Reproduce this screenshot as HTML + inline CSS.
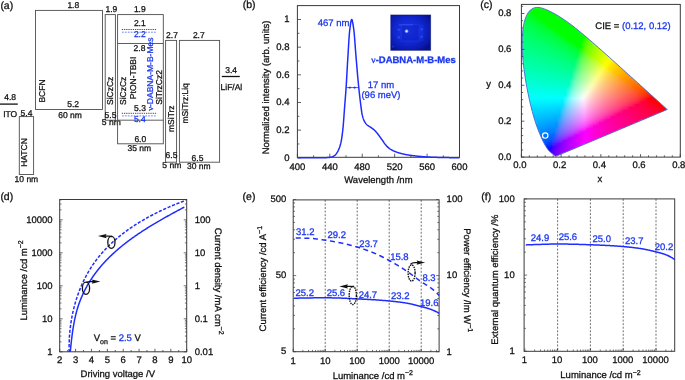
<!DOCTYPE html>
<html><head><meta charset="utf-8"><style>
html,body{margin:0;padding:0;background:#fff;}
#wrap{position:relative;width:685px;height:380px;overflow:hidden;background:#fff;will-change:transform;}
svg{position:absolute;left:0;top:0;}
text{font-family:"Liberation Sans", sans-serif;stroke-width:0.28px;text-rendering:geometricPrecision;}
#cie{position:absolute;left:0;top:0;}
</style></head><body><div id="wrap">
<svg id="ciefb" width="685" height="380" viewBox="0 0 685 380" style="position:absolute;left:0;top:0">
<defs><clipPath id="hs"><path d="M555.98,156.20 L555.97,156.20 L555.96,156.20 L555.95,156.21 L555.93,156.22 L555.92,156.22 L555.90,156.22 L555.89,156.22 L555.87,156.22 L555.84,156.23 L555.82,156.24 L555.79,156.24 L555.77,156.24 L555.74,156.24 L555.71,156.24 L555.68,156.24 L555.64,156.24 L555.60,156.24 L555.56,156.23 L555.50,156.22 L555.44,156.18 L555.36,156.14 L555.27,156.09 L555.17,156.03 L555.07,155.95 L554.94,155.86 L554.80,155.75 L554.63,155.63 L554.45,155.48 L554.26,155.32 L554.05,155.14 L553.81,154.95 L553.54,154.74 L553.24,154.50 L552.88,154.22 L552.50,153.92 L552.09,153.60 L551.63,153.23 L551.13,152.81 L550.59,152.32 L550.00,151.77 L549.37,151.15 L548.69,150.39 L547.91,149.43 L547.03,148.21 L546.05,146.72 L544.97,144.93 L543.79,142.77 L542.51,140.15 L541.10,137.00 L539.53,133.28 L537.80,128.93 L535.98,123.88 L534.11,118.07 L532.26,111.49 L530.42,104.15 L528.60,96.08 L526.87,87.47 L525.32,78.51 L524.03,69.44 L523.03,60.46 L522.38,51.77 L522.13,43.51 L522.33,35.77 L523.00,28.69 L524.16,22.44 L525.82,17.17 L527.93,12.99 L530.41,10.01 L533.18,8.21 L536.16,7.43 L539.27,7.52 L542.46,8.26 L545.70,9.42 L548.94,10.85 L552.12,12.44 L555.22,14.12 L558.23,15.89 L561.18,17.74 L564.10,19.68 L567.00,21.70 L569.88,23.81 L572.76,25.98 L575.62,28.21 L578.46,30.50 L581.30,32.83 L584.13,35.21 L586.97,37.61 L589.81,40.05 L592.66,42.52 L595.50,45.00 L598.33,47.50 L601.16,50.01 L603.98,52.52 L606.80,55.03 L609.60,57.53 L612.38,60.02 L615.13,62.50 L617.85,64.95 L620.53,67.37 L623.18,69.76 L625.79,72.10 L628.34,74.41 L630.84,76.65 L633.27,78.83 L635.63,80.96 L637.91,83.01 L640.09,84.98 L642.15,86.84 L644.08,88.58 L645.92,90.24 L647.68,91.82 L649.34,93.32 L650.89,94.70 L652.32,95.97 L653.63,97.15 L654.84,98.24 L655.95,99.24 L656.96,100.16 L657.89,101.00 L658.73,101.76 L659.50,102.45 L660.21,103.08 L660.85,103.66 L661.44,104.19 L661.99,104.69 L662.50,105.15 L662.98,105.58 L663.42,105.98 L663.82,106.34 L664.19,106.68 L664.53,106.98 L664.84,107.25 L665.12,107.50 L665.37,107.72 L665.58,107.92 L665.78,108.09 L665.96,108.26 L666.12,108.40 L666.26,108.53 L666.38,108.63 L666.48,108.72 L666.56,108.80 L666.63,108.87 L666.71,108.93 L666.78,108.99 L666.83,109.05 L666.89,109.09 L666.94,109.14 L667.00,109.20 L667.05,109.25 L667.10,109.29 L667.15,109.33 L667.19,109.37 L667.22,109.40 L667.25,109.42 L667.28,109.45 L667.29,109.46 L667.31,109.47 L667.31,109.48 L667.31,109.48Z"/></clipPath><filter id="bl" x="-5%" y="-5%" width="110%" height="110%"><feGaussianBlur stdDeviation="1.1"/></filter></defs>
<g clip-path="url(#hs)"><g filter="url(#bl)" shape-rendering="crispEdges"><rect x="529" y="7" width="3" height="3" fill="#00ff00"/><rect x="532" y="7" width="3" height="3" fill="#00ff00"/><rect x="535" y="7" width="3" height="3" fill="#00ff00"/><rect x="538" y="7" width="3" height="3" fill="#00ff00"/><rect x="541" y="7" width="3" height="3" fill="#00ff00"/><rect x="544" y="7" width="3" height="3" fill="#00ff00"/><rect x="547" y="7" width="3" height="3" fill="#00ff00"/><rect x="526" y="10" width="3" height="3" fill="#00ff07"/><rect x="529" y="10" width="3" height="3" fill="#00ff00"/><rect x="532" y="10" width="3" height="3" fill="#00ff00"/><rect x="535" y="10" width="3" height="3" fill="#00ff00"/><rect x="538" y="10" width="3" height="3" fill="#00ff00"/><rect x="541" y="10" width="3" height="3" fill="#00ff00"/><rect x="544" y="10" width="3" height="3" fill="#00ff00"/><rect x="547" y="10" width="3" height="3" fill="#00ff00"/><rect x="550" y="10" width="3" height="3" fill="#00ff00"/><rect x="553" y="10" width="3" height="3" fill="#00ff00"/><rect x="526" y="13" width="3" height="3" fill="#00ff23"/><rect x="529" y="13" width="3" height="3" fill="#00ff13"/><rect x="532" y="13" width="3" height="3" fill="#00ff00"/><rect x="535" y="13" width="3" height="3" fill="#00ff00"/><rect x="538" y="13" width="3" height="3" fill="#00ff00"/><rect x="541" y="13" width="3" height="3" fill="#00ff00"/><rect x="544" y="13" width="3" height="3" fill="#00ff00"/><rect x="547" y="13" width="3" height="3" fill="#00ff00"/><rect x="550" y="13" width="3" height="3" fill="#00ff00"/><rect x="553" y="13" width="3" height="3" fill="#00ff00"/><rect x="556" y="13" width="3" height="3" fill="#00ff00"/><rect x="523" y="16" width="3" height="3" fill="#00ff3a"/><rect x="526" y="16" width="3" height="3" fill="#00ff32"/><rect x="529" y="16" width="3" height="3" fill="#00ff28"/><rect x="532" y="16" width="3" height="3" fill="#00ff1b"/><rect x="535" y="16" width="3" height="3" fill="#00ff00"/><rect x="538" y="16" width="3" height="3" fill="#00ff00"/><rect x="541" y="16" width="3" height="3" fill="#00ff00"/><rect x="544" y="16" width="3" height="3" fill="#00ff00"/><rect x="547" y="16" width="3" height="3" fill="#00ff00"/><rect x="550" y="16" width="3" height="3" fill="#00ff00"/><rect x="553" y="16" width="3" height="3" fill="#00ff00"/><rect x="556" y="16" width="3" height="3" fill="#00ff00"/><rect x="559" y="16" width="3" height="3" fill="#00ff00"/><rect x="562" y="16" width="3" height="3" fill="#00ff00"/><rect x="523" y="19" width="3" height="3" fill="#00ff44"/><rect x="526" y="19" width="3" height="3" fill="#00ff3d"/><rect x="529" y="19" width="3" height="3" fill="#00ff36"/><rect x="532" y="19" width="3" height="3" fill="#00ff2d"/><rect x="535" y="19" width="3" height="3" fill="#00ff22"/><rect x="538" y="19" width="3" height="3" fill="#00ff0e"/><rect x="541" y="19" width="3" height="3" fill="#00ff00"/><rect x="544" y="19" width="3" height="3" fill="#00ff00"/><rect x="547" y="19" width="3" height="3" fill="#00ff00"/><rect x="550" y="19" width="3" height="3" fill="#00ff00"/><rect x="553" y="19" width="3" height="3" fill="#00ff00"/><rect x="556" y="19" width="3" height="3" fill="#00ff00"/><rect x="559" y="19" width="3" height="3" fill="#00ff00"/><rect x="562" y="19" width="3" height="3" fill="#00ff00"/><rect x="565" y="19" width="3" height="3" fill="#00ff00"/><rect x="523" y="22" width="3" height="3" fill="#00ff4d"/><rect x="526" y="22" width="3" height="3" fill="#00ff47"/><rect x="529" y="22" width="3" height="3" fill="#00ff41"/><rect x="532" y="22" width="3" height="3" fill="#00ff3a"/><rect x="535" y="22" width="3" height="3" fill="#00ff32"/><rect x="538" y="22" width="3" height="3" fill="#00ff27"/><rect x="541" y="22" width="3" height="3" fill="#00ff18"/><rect x="544" y="22" width="3" height="3" fill="#00ff00"/><rect x="547" y="22" width="3" height="3" fill="#00ff00"/><rect x="550" y="22" width="3" height="3" fill="#00ff00"/><rect x="553" y="22" width="3" height="3" fill="#00ff00"/><rect x="556" y="22" width="3" height="3" fill="#00ff00"/><rect x="559" y="22" width="3" height="3" fill="#00ff00"/><rect x="562" y="22" width="3" height="3" fill="#00ff00"/><rect x="565" y="22" width="3" height="3" fill="#00ff00"/><rect x="568" y="22" width="3" height="3" fill="#00ff00"/><rect x="571" y="22" width="3" height="3" fill="#00ff00"/><rect x="523" y="25" width="3" height="3" fill="#00ff55"/><rect x="526" y="25" width="3" height="3" fill="#00ff50"/><rect x="529" y="25" width="3" height="3" fill="#00ff4b"/><rect x="532" y="25" width="3" height="3" fill="#00ff45"/><rect x="535" y="25" width="3" height="3" fill="#00ff3e"/><rect x="538" y="25" width="3" height="3" fill="#00ff37"/><rect x="541" y="25" width="3" height="3" fill="#00ff2d"/><rect x="544" y="25" width="3" height="3" fill="#00ff20"/><rect x="547" y="25" width="3" height="3" fill="#00ff08"/><rect x="550" y="25" width="3" height="3" fill="#00ff00"/><rect x="553" y="25" width="3" height="3" fill="#00ff00"/><rect x="556" y="25" width="3" height="3" fill="#00ff00"/><rect x="559" y="25" width="3" height="3" fill="#00ff00"/><rect x="562" y="25" width="3" height="3" fill="#00ff00"/><rect x="565" y="25" width="3" height="3" fill="#00ff00"/><rect x="568" y="25" width="3" height="3" fill="#00ff00"/><rect x="571" y="25" width="3" height="3" fill="#00ff00"/><rect x="574" y="25" width="3" height="3" fill="#00ff00"/><rect x="520" y="28" width="3" height="3" fill="#00ff61"/><rect x="523" y="28" width="3" height="3" fill="#00ff5d"/><rect x="526" y="28" width="3" height="3" fill="#00ff59"/><rect x="529" y="28" width="3" height="3" fill="#00ff54"/><rect x="532" y="28" width="3" height="3" fill="#00ff4f"/><rect x="535" y="28" width="3" height="3" fill="#00ff49"/><rect x="538" y="28" width="3" height="3" fill="#00ff43"/><rect x="541" y="28" width="3" height="3" fill="#00ff3b"/><rect x="544" y="28" width="3" height="3" fill="#00ff32"/><rect x="547" y="28" width="3" height="3" fill="#00ff27"/><rect x="550" y="28" width="3" height="3" fill="#00ff15"/><rect x="553" y="28" width="3" height="3" fill="#00ff00"/><rect x="556" y="28" width="3" height="3" fill="#00ff00"/><rect x="559" y="28" width="3" height="3" fill="#00ff00"/><rect x="562" y="28" width="3" height="3" fill="#00ff00"/><rect x="565" y="28" width="3" height="3" fill="#00ff00"/><rect x="568" y="28" width="3" height="3" fill="#00ff00"/><rect x="571" y="28" width="3" height="3" fill="#00ff00"/><rect x="574" y="28" width="3" height="3" fill="#00ff00"/><rect x="577" y="28" width="3" height="3" fill="#00ff00"/><rect x="520" y="31" width="3" height="3" fill="#00ff68"/><rect x="523" y="31" width="3" height="3" fill="#00ff64"/><rect x="526" y="31" width="3" height="3" fill="#00ff60"/><rect x="529" y="31" width="3" height="3" fill="#00ff5c"/><rect x="532" y="31" width="3" height="3" fill="#00ff57"/><rect x="535" y="31" width="3" height="3" fill="#00ff52"/><rect x="538" y="31" width="3" height="3" fill="#00ff4d"/><rect x="541" y="31" width="3" height="3" fill="#00ff47"/><rect x="544" y="31" width="3" height="3" fill="#00ff3f"/><rect x="547" y="31" width="3" height="3" fill="#00ff37"/><rect x="550" y="31" width="3" height="3" fill="#00ff2d"/><rect x="553" y="31" width="3" height="3" fill="#00ff1e"/><rect x="556" y="31" width="3" height="3" fill="#00ff00"/><rect x="559" y="31" width="3" height="3" fill="#00ff00"/><rect x="562" y="31" width="3" height="3" fill="#00ff00"/><rect x="565" y="31" width="3" height="3" fill="#00ff00"/><rect x="568" y="31" width="3" height="3" fill="#00ff00"/><rect x="571" y="31" width="3" height="3" fill="#00ff00"/><rect x="574" y="31" width="3" height="3" fill="#00ff00"/><rect x="577" y="31" width="3" height="3" fill="#00ff00"/><rect x="580" y="31" width="3" height="3" fill="#00ff00"/><rect x="520" y="34" width="3" height="3" fill="#00ff6f"/><rect x="523" y="34" width="3" height="3" fill="#00ff6b"/><rect x="526" y="34" width="3" height="3" fill="#00ff68"/><rect x="529" y="34" width="3" height="3" fill="#00ff64"/><rect x="532" y="34" width="3" height="3" fill="#00ff60"/><rect x="535" y="34" width="3" height="3" fill="#00ff5b"/><rect x="538" y="34" width="3" height="3" fill="#00ff56"/><rect x="541" y="34" width="3" height="3" fill="#00ff51"/><rect x="544" y="34" width="3" height="3" fill="#00ff4b"/><rect x="547" y="34" width="3" height="3" fill="#00ff44"/><rect x="550" y="34" width="3" height="3" fill="#00ff3c"/><rect x="553" y="34" width="3" height="3" fill="#00ff32"/><rect x="556" y="34" width="3" height="3" fill="#00ff25"/><rect x="559" y="34" width="3" height="3" fill="#00ff10"/><rect x="562" y="34" width="3" height="3" fill="#00ff00"/><rect x="565" y="34" width="3" height="3" fill="#00ff00"/><rect x="568" y="34" width="3" height="3" fill="#00ff00"/><rect x="571" y="34" width="3" height="3" fill="#00ff00"/><rect x="574" y="34" width="3" height="3" fill="#00ff00"/><rect x="577" y="34" width="3" height="3" fill="#00ff00"/><rect x="580" y="34" width="3" height="3" fill="#00ff00"/><rect x="583" y="34" width="3" height="3" fill="#00ff00"/><rect x="586" y="34" width="3" height="3" fill="#3cff00"/><rect x="520" y="37" width="3" height="3" fill="#00ff75"/><rect x="523" y="37" width="3" height="3" fill="#00ff72"/><rect x="526" y="37" width="3" height="3" fill="#00ff6f"/><rect x="529" y="37" width="3" height="3" fill="#00ff6b"/><rect x="532" y="37" width="3" height="3" fill="#00ff67"/><rect x="535" y="37" width="3" height="3" fill="#00ff63"/><rect x="538" y="37" width="3" height="3" fill="#00ff5f"/><rect x="541" y="37" width="3" height="3" fill="#00ff5a"/><rect x="544" y="37" width="3" height="3" fill="#00ff55"/><rect x="547" y="37" width="3" height="3" fill="#00ff4f"/><rect x="550" y="37" width="3" height="3" fill="#00ff48"/><rect x="553" y="37" width="3" height="3" fill="#00ff41"/><rect x="556" y="37" width="3" height="3" fill="#00ff38"/><rect x="559" y="37" width="3" height="3" fill="#00ff2c"/><rect x="562" y="37" width="3" height="3" fill="#00ff1b"/><rect x="565" y="37" width="3" height="3" fill="#00ff00"/><rect x="568" y="37" width="3" height="3" fill="#00ff00"/><rect x="571" y="37" width="3" height="3" fill="#00ff00"/><rect x="574" y="37" width="3" height="3" fill="#00ff00"/><rect x="577" y="37" width="3" height="3" fill="#00ff00"/><rect x="580" y="37" width="3" height="3" fill="#00ff00"/><rect x="583" y="37" width="3" height="3" fill="#0bff00"/><rect x="586" y="37" width="3" height="3" fill="#48ff00"/><rect x="589" y="37" width="3" height="3" fill="#65ff00"/><rect x="520" y="40" width="3" height="3" fill="#00ff7c"/><rect x="523" y="40" width="3" height="3" fill="#00ff79"/><rect x="526" y="40" width="3" height="3" fill="#00ff76"/><rect x="529" y="40" width="3" height="3" fill="#00ff72"/><rect x="532" y="40" width="3" height="3" fill="#00ff6f"/><rect x="535" y="40" width="3" height="3" fill="#00ff6b"/><rect x="538" y="40" width="3" height="3" fill="#00ff67"/><rect x="541" y="40" width="3" height="3" fill="#00ff63"/><rect x="544" y="40" width="3" height="3" fill="#00ff5e"/><rect x="547" y="40" width="3" height="3" fill="#00ff59"/><rect x="550" y="40" width="3" height="3" fill="#00ff53"/><rect x="553" y="40" width="3" height="3" fill="#00ff4d"/><rect x="556" y="40" width="3" height="3" fill="#00ff46"/><rect x="559" y="40" width="3" height="3" fill="#00ff3d"/><rect x="562" y="40" width="3" height="3" fill="#00ff32"/><rect x="565" y="40" width="3" height="3" fill="#00ff24"/><rect x="568" y="40" width="3" height="3" fill="#00ff08"/><rect x="571" y="40" width="3" height="3" fill="#00ff00"/><rect x="574" y="40" width="3" height="3" fill="#00ff00"/><rect x="577" y="40" width="3" height="3" fill="#00ff00"/><rect x="580" y="40" width="3" height="3" fill="#00ff00"/><rect x="583" y="40" width="3" height="3" fill="#2aff00"/><rect x="586" y="40" width="3" height="3" fill="#53ff00"/><rect x="589" y="40" width="3" height="3" fill="#6dff00"/><rect x="592" y="40" width="3" height="3" fill="#82ff00"/><rect x="520" y="43" width="3" height="3" fill="#00ff82"/><rect x="523" y="43" width="3" height="3" fill="#00ff7f"/><rect x="526" y="43" width="3" height="3" fill="#00ff7c"/><rect x="529" y="43" width="3" height="3" fill="#00ff79"/><rect x="532" y="43" width="3" height="3" fill="#00ff76"/><rect x="535" y="43" width="3" height="3" fill="#00ff73"/><rect x="538" y="43" width="3" height="3" fill="#00ff6f"/><rect x="541" y="43" width="3" height="3" fill="#00ff6b"/><rect x="544" y="43" width="3" height="3" fill="#00ff67"/><rect x="547" y="43" width="3" height="3" fill="#00ff62"/><rect x="550" y="43" width="3" height="3" fill="#00ff5d"/><rect x="553" y="43" width="3" height="3" fill="#00ff58"/><rect x="556" y="43" width="3" height="3" fill="#00ff51"/><rect x="559" y="43" width="3" height="3" fill="#00ff4a"/><rect x="562" y="43" width="3" height="3" fill="#00ff42"/><rect x="565" y="43" width="3" height="3" fill="#00ff38"/><rect x="568" y="43" width="3" height="3" fill="#00ff2c"/><rect x="571" y="43" width="3" height="3" fill="#00ff18"/><rect x="574" y="43" width="3" height="3" fill="#00ff00"/><rect x="577" y="43" width="3" height="3" fill="#00ff00"/><rect x="580" y="43" width="3" height="3" fill="#00ff00"/><rect x="583" y="43" width="3" height="3" fill="#3bff00"/><rect x="586" y="43" width="3" height="3" fill="#5dff00"/><rect x="589" y="43" width="3" height="3" fill="#75ff00"/><rect x="592" y="43" width="3" height="3" fill="#89ff00"/><rect x="595" y="43" width="3" height="3" fill="#9bff00"/><rect x="520" y="46" width="3" height="3" fill="#00ff88"/><rect x="523" y="46" width="3" height="3" fill="#00ff86"/><rect x="526" y="46" width="3" height="3" fill="#00ff83"/><rect x="529" y="46" width="3" height="3" fill="#00ff80"/><rect x="532" y="46" width="3" height="3" fill="#00ff7d"/><rect x="535" y="46" width="3" height="3" fill="#00ff7a"/><rect x="538" y="46" width="3" height="3" fill="#00ff77"/><rect x="541" y="46" width="3" height="3" fill="#00ff73"/><rect x="544" y="46" width="3" height="3" fill="#00ff6f"/><rect x="547" y="46" width="3" height="3" fill="#00ff6b"/><rect x="550" y="46" width="3" height="3" fill="#00ff66"/><rect x="553" y="46" width="3" height="3" fill="#00ff62"/><rect x="556" y="46" width="3" height="3" fill="#00ff5c"/><rect x="559" y="46" width="3" height="3" fill="#00ff56"/><rect x="562" y="46" width="3" height="3" fill="#00ff4f"/><rect x="565" y="46" width="3" height="3" fill="#00ff48"/><rect x="568" y="46" width="3" height="3" fill="#00ff3e"/><rect x="571" y="46" width="3" height="3" fill="#00ff33"/><rect x="574" y="46" width="3" height="3" fill="#00ff22"/><rect x="577" y="46" width="3" height="3" fill="#00ff00"/><rect x="580" y="46" width="3" height="3" fill="#00ff00"/><rect x="583" y="46" width="3" height="3" fill="#49ff00"/><rect x="586" y="46" width="3" height="3" fill="#67ff00"/><rect x="589" y="46" width="3" height="3" fill="#7eff00"/><rect x="592" y="46" width="3" height="3" fill="#91ff00"/><rect x="595" y="46" width="3" height="3" fill="#a2ff00"/><rect x="598" y="46" width="3" height="3" fill="#b1ff00"/><rect x="520" y="49" width="3" height="3" fill="#00ff8e"/><rect x="523" y="49" width="3" height="3" fill="#00ff8c"/><rect x="526" y="49" width="3" height="3" fill="#00ff8a"/><rect x="529" y="49" width="3" height="3" fill="#00ff87"/><rect x="532" y="49" width="3" height="3" fill="#00ff84"/><rect x="535" y="49" width="3" height="3" fill="#00ff81"/><rect x="538" y="49" width="3" height="3" fill="#00ff7e"/><rect x="541" y="49" width="3" height="3" fill="#00ff7b"/><rect x="544" y="49" width="3" height="3" fill="#00ff77"/><rect x="547" y="49" width="3" height="3" fill="#00ff73"/><rect x="550" y="49" width="3" height="3" fill="#00ff6f"/><rect x="553" y="49" width="3" height="3" fill="#00ff6b"/><rect x="556" y="49" width="3" height="3" fill="#00ff66"/><rect x="559" y="49" width="3" height="3" fill="#00ff61"/><rect x="562" y="49" width="3" height="3" fill="#00ff5b"/><rect x="565" y="49" width="3" height="3" fill="#00ff54"/><rect x="568" y="49" width="3" height="3" fill="#00ff4d"/><rect x="571" y="49" width="3" height="3" fill="#00ff44"/><rect x="574" y="49" width="3" height="3" fill="#00ff39"/><rect x="577" y="49" width="3" height="3" fill="#00ff2b"/><rect x="580" y="49" width="3" height="3" fill="#26ff12"/><rect x="583" y="49" width="3" height="3" fill="#54ff00"/><rect x="586" y="49" width="3" height="3" fill="#70ff00"/><rect x="589" y="49" width="3" height="3" fill="#86ff00"/><rect x="592" y="49" width="3" height="3" fill="#99ff00"/><rect x="595" y="49" width="3" height="3" fill="#a9ff00"/><rect x="598" y="49" width="3" height="3" fill="#b9ff00"/><rect x="601" y="49" width="3" height="3" fill="#c7ff00"/><rect x="520" y="52" width="3" height="3" fill="#00ff95"/><rect x="523" y="52" width="3" height="3" fill="#00ff92"/><rect x="526" y="52" width="3" height="3" fill="#00ff90"/><rect x="529" y="52" width="3" height="3" fill="#00ff8e"/><rect x="532" y="52" width="3" height="3" fill="#00ff8b"/><rect x="535" y="52" width="3" height="3" fill="#00ff88"/><rect x="538" y="52" width="3" height="3" fill="#00ff85"/><rect x="541" y="52" width="3" height="3" fill="#00ff82"/><rect x="544" y="52" width="3" height="3" fill="#00ff7f"/><rect x="547" y="52" width="3" height="3" fill="#00ff7c"/><rect x="550" y="52" width="3" height="3" fill="#00ff78"/><rect x="553" y="52" width="3" height="3" fill="#00ff74"/><rect x="556" y="52" width="3" height="3" fill="#00ff70"/><rect x="559" y="52" width="3" height="3" fill="#00ff6b"/><rect x="562" y="52" width="3" height="3" fill="#00ff66"/><rect x="565" y="52" width="3" height="3" fill="#00ff60"/><rect x="568" y="52" width="3" height="3" fill="#00ff5a"/><rect x="571" y="52" width="3" height="3" fill="#00ff52"/><rect x="574" y="52" width="3" height="3" fill="#00ff4a"/><rect x="577" y="52" width="3" height="3" fill="#00ff40"/><rect x="580" y="52" width="3" height="3" fill="#3aff33"/><rect x="583" y="52" width="3" height="3" fill="#5fff20"/><rect x="586" y="52" width="3" height="3" fill="#79ff00"/><rect x="589" y="52" width="3" height="3" fill="#8eff00"/><rect x="592" y="52" width="3" height="3" fill="#a0ff00"/><rect x="595" y="52" width="3" height="3" fill="#b1ff00"/><rect x="598" y="52" width="3" height="3" fill="#c0ff00"/><rect x="601" y="52" width="3" height="3" fill="#cfff00"/><rect x="604" y="52" width="3" height="3" fill="#ddff00"/><rect x="520" y="55" width="3" height="3" fill="#00ff9b"/><rect x="523" y="55" width="3" height="3" fill="#00ff99"/><rect x="526" y="55" width="3" height="3" fill="#00ff97"/><rect x="529" y="55" width="3" height="3" fill="#00ff94"/><rect x="532" y="55" width="3" height="3" fill="#00ff92"/><rect x="535" y="55" width="3" height="3" fill="#00ff8f"/><rect x="538" y="55" width="3" height="3" fill="#00ff8d"/><rect x="541" y="55" width="3" height="3" fill="#00ff8a"/><rect x="544" y="55" width="3" height="3" fill="#00ff87"/><rect x="547" y="55" width="3" height="3" fill="#00ff84"/><rect x="550" y="55" width="3" height="3" fill="#00ff80"/><rect x="553" y="55" width="3" height="3" fill="#00ff7d"/><rect x="556" y="55" width="3" height="3" fill="#00ff79"/><rect x="559" y="55" width="3" height="3" fill="#00ff74"/><rect x="562" y="55" width="3" height="3" fill="#00ff70"/><rect x="565" y="55" width="3" height="3" fill="#00ff6b"/><rect x="568" y="55" width="3" height="3" fill="#00ff65"/><rect x="571" y="55" width="3" height="3" fill="#00ff5f"/><rect x="574" y="55" width="3" height="3" fill="#00ff58"/><rect x="577" y="55" width="3" height="3" fill="#00ff50"/><rect x="580" y="55" width="3" height="3" fill="#49ff46"/><rect x="583" y="55" width="3" height="3" fill="#6aff3a"/><rect x="586" y="55" width="3" height="3" fill="#82ff2a"/><rect x="589" y="55" width="3" height="3" fill="#96ff09"/><rect x="592" y="55" width="3" height="3" fill="#a8ff00"/><rect x="595" y="55" width="3" height="3" fill="#b9ff00"/><rect x="598" y="55" width="3" height="3" fill="#c8ff00"/><rect x="601" y="55" width="3" height="3" fill="#d7ff00"/><rect x="604" y="55" width="3" height="3" fill="#e5ff00"/><rect x="607" y="55" width="3" height="3" fill="#f3ff00"/><rect x="610" y="55" width="3" height="3" fill="#fffe00"/><rect x="520" y="58" width="3" height="3" fill="#00ffa1"/><rect x="523" y="58" width="3" height="3" fill="#00ff9f"/><rect x="526" y="58" width="3" height="3" fill="#00ff9d"/><rect x="529" y="58" width="3" height="3" fill="#00ff9b"/><rect x="532" y="58" width="3" height="3" fill="#00ff99"/><rect x="535" y="58" width="3" height="3" fill="#00ff96"/><rect x="538" y="58" width="3" height="3" fill="#00ff94"/><rect x="541" y="58" width="3" height="3" fill="#00ff91"/><rect x="544" y="58" width="3" height="3" fill="#00ff8f"/><rect x="547" y="58" width="3" height="3" fill="#00ff8c"/><rect x="550" y="58" width="3" height="3" fill="#00ff88"/><rect x="553" y="58" width="3" height="3" fill="#00ff85"/><rect x="556" y="58" width="3" height="3" fill="#00ff82"/><rect x="559" y="58" width="3" height="3" fill="#00ff7e"/><rect x="562" y="58" width="3" height="3" fill="#00ff7a"/><rect x="565" y="58" width="3" height="3" fill="#00ff75"/><rect x="568" y="58" width="3" height="3" fill="#00ff70"/><rect x="571" y="58" width="3" height="3" fill="#00ff6b"/><rect x="574" y="58" width="3" height="3" fill="#00ff65"/><rect x="577" y="58" width="3" height="3" fill="#22ff5e"/><rect x="580" y="58" width="3" height="3" fill="#56ff56"/><rect x="583" y="58" width="3" height="3" fill="#74ff4d"/><rect x="586" y="58" width="3" height="3" fill="#8bff42"/><rect x="589" y="58" width="3" height="3" fill="#9fff33"/><rect x="592" y="58" width="3" height="3" fill="#b1ff1c"/><rect x="595" y="58" width="3" height="3" fill="#c1ff00"/><rect x="598" y="58" width="3" height="3" fill="#d1ff00"/><rect x="601" y="58" width="3" height="3" fill="#dfff00"/><rect x="604" y="58" width="3" height="3" fill="#eeff00"/><rect x="607" y="58" width="3" height="3" fill="#fbff00"/><rect x="610" y="58" width="3" height="3" fill="#fff500"/><rect x="613" y="58" width="3" height="3" fill="#ffea00"/><rect x="523" y="61" width="3" height="3" fill="#00ffa6"/><rect x="526" y="61" width="3" height="3" fill="#00ffa4"/><rect x="529" y="61" width="3" height="3" fill="#00ffa2"/><rect x="532" y="61" width="3" height="3" fill="#00ffa0"/><rect x="535" y="61" width="3" height="3" fill="#00ff9e"/><rect x="538" y="61" width="3" height="3" fill="#00ff9b"/><rect x="541" y="61" width="3" height="3" fill="#00ff99"/><rect x="544" y="61" width="3" height="3" fill="#00ff96"/><rect x="547" y="61" width="3" height="3" fill="#00ff93"/><rect x="550" y="61" width="3" height="3" fill="#00ff91"/><rect x="553" y="61" width="3" height="3" fill="#00ff8e"/><rect x="556" y="61" width="3" height="3" fill="#00ff8a"/><rect x="559" y="61" width="3" height="3" fill="#00ff87"/><rect x="562" y="61" width="3" height="3" fill="#00ff83"/><rect x="565" y="61" width="3" height="3" fill="#00ff7f"/><rect x="568" y="61" width="3" height="3" fill="#00ff7b"/><rect x="571" y="61" width="3" height="3" fill="#00ff76"/><rect x="574" y="61" width="3" height="3" fill="#00ff70"/><rect x="577" y="61" width="3" height="3" fill="#39ff6b"/><rect x="580" y="61" width="3" height="3" fill="#62ff64"/><rect x="583" y="61" width="3" height="3" fill="#7dff5c"/><rect x="586" y="61" width="3" height="3" fill="#94ff54"/><rect x="589" y="61" width="3" height="3" fill="#a7ff49"/><rect x="592" y="61" width="3" height="3" fill="#b9ff3c"/><rect x="595" y="61" width="3" height="3" fill="#caff29"/><rect x="598" y="61" width="3" height="3" fill="#d9ff00"/><rect x="601" y="61" width="3" height="3" fill="#e8ff00"/><rect x="604" y="61" width="3" height="3" fill="#f7ff00"/><rect x="607" y="61" width="3" height="3" fill="#fff900"/><rect x="610" y="61" width="3" height="3" fill="#ffed00"/><rect x="613" y="61" width="3" height="3" fill="#ffe100"/><rect x="616" y="61" width="3" height="3" fill="#ffd700"/><rect x="523" y="64" width="3" height="3" fill="#00ffac"/><rect x="526" y="64" width="3" height="3" fill="#00ffaa"/><rect x="529" y="64" width="3" height="3" fill="#00ffa9"/><rect x="532" y="64" width="3" height="3" fill="#00ffa7"/><rect x="535" y="64" width="3" height="3" fill="#00ffa5"/><rect x="538" y="64" width="3" height="3" fill="#00ffa3"/><rect x="541" y="64" width="3" height="3" fill="#00ffa0"/><rect x="544" y="64" width="3" height="3" fill="#00ff9e"/><rect x="547" y="64" width="3" height="3" fill="#00ff9b"/><rect x="550" y="64" width="3" height="3" fill="#00ff99"/><rect x="553" y="64" width="3" height="3" fill="#00ff96"/><rect x="556" y="64" width="3" height="3" fill="#00ff93"/><rect x="559" y="64" width="3" height="3" fill="#00ff90"/><rect x="562" y="64" width="3" height="3" fill="#00ff8c"/><rect x="565" y="64" width="3" height="3" fill="#00ff89"/><rect x="568" y="64" width="3" height="3" fill="#00ff85"/><rect x="571" y="64" width="3" height="3" fill="#00ff80"/><rect x="574" y="64" width="3" height="3" fill="#00ff7c"/><rect x="577" y="64" width="3" height="3" fill="#4aff77"/><rect x="580" y="64" width="3" height="3" fill="#6dff71"/><rect x="583" y="64" width="3" height="3" fill="#87ff6a"/><rect x="586" y="64" width="3" height="3" fill="#9dff63"/><rect x="589" y="64" width="3" height="3" fill="#b0ff5b"/><rect x="592" y="64" width="3" height="3" fill="#c2ff51"/><rect x="595" y="64" width="3" height="3" fill="#d2ff44"/><rect x="598" y="64" width="3" height="3" fill="#e2ff34"/><rect x="601" y="64" width="3" height="3" fill="#f1ff16"/><rect x="604" y="64" width="3" height="3" fill="#fffe00"/><rect x="607" y="64" width="3" height="3" fill="#fff000"/><rect x="610" y="64" width="3" height="3" fill="#ffe400"/><rect x="613" y="64" width="3" height="3" fill="#ffd900"/><rect x="616" y="64" width="3" height="3" fill="#ffcf00"/><rect x="619" y="64" width="3" height="3" fill="#ffc600"/><rect x="523" y="67" width="3" height="3" fill="#00ffb3"/><rect x="526" y="67" width="3" height="3" fill="#00ffb1"/><rect x="529" y="67" width="3" height="3" fill="#00ffb0"/><rect x="532" y="67" width="3" height="3" fill="#00ffae"/><rect x="535" y="67" width="3" height="3" fill="#00ffac"/><rect x="538" y="67" width="3" height="3" fill="#00ffaa"/><rect x="541" y="67" width="3" height="3" fill="#00ffa8"/><rect x="544" y="67" width="3" height="3" fill="#00ffa6"/><rect x="547" y="67" width="3" height="3" fill="#00ffa3"/><rect x="550" y="67" width="3" height="3" fill="#00ffa1"/><rect x="553" y="67" width="3" height="3" fill="#00ff9e"/><rect x="556" y="67" width="3" height="3" fill="#00ff9c"/><rect x="559" y="67" width="3" height="3" fill="#00ff99"/><rect x="562" y="67" width="3" height="3" fill="#00ff96"/><rect x="565" y="67" width="3" height="3" fill="#00ff92"/><rect x="568" y="67" width="3" height="3" fill="#00ff8f"/><rect x="571" y="67" width="3" height="3" fill="#00ff8b"/><rect x="574" y="67" width="3" height="3" fill="#1bff87"/><rect x="577" y="67" width="3" height="3" fill="#58ff82"/><rect x="580" y="67" width="3" height="3" fill="#78ff7d"/><rect x="583" y="67" width="3" height="3" fill="#91ff77"/><rect x="586" y="67" width="3" height="3" fill="#a6ff71"/><rect x="589" y="67" width="3" height="3" fill="#b9ff6a"/><rect x="592" y="67" width="3" height="3" fill="#cbff62"/><rect x="595" y="67" width="3" height="3" fill="#dcff59"/><rect x="598" y="67" width="3" height="3" fill="#ecff4d"/><rect x="601" y="67" width="3" height="3" fill="#fbff3e"/><rect x="604" y="67" width="3" height="3" fill="#fff425"/><rect x="607" y="67" width="3" height="3" fill="#ffe700"/><rect x="610" y="67" width="3" height="3" fill="#ffdc00"/><rect x="613" y="67" width="3" height="3" fill="#ffd100"/><rect x="616" y="67" width="3" height="3" fill="#ffc700"/><rect x="619" y="67" width="3" height="3" fill="#ffbf00"/><rect x="622" y="67" width="3" height="3" fill="#ffb600"/><rect x="523" y="70" width="3" height="3" fill="#00ffba"/><rect x="526" y="70" width="3" height="3" fill="#00ffb8"/><rect x="529" y="70" width="3" height="3" fill="#00ffb7"/><rect x="532" y="70" width="3" height="3" fill="#00ffb5"/><rect x="535" y="70" width="3" height="3" fill="#00ffb3"/><rect x="538" y="70" width="3" height="3" fill="#00ffb1"/><rect x="541" y="70" width="3" height="3" fill="#00ffb0"/><rect x="544" y="70" width="3" height="3" fill="#00ffae"/><rect x="547" y="70" width="3" height="3" fill="#00ffab"/><rect x="550" y="70" width="3" height="3" fill="#00ffa9"/><rect x="553" y="70" width="3" height="3" fill="#00ffa7"/><rect x="556" y="70" width="3" height="3" fill="#00ffa4"/><rect x="559" y="70" width="3" height="3" fill="#00ffa2"/><rect x="562" y="70" width="3" height="3" fill="#00ff9f"/><rect x="565" y="70" width="3" height="3" fill="#00ff9c"/><rect x="568" y="70" width="3" height="3" fill="#00ff99"/><rect x="571" y="70" width="3" height="3" fill="#00ff95"/><rect x="574" y="70" width="3" height="3" fill="#37ff92"/><rect x="577" y="70" width="3" height="3" fill="#65ff8d"/><rect x="580" y="70" width="3" height="3" fill="#83ff89"/><rect x="583" y="70" width="3" height="3" fill="#9bff84"/><rect x="586" y="70" width="3" height="3" fill="#b0ff7f"/><rect x="589" y="70" width="3" height="3" fill="#c3ff79"/><rect x="592" y="70" width="3" height="3" fill="#d4ff72"/><rect x="595" y="70" width="3" height="3" fill="#e5ff6a"/><rect x="598" y="70" width="3" height="3" fill="#f6ff61"/><rect x="601" y="70" width="3" height="3" fill="#fff954"/><rect x="604" y="70" width="3" height="3" fill="#ffeb42"/><rect x="607" y="70" width="3" height="3" fill="#ffde2c"/><rect x="610" y="70" width="3" height="3" fill="#ffd307"/><rect x="613" y="70" width="3" height="3" fill="#ffc900"/><rect x="616" y="70" width="3" height="3" fill="#ffbf00"/><rect x="619" y="70" width="3" height="3" fill="#ffb700"/><rect x="622" y="70" width="3" height="3" fill="#ffaf00"/><rect x="625" y="70" width="3" height="3" fill="#ffa700"/><rect x="523" y="73" width="3" height="3" fill="#00ffc0"/><rect x="526" y="73" width="3" height="3" fill="#00ffbf"/><rect x="529" y="73" width="3" height="3" fill="#00ffbe"/><rect x="532" y="73" width="3" height="3" fill="#00ffbc"/><rect x="535" y="73" width="3" height="3" fill="#00ffbb"/><rect x="538" y="73" width="3" height="3" fill="#00ffb9"/><rect x="541" y="73" width="3" height="3" fill="#00ffb7"/><rect x="544" y="73" width="3" height="3" fill="#00ffb6"/><rect x="547" y="73" width="3" height="3" fill="#00ffb4"/><rect x="550" y="73" width="3" height="3" fill="#00ffb2"/><rect x="553" y="73" width="3" height="3" fill="#00ffb0"/><rect x="556" y="73" width="3" height="3" fill="#00ffad"/><rect x="559" y="73" width="3" height="3" fill="#00ffab"/><rect x="562" y="73" width="3" height="3" fill="#00ffa8"/><rect x="565" y="73" width="3" height="3" fill="#00ffa6"/><rect x="568" y="73" width="3" height="3" fill="#00ffa3"/><rect x="571" y="73" width="3" height="3" fill="#00ffa0"/><rect x="574" y="73" width="3" height="3" fill="#4aff9c"/><rect x="577" y="73" width="3" height="3" fill="#71ff99"/><rect x="580" y="73" width="3" height="3" fill="#8dff95"/><rect x="583" y="73" width="3" height="3" fill="#a5ff90"/><rect x="586" y="73" width="3" height="3" fill="#b9ff8c"/><rect x="589" y="73" width="3" height="3" fill="#cdff86"/><rect x="592" y="73" width="3" height="3" fill="#dfff81"/><rect x="595" y="73" width="3" height="3" fill="#f0ff7a"/><rect x="598" y="73" width="3" height="3" fill="#fffe72"/><rect x="601" y="73" width="3" height="3" fill="#ffef62"/><rect x="604" y="73" width="3" height="3" fill="#ffe153"/><rect x="607" y="73" width="3" height="3" fill="#ffd543"/><rect x="610" y="73" width="3" height="3" fill="#ffca31"/><rect x="613" y="73" width="3" height="3" fill="#ffc119"/><rect x="616" y="73" width="3" height="3" fill="#ffb700"/><rect x="619" y="73" width="3" height="3" fill="#ffaf00"/><rect x="622" y="73" width="3" height="3" fill="#ffa700"/><rect x="625" y="73" width="3" height="3" fill="#ffa000"/><rect x="628" y="73" width="3" height="3" fill="#ff9900"/><rect x="523" y="76" width="3" height="3" fill="#00ffc8"/><rect x="526" y="76" width="3" height="3" fill="#00ffc6"/><rect x="529" y="76" width="3" height="3" fill="#00ffc5"/><rect x="532" y="76" width="3" height="3" fill="#00ffc4"/><rect x="535" y="76" width="3" height="3" fill="#00ffc2"/><rect x="538" y="76" width="3" height="3" fill="#00ffc1"/><rect x="541" y="76" width="3" height="3" fill="#00ffbf"/><rect x="544" y="76" width="3" height="3" fill="#00ffbe"/><rect x="547" y="76" width="3" height="3" fill="#00ffbc"/><rect x="550" y="76" width="3" height="3" fill="#00ffba"/><rect x="553" y="76" width="3" height="3" fill="#00ffb8"/><rect x="556" y="76" width="3" height="3" fill="#00ffb6"/><rect x="559" y="76" width="3" height="3" fill="#00ffb4"/><rect x="562" y="76" width="3" height="3" fill="#00ffb2"/><rect x="565" y="76" width="3" height="3" fill="#00ffb0"/><rect x="568" y="76" width="3" height="3" fill="#00ffad"/><rect x="571" y="76" width="3" height="3" fill="#0fffaa"/><rect x="574" y="76" width="3" height="3" fill="#5affa7"/><rect x="577" y="76" width="3" height="3" fill="#7dffa4"/><rect x="580" y="76" width="3" height="3" fill="#98ffa1"/><rect x="583" y="76" width="3" height="3" fill="#afff9d"/><rect x="586" y="76" width="3" height="3" fill="#c4ff99"/><rect x="589" y="76" width="3" height="3" fill="#d7ff94"/><rect x="592" y="76" width="3" height="3" fill="#e9ff8f"/><rect x="595" y="76" width="3" height="3" fill="#fbff89"/><rect x="598" y="76" width="3" height="3" fill="#fff37d"/><rect x="601" y="76" width="3" height="3" fill="#ffe46e"/><rect x="604" y="76" width="3" height="3" fill="#ffd860"/><rect x="607" y="76" width="3" height="3" fill="#ffcc53"/><rect x="610" y="76" width="3" height="3" fill="#ffc245"/><rect x="613" y="76" width="3" height="3" fill="#ffb835"/><rect x="616" y="76" width="3" height="3" fill="#ffaf22"/><rect x="619" y="76" width="3" height="3" fill="#ffa700"/><rect x="622" y="76" width="3" height="3" fill="#ff9f00"/><rect x="625" y="76" width="3" height="3" fill="#ff9800"/><rect x="628" y="76" width="3" height="3" fill="#ff9100"/><rect x="631" y="76" width="3" height="3" fill="#ff8a00"/><rect x="523" y="79" width="3" height="3" fill="#00ffcf"/><rect x="526" y="79" width="3" height="3" fill="#00ffce"/><rect x="529" y="79" width="3" height="3" fill="#00ffcd"/><rect x="532" y="79" width="3" height="3" fill="#00ffcb"/><rect x="535" y="79" width="3" height="3" fill="#00ffca"/><rect x="538" y="79" width="3" height="3" fill="#00ffc9"/><rect x="541" y="79" width="3" height="3" fill="#00ffc8"/><rect x="544" y="79" width="3" height="3" fill="#00ffc6"/><rect x="547" y="79" width="3" height="3" fill="#00ffc5"/><rect x="550" y="79" width="3" height="3" fill="#00ffc3"/><rect x="553" y="79" width="3" height="3" fill="#00ffc2"/><rect x="556" y="79" width="3" height="3" fill="#00ffc0"/><rect x="559" y="79" width="3" height="3" fill="#00ffbe"/><rect x="562" y="79" width="3" height="3" fill="#00ffbc"/><rect x="565" y="79" width="3" height="3" fill="#00ffba"/><rect x="568" y="79" width="3" height="3" fill="#00ffb8"/><rect x="571" y="79" width="3" height="3" fill="#35ffb5"/><rect x="574" y="79" width="3" height="3" fill="#68ffb3"/><rect x="577" y="79" width="3" height="3" fill="#89ffb0"/><rect x="580" y="79" width="3" height="3" fill="#a3ffad"/><rect x="583" y="79" width="3" height="3" fill="#baffa9"/><rect x="586" y="79" width="3" height="3" fill="#ceffa6"/><rect x="589" y="79" width="3" height="3" fill="#e2ffa2"/><rect x="592" y="79" width="3" height="3" fill="#f4ff9e"/><rect x="595" y="79" width="3" height="3" fill="#fff894"/><rect x="598" y="79" width="3" height="3" fill="#ffe886"/><rect x="601" y="79" width="3" height="3" fill="#ffda78"/><rect x="604" y="79" width="3" height="3" fill="#ffce6b"/><rect x="607" y="79" width="3" height="3" fill="#ffc35f"/><rect x="610" y="79" width="3" height="3" fill="#ffb953"/><rect x="613" y="79" width="3" height="3" fill="#ffb046"/><rect x="616" y="79" width="3" height="3" fill="#ffa738"/><rect x="619" y="79" width="3" height="3" fill="#ff9f28"/><rect x="622" y="79" width="3" height="3" fill="#ff970d"/><rect x="625" y="79" width="3" height="3" fill="#ff9000"/><rect x="628" y="79" width="3" height="3" fill="#ff8900"/><rect x="631" y="79" width="3" height="3" fill="#ff8300"/><rect x="634" y="79" width="3" height="3" fill="#ff7c00"/><rect x="523" y="82" width="3" height="3" fill="#00ffd6"/><rect x="526" y="82" width="3" height="3" fill="#00ffd5"/><rect x="529" y="82" width="3" height="3" fill="#00ffd4"/><rect x="532" y="82" width="3" height="3" fill="#00ffd3"/><rect x="535" y="82" width="3" height="3" fill="#00ffd2"/><rect x="538" y="82" width="3" height="3" fill="#00ffd1"/><rect x="541" y="82" width="3" height="3" fill="#00ffd0"/><rect x="544" y="82" width="3" height="3" fill="#00ffcf"/><rect x="547" y="82" width="3" height="3" fill="#00ffce"/><rect x="550" y="82" width="3" height="3" fill="#00ffcc"/><rect x="553" y="82" width="3" height="3" fill="#00ffcb"/><rect x="556" y="82" width="3" height="3" fill="#00ffc9"/><rect x="559" y="82" width="3" height="3" fill="#00ffc8"/><rect x="562" y="82" width="3" height="3" fill="#00ffc6"/><rect x="565" y="82" width="3" height="3" fill="#00ffc4"/><rect x="568" y="82" width="3" height="3" fill="#00ffc2"/><rect x="571" y="82" width="3" height="3" fill="#4bffc0"/><rect x="574" y="82" width="3" height="3" fill="#76ffbe"/><rect x="577" y="82" width="3" height="3" fill="#95ffbc"/><rect x="580" y="82" width="3" height="3" fill="#aeffb9"/><rect x="583" y="82" width="3" height="3" fill="#c5ffb6"/><rect x="586" y="82" width="3" height="3" fill="#daffb3"/><rect x="589" y="82" width="3" height="3" fill="#eeffb0"/><rect x="592" y="82" width="3" height="3" fill="#fffdab"/><rect x="595" y="82" width="3" height="3" fill="#ffec9b"/><rect x="598" y="82" width="3" height="3" fill="#ffdd8d"/><rect x="601" y="82" width="3" height="3" fill="#ffd080"/><rect x="604" y="82" width="3" height="3" fill="#ffc474"/><rect x="607" y="82" width="3" height="3" fill="#ffba69"/><rect x="610" y="82" width="3" height="3" fill="#ffb05e"/><rect x="613" y="82" width="3" height="3" fill="#ffa752"/><rect x="616" y="82" width="3" height="3" fill="#ff9f47"/><rect x="619" y="82" width="3" height="3" fill="#ff973a"/><rect x="622" y="82" width="3" height="3" fill="#ff8f2c"/><rect x="625" y="82" width="3" height="3" fill="#ff8819"/><rect x="628" y="82" width="3" height="3" fill="#ff8100"/><rect x="631" y="82" width="3" height="3" fill="#ff7a00"/><rect x="634" y="82" width="3" height="3" fill="#ff7400"/><rect x="637" y="82" width="3" height="3" fill="#ff6e00"/><rect x="640" y="82" width="3" height="3" fill="#ff6700"/><rect x="526" y="85" width="3" height="3" fill="#00ffdd"/><rect x="529" y="85" width="3" height="3" fill="#00ffdc"/><rect x="532" y="85" width="3" height="3" fill="#00ffdc"/><rect x="535" y="85" width="3" height="3" fill="#00ffdb"/><rect x="538" y="85" width="3" height="3" fill="#00ffda"/><rect x="541" y="85" width="3" height="3" fill="#00ffd9"/><rect x="544" y="85" width="3" height="3" fill="#00ffd8"/><rect x="547" y="85" width="3" height="3" fill="#00ffd7"/><rect x="550" y="85" width="3" height="3" fill="#00ffd6"/><rect x="553" y="85" width="3" height="3" fill="#00ffd5"/><rect x="556" y="85" width="3" height="3" fill="#00ffd3"/><rect x="559" y="85" width="3" height="3" fill="#00ffd2"/><rect x="562" y="85" width="3" height="3" fill="#00ffd1"/><rect x="565" y="85" width="3" height="3" fill="#00ffcf"/><rect x="568" y="85" width="3" height="3" fill="#00ffce"/><rect x="571" y="85" width="3" height="3" fill="#5dffcc"/><rect x="574" y="85" width="3" height="3" fill="#83ffca"/><rect x="577" y="85" width="3" height="3" fill="#a1ffc8"/><rect x="580" y="85" width="3" height="3" fill="#baffc6"/><rect x="583" y="85" width="3" height="3" fill="#d1ffc4"/><rect x="586" y="85" width="3" height="3" fill="#e6ffc1"/><rect x="589" y="85" width="3" height="3" fill="#faffbe"/><rect x="592" y="85" width="3" height="3" fill="#fff1b1"/><rect x="595" y="85" width="3" height="3" fill="#ffe1a2"/><rect x="598" y="85" width="3" height="3" fill="#ffd394"/><rect x="601" y="85" width="3" height="3" fill="#ffc688"/><rect x="604" y="85" width="3" height="3" fill="#ffbb7c"/><rect x="607" y="85" width="3" height="3" fill="#ffb071"/><rect x="610" y="85" width="3" height="3" fill="#ffa767"/><rect x="613" y="85" width="3" height="3" fill="#ff9e5d"/><rect x="616" y="85" width="3" height="3" fill="#ff9652"/><rect x="619" y="85" width="3" height="3" fill="#ff8e48"/><rect x="622" y="85" width="3" height="3" fill="#ff863c"/><rect x="625" y="85" width="3" height="3" fill="#ff7f30"/><rect x="628" y="85" width="3" height="3" fill="#ff7820"/><rect x="631" y="85" width="3" height="3" fill="#ff7202"/><rect x="634" y="85" width="3" height="3" fill="#ff6b00"/><rect x="637" y="85" width="3" height="3" fill="#ff6500"/><rect x="640" y="85" width="3" height="3" fill="#ff5e00"/><rect x="643" y="85" width="3" height="3" fill="#ff5800"/><rect x="526" y="88" width="3" height="3" fill="#00ffe5"/><rect x="529" y="88" width="3" height="3" fill="#00ffe5"/><rect x="532" y="88" width="3" height="3" fill="#00ffe4"/><rect x="535" y="88" width="3" height="3" fill="#00ffe3"/><rect x="538" y="88" width="3" height="3" fill="#00ffe3"/><rect x="541" y="88" width="3" height="3" fill="#00ffe2"/><rect x="544" y="88" width="3" height="3" fill="#00ffe1"/><rect x="547" y="88" width="3" height="3" fill="#00ffe1"/><rect x="550" y="88" width="3" height="3" fill="#00ffe0"/><rect x="553" y="88" width="3" height="3" fill="#00ffdf"/><rect x="556" y="88" width="3" height="3" fill="#00ffde"/><rect x="559" y="88" width="3" height="3" fill="#00ffdd"/><rect x="562" y="88" width="3" height="3" fill="#00ffdc"/><rect x="565" y="88" width="3" height="3" fill="#00ffdb"/><rect x="568" y="88" width="3" height="3" fill="#33ffd9"/><rect x="571" y="88" width="3" height="3" fill="#6dffd8"/><rect x="574" y="88" width="3" height="3" fill="#91ffd7"/><rect x="577" y="88" width="3" height="3" fill="#adffd5"/><rect x="580" y="88" width="3" height="3" fill="#c6ffd3"/><rect x="583" y="88" width="3" height="3" fill="#ddffd2"/><rect x="586" y="88" width="3" height="3" fill="#f3ffd0"/><rect x="589" y="88" width="3" height="3" fill="#fff6c7"/><rect x="592" y="88" width="3" height="3" fill="#ffe5b6"/><rect x="595" y="88" width="3" height="3" fill="#ffd5a7"/><rect x="598" y="88" width="3" height="3" fill="#ffc89a"/><rect x="601" y="88" width="3" height="3" fill="#ffbc8e"/><rect x="604" y="88" width="3" height="3" fill="#ffb183"/><rect x="607" y="88" width="3" height="3" fill="#ffa779"/><rect x="610" y="88" width="3" height="3" fill="#ff9e6f"/><rect x="613" y="88" width="3" height="3" fill="#ff9565"/><rect x="616" y="88" width="3" height="3" fill="#ff8d5c"/><rect x="619" y="88" width="3" height="3" fill="#ff8552"/><rect x="622" y="88" width="3" height="3" fill="#ff7d48"/><rect x="625" y="88" width="3" height="3" fill="#ff763e"/><rect x="628" y="88" width="3" height="3" fill="#ff6f32"/><rect x="631" y="88" width="3" height="3" fill="#ff6825"/><rect x="634" y="88" width="3" height="3" fill="#ff6111"/><rect x="637" y="88" width="3" height="3" fill="#ff5b00"/><rect x="640" y="88" width="3" height="3" fill="#ff5400"/><rect x="643" y="88" width="3" height="3" fill="#ff4d00"/><rect x="646" y="88" width="3" height="3" fill="#ff4600"/><rect x="526" y="91" width="3" height="3" fill="#00ffee"/><rect x="529" y="91" width="3" height="3" fill="#00ffed"/><rect x="532" y="91" width="3" height="3" fill="#00ffed"/><rect x="535" y="91" width="3" height="3" fill="#00ffed"/><rect x="538" y="91" width="3" height="3" fill="#00ffec"/><rect x="541" y="91" width="3" height="3" fill="#00ffec"/><rect x="544" y="91" width="3" height="3" fill="#00ffeb"/><rect x="547" y="91" width="3" height="3" fill="#00ffeb"/><rect x="550" y="91" width="3" height="3" fill="#00ffea"/><rect x="553" y="91" width="3" height="3" fill="#00ffe9"/><rect x="556" y="91" width="3" height="3" fill="#00ffe9"/><rect x="559" y="91" width="3" height="3" fill="#00ffe8"/><rect x="562" y="91" width="3" height="3" fill="#00ffe7"/><rect x="565" y="91" width="3" height="3" fill="#00ffe7"/><rect x="568" y="91" width="3" height="3" fill="#4cffe6"/><rect x="571" y="91" width="3" height="3" fill="#7cffe5"/><rect x="574" y="91" width="3" height="3" fill="#9effe4"/><rect x="577" y="91" width="3" height="3" fill="#baffe3"/><rect x="580" y="91" width="3" height="3" fill="#d3ffe2"/><rect x="583" y="91" width="3" height="3" fill="#ebffe0"/><rect x="586" y="91" width="3" height="3" fill="#fffddd"/><rect x="589" y="91" width="3" height="3" fill="#ffe9cb"/><rect x="592" y="91" width="3" height="3" fill="#ffd8bb"/><rect x="595" y="91" width="3" height="3" fill="#ffcaac"/><rect x="598" y="91" width="3" height="3" fill="#ffbda0"/><rect x="601" y="91" width="3" height="3" fill="#ffb194"/><rect x="604" y="91" width="3" height="3" fill="#ffa789"/><rect x="607" y="91" width="3" height="3" fill="#ff9d7f"/><rect x="610" y="91" width="3" height="3" fill="#ff9476"/><rect x="613" y="91" width="3" height="3" fill="#ff8b6d"/><rect x="616" y="91" width="3" height="3" fill="#ff8364"/><rect x="619" y="91" width="3" height="3" fill="#ff7b5b"/><rect x="622" y="91" width="3" height="3" fill="#ff7452"/><rect x="625" y="91" width="3" height="3" fill="#ff6c49"/><rect x="628" y="91" width="3" height="3" fill="#ff653f"/><rect x="631" y="91" width="3" height="3" fill="#ff5e35"/><rect x="634" y="91" width="3" height="3" fill="#ff5729"/><rect x="637" y="91" width="3" height="3" fill="#ff5019"/><rect x="640" y="91" width="3" height="3" fill="#ff4800"/><rect x="643" y="91" width="3" height="3" fill="#ff4100"/><rect x="646" y="91" width="3" height="3" fill="#ff3800"/><rect x="649" y="91" width="3" height="3" fill="#ff2f00"/><rect x="526" y="94" width="3" height="3" fill="#00fff7"/><rect x="529" y="94" width="3" height="3" fill="#00fff7"/><rect x="532" y="94" width="3" height="3" fill="#00fff6"/><rect x="535" y="94" width="3" height="3" fill="#00fff6"/><rect x="538" y="94" width="3" height="3" fill="#00fff6"/><rect x="541" y="94" width="3" height="3" fill="#00fff6"/><rect x="544" y="94" width="3" height="3" fill="#00fff5"/><rect x="547" y="94" width="3" height="3" fill="#00fff5"/><rect x="550" y="94" width="3" height="3" fill="#00fff5"/><rect x="553" y="94" width="3" height="3" fill="#00fff5"/><rect x="556" y="94" width="3" height="3" fill="#00fff4"/><rect x="559" y="94" width="3" height="3" fill="#00fff4"/><rect x="562" y="94" width="3" height="3" fill="#00fff4"/><rect x="565" y="94" width="3" height="3" fill="#00fff3"/><rect x="568" y="94" width="3" height="3" fill="#61fff3"/><rect x="571" y="94" width="3" height="3" fill="#8cfff2"/><rect x="574" y="94" width="3" height="3" fill="#acfff2"/><rect x="577" y="94" width="3" height="3" fill="#c8fff2"/><rect x="580" y="94" width="3" height="3" fill="#e2fff1"/><rect x="583" y="94" width="3" height="3" fill="#f9fff0"/><rect x="586" y="94" width="3" height="3" fill="#ffefe0"/><rect x="589" y="94" width="3" height="3" fill="#ffdcce"/><rect x="592" y="94" width="3" height="3" fill="#ffccbf"/><rect x="595" y="94" width="3" height="3" fill="#ffbeb1"/><rect x="598" y="94" width="3" height="3" fill="#ffb2a5"/><rect x="601" y="94" width="3" height="3" fill="#ffa799"/><rect x="604" y="94" width="3" height="3" fill="#ff9c8f"/><rect x="607" y="94" width="3" height="3" fill="#ff9385"/><rect x="610" y="94" width="3" height="3" fill="#ff8a7c"/><rect x="613" y="94" width="3" height="3" fill="#ff8173"/><rect x="616" y="94" width="3" height="3" fill="#ff796b"/><rect x="619" y="94" width="3" height="3" fill="#ff7162"/><rect x="622" y="94" width="3" height="3" fill="#ff695a"/><rect x="625" y="94" width="3" height="3" fill="#ff6252"/><rect x="628" y="94" width="3" height="3" fill="#ff5a49"/><rect x="631" y="94" width="3" height="3" fill="#ff5340"/><rect x="634" y="94" width="3" height="3" fill="#ff4b37"/><rect x="637" y="94" width="3" height="3" fill="#ff432c"/><rect x="640" y="94" width="3" height="3" fill="#ff3a1e"/><rect x="643" y="94" width="3" height="3" fill="#ff3108"/><rect x="646" y="94" width="3" height="3" fill="#ff2600"/><rect x="649" y="94" width="3" height="3" fill="#ff1800"/><rect x="652" y="94" width="3" height="3" fill="#ff0000"/><rect x="526" y="97" width="3" height="3" fill="#00feff"/><rect x="529" y="97" width="3" height="3" fill="#00feff"/><rect x="532" y="97" width="3" height="3" fill="#00feff"/><rect x="535" y="97" width="3" height="3" fill="#00feff"/><rect x="538" y="97" width="3" height="3" fill="#00feff"/><rect x="541" y="97" width="3" height="3" fill="#00feff"/><rect x="544" y="97" width="3" height="3" fill="#00feff"/><rect x="547" y="97" width="3" height="3" fill="#00feff"/><rect x="550" y="97" width="3" height="3" fill="#00feff"/><rect x="553" y="97" width="3" height="3" fill="#00fdff"/><rect x="556" y="97" width="3" height="3" fill="#00fdff"/><rect x="559" y="97" width="3" height="3" fill="#00fdff"/><rect x="562" y="97" width="3" height="3" fill="#00fdff"/><rect x="565" y="97" width="3" height="3" fill="#2efdff"/><rect x="568" y="97" width="3" height="3" fill="#72fdff"/><rect x="571" y="97" width="3" height="3" fill="#9afdff"/><rect x="574" y="97" width="3" height="3" fill="#b9fdff"/><rect x="577" y="97" width="3" height="3" fill="#d5fdff"/><rect x="580" y="97" width="3" height="3" fill="#eefcff"/><rect x="583" y="97" width="3" height="3" fill="#fff5f7"/><rect x="586" y="97" width="3" height="3" fill="#ffe0e3"/><rect x="589" y="97" width="3" height="3" fill="#ffcfd1"/><rect x="592" y="97" width="3" height="3" fill="#ffc0c2"/><rect x="595" y="97" width="3" height="3" fill="#ffb3b5"/><rect x="598" y="97" width="3" height="3" fill="#ffa7a9"/><rect x="601" y="97" width="3" height="3" fill="#ff9c9e"/><rect x="604" y="97" width="3" height="3" fill="#ff9194"/><rect x="607" y="97" width="3" height="3" fill="#ff888b"/><rect x="610" y="97" width="3" height="3" fill="#ff7f82"/><rect x="613" y="97" width="3" height="3" fill="#ff7679"/><rect x="616" y="97" width="3" height="3" fill="#ff6e71"/><rect x="619" y="97" width="3" height="3" fill="#ff6669"/><rect x="622" y="97" width="3" height="3" fill="#ff5e61"/><rect x="625" y="97" width="3" height="3" fill="#ff565a"/><rect x="628" y="97" width="3" height="3" fill="#ff4e52"/><rect x="631" y="97" width="3" height="3" fill="#ff454a"/><rect x="634" y="97" width="3" height="3" fill="#ff3c41"/><rect x="637" y="97" width="3" height="3" fill="#ff3338"/><rect x="640" y="97" width="3" height="3" fill="#ff272f"/><rect x="643" y="97" width="3" height="3" fill="#ff1923"/><rect x="646" y="97" width="3" height="3" fill="#ff0012"/><rect x="649" y="97" width="3" height="3" fill="#ff0000"/><rect x="652" y="97" width="3" height="3" fill="#ff0000"/><rect x="655" y="97" width="3" height="3" fill="#ff0000"/><rect x="529" y="100" width="3" height="3" fill="#00f4ff"/><rect x="532" y="100" width="3" height="3" fill="#00f4ff"/><rect x="535" y="100" width="3" height="3" fill="#00f4ff"/><rect x="538" y="100" width="3" height="3" fill="#00f3ff"/><rect x="541" y="100" width="3" height="3" fill="#00f3ff"/><rect x="544" y="100" width="3" height="3" fill="#00f3ff"/><rect x="547" y="100" width="3" height="3" fill="#00f2ff"/><rect x="550" y="100" width="3" height="3" fill="#00f2ff"/><rect x="553" y="100" width="3" height="3" fill="#00f1ff"/><rect x="556" y="100" width="3" height="3" fill="#00f1ff"/><rect x="559" y="100" width="3" height="3" fill="#00f0ff"/><rect x="562" y="100" width="3" height="3" fill="#00f0ff"/><rect x="565" y="100" width="3" height="3" fill="#48efff"/><rect x="568" y="100" width="3" height="3" fill="#7cefff"/><rect x="571" y="100" width="3" height="3" fill="#9feeff"/><rect x="574" y="100" width="3" height="3" fill="#bcedff"/><rect x="577" y="100" width="3" height="3" fill="#d6edff"/><rect x="580" y="100" width="3" height="3" fill="#eeecff"/><rect x="583" y="100" width="3" height="3" fill="#ffe5f9"/><rect x="586" y="100" width="3" height="3" fill="#ffd2e5"/><rect x="589" y="100" width="3" height="3" fill="#ffc2d4"/><rect x="592" y="100" width="3" height="3" fill="#ffb3c6"/><rect x="595" y="100" width="3" height="3" fill="#ffa6b9"/><rect x="598" y="100" width="3" height="3" fill="#ff9bad"/><rect x="601" y="100" width="3" height="3" fill="#ff90a3"/><rect x="604" y="100" width="3" height="3" fill="#ff8699"/><rect x="607" y="100" width="3" height="3" fill="#ff7c90"/><rect x="610" y="100" width="3" height="3" fill="#ff7387"/><rect x="613" y="100" width="3" height="3" fill="#ff6b7f"/><rect x="616" y="100" width="3" height="3" fill="#ff6277"/><rect x="619" y="100" width="3" height="3" fill="#ff596f"/><rect x="622" y="100" width="3" height="3" fill="#ff5168"/><rect x="625" y="100" width="3" height="3" fill="#ff4860"/><rect x="628" y="100" width="3" height="3" fill="#ff3f59"/><rect x="631" y="100" width="3" height="3" fill="#ff3452"/><rect x="634" y="100" width="3" height="3" fill="#ff294a"/><rect x="637" y="100" width="3" height="3" fill="#ff1a42"/><rect x="640" y="100" width="3" height="3" fill="#ff003a"/><rect x="643" y="100" width="3" height="3" fill="#ff0031"/><rect x="646" y="100" width="3" height="3" fill="#ff0026"/><rect x="649" y="100" width="3" height="3" fill="#ff0019"/><rect x="652" y="100" width="3" height="3" fill="#ff0001"/><rect x="655" y="100" width="3" height="3" fill="#ff0000"/><rect x="658" y="100" width="3" height="3" fill="#ff0000"/><rect x="529" y="103" width="3" height="3" fill="#00ebff"/><rect x="532" y="103" width="3" height="3" fill="#00eaff"/><rect x="535" y="103" width="3" height="3" fill="#00eaff"/><rect x="538" y="103" width="3" height="3" fill="#00e9ff"/><rect x="541" y="103" width="3" height="3" fill="#00e9ff"/><rect x="544" y="103" width="3" height="3" fill="#00e8ff"/><rect x="547" y="103" width="3" height="3" fill="#00e7ff"/><rect x="550" y="103" width="3" height="3" fill="#00e6ff"/><rect x="553" y="103" width="3" height="3" fill="#00e6ff"/><rect x="556" y="103" width="3" height="3" fill="#00e5ff"/><rect x="559" y="103" width="3" height="3" fill="#00e4ff"/><rect x="562" y="103" width="3" height="3" fill="#00e3ff"/><rect x="565" y="103" width="3" height="3" fill="#59e2ff"/><rect x="568" y="103" width="3" height="3" fill="#84e1ff"/><rect x="571" y="103" width="3" height="3" fill="#a4e0ff"/><rect x="574" y="103" width="3" height="3" fill="#bfdeff"/><rect x="577" y="103" width="3" height="3" fill="#d7ddff"/><rect x="580" y="103" width="3" height="3" fill="#eedbff"/><rect x="583" y="103" width="3" height="3" fill="#ffd6fa"/><rect x="586" y="103" width="3" height="3" fill="#ffc4e7"/><rect x="589" y="103" width="3" height="3" fill="#ffb4d7"/><rect x="592" y="103" width="3" height="3" fill="#ffa6c9"/><rect x="595" y="103" width="3" height="3" fill="#ff9abc"/><rect x="598" y="103" width="3" height="3" fill="#ff8eb1"/><rect x="601" y="103" width="3" height="3" fill="#ff84a7"/><rect x="604" y="103" width="3" height="3" fill="#ff7a9d"/><rect x="607" y="103" width="3" height="3" fill="#ff7094"/><rect x="610" y="103" width="3" height="3" fill="#ff678c"/><rect x="613" y="103" width="3" height="3" fill="#ff5e84"/><rect x="616" y="103" width="3" height="3" fill="#ff547c"/><rect x="619" y="103" width="3" height="3" fill="#ff4b75"/><rect x="622" y="103" width="3" height="3" fill="#ff416d"/><rect x="625" y="103" width="3" height="3" fill="#ff3766"/><rect x="628" y="103" width="3" height="3" fill="#ff2a5f"/><rect x="631" y="103" width="3" height="3" fill="#ff1b59"/><rect x="634" y="103" width="3" height="3" fill="#ff0052"/><rect x="637" y="103" width="3" height="3" fill="#ff004a"/><rect x="640" y="103" width="3" height="3" fill="#ff0043"/><rect x="643" y="103" width="3" height="3" fill="#ff003b"/><rect x="646" y="103" width="3" height="3" fill="#ff0033"/><rect x="649" y="103" width="3" height="3" fill="#ff0029"/><rect x="652" y="103" width="3" height="3" fill="#ff001e"/><rect x="655" y="103" width="3" height="3" fill="#ff000c"/><rect x="658" y="103" width="3" height="3" fill="#ff0000"/><rect x="661" y="103" width="3" height="3" fill="#ff0000"/><rect x="529" y="106" width="3" height="3" fill="#00e2ff"/><rect x="532" y="106" width="3" height="3" fill="#00e1ff"/><rect x="535" y="106" width="3" height="3" fill="#00e0ff"/><rect x="538" y="106" width="3" height="3" fill="#00dfff"/><rect x="541" y="106" width="3" height="3" fill="#00deff"/><rect x="544" y="106" width="3" height="3" fill="#00ddff"/><rect x="547" y="106" width="3" height="3" fill="#00dcff"/><rect x="550" y="106" width="3" height="3" fill="#00dbff"/><rect x="553" y="106" width="3" height="3" fill="#00daff"/><rect x="556" y="106" width="3" height="3" fill="#00d9ff"/><rect x="559" y="106" width="3" height="3" fill="#00d8ff"/><rect x="562" y="106" width="3" height="3" fill="#20d6ff"/><rect x="565" y="106" width="3" height="3" fill="#66d5ff"/><rect x="568" y="106" width="3" height="3" fill="#8bd3ff"/><rect x="571" y="106" width="3" height="3" fill="#a8d1ff"/><rect x="574" y="106" width="3" height="3" fill="#c1cfff"/><rect x="577" y="106" width="3" height="3" fill="#d8cdff"/><rect x="580" y="106" width="3" height="3" fill="#eecbff"/><rect x="583" y="106" width="3" height="3" fill="#ffc6fc"/><rect x="586" y="106" width="3" height="3" fill="#ffb5e9"/><rect x="589" y="106" width="3" height="3" fill="#ffa6da"/><rect x="592" y="106" width="3" height="3" fill="#ff99cc"/><rect x="595" y="106" width="3" height="3" fill="#ff8dc0"/><rect x="598" y="106" width="3" height="3" fill="#ff81b5"/><rect x="601" y="106" width="3" height="3" fill="#ff77aa"/><rect x="604" y="106" width="3" height="3" fill="#ff6ca1"/><rect x="607" y="106" width="3" height="3" fill="#ff6298"/><rect x="610" y="106" width="3" height="3" fill="#ff5990"/><rect x="613" y="106" width="3" height="3" fill="#ff4f88"/><rect x="616" y="106" width="3" height="3" fill="#ff4481"/><rect x="619" y="106" width="3" height="3" fill="#ff397a"/><rect x="622" y="106" width="3" height="3" fill="#ff2c73"/><rect x="625" y="106" width="3" height="3" fill="#ff1c6c"/><rect x="628" y="106" width="3" height="3" fill="#ff0065"/><rect x="631" y="106" width="3" height="3" fill="#ff005f"/><rect x="634" y="106" width="3" height="3" fill="#ff0058"/><rect x="637" y="106" width="3" height="3" fill="#ff0051"/><rect x="640" y="106" width="3" height="3" fill="#ff004b"/><rect x="643" y="106" width="3" height="3" fill="#ff0044"/><rect x="646" y="106" width="3" height="3" fill="#ff003c"/><rect x="649" y="106" width="3" height="3" fill="#ff0035"/><rect x="652" y="106" width="3" height="3" fill="#ff002c"/><rect x="655" y="106" width="3" height="3" fill="#ff0021"/><rect x="658" y="106" width="3" height="3" fill="#ff0014"/><rect x="661" y="106" width="3" height="3" fill="#ff0000"/><rect x="664" y="106" width="3" height="3" fill="#ff0000"/><rect x="529" y="109" width="3" height="3" fill="#00d8ff"/><rect x="532" y="109" width="3" height="3" fill="#00d7ff"/><rect x="535" y="109" width="3" height="3" fill="#00d6ff"/><rect x="538" y="109" width="3" height="3" fill="#00d5ff"/><rect x="541" y="109" width="3" height="3" fill="#00d4ff"/><rect x="544" y="109" width="3" height="3" fill="#00d3ff"/><rect x="547" y="109" width="3" height="3" fill="#00d1ff"/><rect x="550" y="109" width="3" height="3" fill="#00d0ff"/><rect x="553" y="109" width="3" height="3" fill="#00cfff"/><rect x="556" y="109" width="3" height="3" fill="#00cdff"/><rect x="559" y="109" width="3" height="3" fill="#00cbff"/><rect x="562" y="109" width="3" height="3" fill="#3dc9ff"/><rect x="565" y="109" width="3" height="3" fill="#70c7ff"/><rect x="568" y="109" width="3" height="3" fill="#91c5ff"/><rect x="571" y="109" width="3" height="3" fill="#acc3ff"/><rect x="574" y="109" width="3" height="3" fill="#c3c1ff"/><rect x="577" y="109" width="3" height="3" fill="#d9beff"/><rect x="580" y="109" width="3" height="3" fill="#eebbff"/><rect x="583" y="109" width="3" height="3" fill="#ffb6fd"/><rect x="586" y="109" width="3" height="3" fill="#ffa6eb"/><rect x="589" y="109" width="3" height="3" fill="#ff98dc"/><rect x="592" y="109" width="3" height="3" fill="#ff8acf"/><rect x="595" y="109" width="3" height="3" fill="#ff7ec3"/><rect x="598" y="109" width="3" height="3" fill="#ff73b8"/><rect x="601" y="109" width="3" height="3" fill="#ff68ae"/><rect x="604" y="109" width="3" height="3" fill="#ff5da5"/><rect x="607" y="109" width="3" height="3" fill="#ff539c"/><rect x="610" y="109" width="3" height="3" fill="#ff4794"/><rect x="613" y="109" width="3" height="3" fill="#ff3c8d"/><rect x="616" y="109" width="3" height="3" fill="#ff2e85"/><rect x="619" y="109" width="3" height="3" fill="#ff1d7e"/><rect x="622" y="109" width="3" height="3" fill="#ff0078"/><rect x="625" y="109" width="3" height="3" fill="#ff0071"/><rect x="628" y="109" width="3" height="3" fill="#ff006b"/><rect x="631" y="109" width="3" height="3" fill="#ff0064"/><rect x="634" y="109" width="3" height="3" fill="#ff005e"/><rect x="637" y="109" width="3" height="3" fill="#ff0058"/><rect x="640" y="109" width="3" height="3" fill="#ff0051"/><rect x="643" y="109" width="3" height="3" fill="#ff004b"/><rect x="646" y="109" width="3" height="3" fill="#ff0044"/><rect x="649" y="109" width="3" height="3" fill="#ff003d"/><rect x="652" y="109" width="3" height="3" fill="#ff0036"/><rect x="655" y="109" width="3" height="3" fill="#ff002e"/><rect x="658" y="109" width="3" height="3" fill="#ff0025"/><rect x="661" y="109" width="3" height="3" fill="#ff0019"/><rect x="664" y="109" width="3" height="3" fill="#ff0005"/><rect x="532" y="112" width="3" height="3" fill="#00ceff"/><rect x="535" y="112" width="3" height="3" fill="#00cdff"/><rect x="538" y="112" width="3" height="3" fill="#00cbff"/><rect x="541" y="112" width="3" height="3" fill="#00caff"/><rect x="544" y="112" width="3" height="3" fill="#00c8ff"/><rect x="547" y="112" width="3" height="3" fill="#00c7ff"/><rect x="550" y="112" width="3" height="3" fill="#00c5ff"/><rect x="553" y="112" width="3" height="3" fill="#00c3ff"/><rect x="556" y="112" width="3" height="3" fill="#00c1ff"/><rect x="559" y="112" width="3" height="3" fill="#00bfff"/><rect x="562" y="112" width="3" height="3" fill="#4fbdff"/><rect x="565" y="112" width="3" height="3" fill="#78baff"/><rect x="568" y="112" width="3" height="3" fill="#96b8ff"/><rect x="571" y="112" width="3" height="3" fill="#afb5ff"/><rect x="574" y="112" width="3" height="3" fill="#c5b2ff"/><rect x="577" y="112" width="3" height="3" fill="#daaeff"/><rect x="580" y="112" width="3" height="3" fill="#edabff"/><rect x="583" y="112" width="3" height="3" fill="#ffa6fe"/><rect x="586" y="112" width="3" height="3" fill="#ff96ed"/><rect x="589" y="112" width="3" height="3" fill="#ff88de"/><rect x="592" y="112" width="3" height="3" fill="#ff7bd1"/><rect x="595" y="112" width="3" height="3" fill="#ff6fc5"/><rect x="598" y="112" width="3" height="3" fill="#ff63bb"/><rect x="601" y="112" width="3" height="3" fill="#ff57b1"/><rect x="604" y="112" width="3" height="3" fill="#ff4ba8"/><rect x="607" y="112" width="3" height="3" fill="#ff3fa0"/><rect x="610" y="112" width="3" height="3" fill="#ff3198"/><rect x="613" y="112" width="3" height="3" fill="#ff1f90"/><rect x="616" y="112" width="3" height="3" fill="#ff0089"/><rect x="619" y="112" width="3" height="3" fill="#ff0083"/><rect x="622" y="112" width="3" height="3" fill="#ff007c"/><rect x="625" y="112" width="3" height="3" fill="#ff0076"/><rect x="628" y="112" width="3" height="3" fill="#ff006f"/><rect x="631" y="112" width="3" height="3" fill="#ff0069"/><rect x="634" y="112" width="3" height="3" fill="#ff0063"/><rect x="637" y="112" width="3" height="3" fill="#ff005d"/><rect x="640" y="112" width="3" height="3" fill="#ff0057"/><rect x="643" y="112" width="3" height="3" fill="#ff0051"/><rect x="646" y="112" width="3" height="3" fill="#ff004b"/><rect x="649" y="112" width="3" height="3" fill="#ff0045"/><rect x="652" y="112" width="3" height="3" fill="#ff003e"/><rect x="655" y="112" width="3" height="3" fill="#ff0037"/><rect x="658" y="112" width="3" height="3" fill="#ff0030"/><rect x="661" y="112" width="3" height="3" fill="#ff0027"/><rect x="532" y="115" width="3" height="3" fill="#00c5ff"/><rect x="535" y="115" width="3" height="3" fill="#00c3ff"/><rect x="538" y="115" width="3" height="3" fill="#00c1ff"/><rect x="541" y="115" width="3" height="3" fill="#00c0ff"/><rect x="544" y="115" width="3" height="3" fill="#00beff"/><rect x="547" y="115" width="3" height="3" fill="#00bcff"/><rect x="550" y="115" width="3" height="3" fill="#00baff"/><rect x="553" y="115" width="3" height="3" fill="#00b7ff"/><rect x="556" y="115" width="3" height="3" fill="#00b5ff"/><rect x="559" y="115" width="3" height="3" fill="#0fb3ff"/><rect x="562" y="115" width="3" height="3" fill="#5bb0ff"/><rect x="565" y="115" width="3" height="3" fill="#7fadff"/><rect x="568" y="115" width="3" height="3" fill="#9aaaff"/><rect x="571" y="115" width="3" height="3" fill="#b2a6ff"/><rect x="574" y="115" width="3" height="3" fill="#c7a2ff"/><rect x="577" y="115" width="3" height="3" fill="#db9eff"/><rect x="580" y="115" width="3" height="3" fill="#ed9aff"/><rect x="583" y="115" width="3" height="3" fill="#ff94ff"/><rect x="586" y="115" width="3" height="3" fill="#ff85ee"/><rect x="589" y="115" width="3" height="3" fill="#ff77e0"/><rect x="592" y="115" width="3" height="3" fill="#ff6ad3"/><rect x="595" y="115" width="3" height="3" fill="#ff5dc8"/><rect x="598" y="115" width="3" height="3" fill="#ff50be"/><rect x="601" y="115" width="3" height="3" fill="#ff42b4"/><rect x="604" y="115" width="3" height="3" fill="#ff33ab"/><rect x="607" y="115" width="3" height="3" fill="#ff20a3"/><rect x="610" y="115" width="3" height="3" fill="#ff009b"/><rect x="613" y="115" width="3" height="3" fill="#ff0094"/><rect x="616" y="115" width="3" height="3" fill="#ff008d"/><rect x="619" y="115" width="3" height="3" fill="#ff0087"/><rect x="622" y="115" width="3" height="3" fill="#ff0080"/><rect x="625" y="115" width="3" height="3" fill="#ff007a"/><rect x="628" y="115" width="3" height="3" fill="#ff0074"/><rect x="631" y="115" width="3" height="3" fill="#ff006e"/><rect x="634" y="115" width="3" height="3" fill="#ff0068"/><rect x="637" y="115" width="3" height="3" fill="#ff0062"/><rect x="640" y="115" width="3" height="3" fill="#ff005d"/><rect x="643" y="115" width="3" height="3" fill="#ff0057"/><rect x="646" y="115" width="3" height="3" fill="#ff0051"/><rect x="649" y="115" width="3" height="3" fill="#ff004b"/><rect x="652" y="115" width="3" height="3" fill="#ff0045"/><rect x="532" y="118" width="3" height="3" fill="#00bbff"/><rect x="535" y="118" width="3" height="3" fill="#00b9ff"/><rect x="538" y="118" width="3" height="3" fill="#00b7ff"/><rect x="541" y="118" width="3" height="3" fill="#00b5ff"/><rect x="544" y="118" width="3" height="3" fill="#00b3ff"/><rect x="547" y="118" width="3" height="3" fill="#00b1ff"/><rect x="550" y="118" width="3" height="3" fill="#00aeff"/><rect x="553" y="118" width="3" height="3" fill="#00acff"/><rect x="556" y="118" width="3" height="3" fill="#00a9ff"/><rect x="559" y="118" width="3" height="3" fill="#33a6ff"/><rect x="562" y="118" width="3" height="3" fill="#66a3ff"/><rect x="565" y="118" width="3" height="3" fill="#859fff"/><rect x="568" y="118" width="3" height="3" fill="#9e9bff"/><rect x="571" y="118" width="3" height="3" fill="#b597ff"/><rect x="574" y="118" width="3" height="3" fill="#c992ff"/><rect x="577" y="118" width="3" height="3" fill="#db8dff"/><rect x="580" y="118" width="3" height="3" fill="#ed88ff"/><rect x="583" y="118" width="3" height="3" fill="#fe81ff"/><rect x="586" y="118" width="3" height="3" fill="#ff72f0"/><rect x="589" y="118" width="3" height="3" fill="#ff64e2"/><rect x="592" y="118" width="3" height="3" fill="#ff55d6"/><rect x="595" y="118" width="3" height="3" fill="#ff47ca"/><rect x="598" y="118" width="3" height="3" fill="#ff37c0"/><rect x="601" y="118" width="3" height="3" fill="#ff22b7"/><rect x="604" y="118" width="3" height="3" fill="#ff00ae"/><rect x="607" y="118" width="3" height="3" fill="#ff00a6"/><rect x="610" y="118" width="3" height="3" fill="#ff009f"/><rect x="613" y="118" width="3" height="3" fill="#ff0098"/><rect x="616" y="118" width="3" height="3" fill="#ff0091"/><rect x="619" y="118" width="3" height="3" fill="#ff008a"/><rect x="622" y="118" width="3" height="3" fill="#ff0084"/><rect x="625" y="118" width="3" height="3" fill="#ff007e"/><rect x="628" y="118" width="3" height="3" fill="#ff0078"/><rect x="631" y="118" width="3" height="3" fill="#ff0072"/><rect x="634" y="118" width="3" height="3" fill="#ff006d"/><rect x="637" y="118" width="3" height="3" fill="#ff0067"/><rect x="640" y="118" width="3" height="3" fill="#ff0062"/><rect x="643" y="118" width="3" height="3" fill="#ff005c"/><rect x="646" y="118" width="3" height="3" fill="#ff0057"/><rect x="535" y="121" width="3" height="3" fill="#00afff"/><rect x="538" y="121" width="3" height="3" fill="#00adff"/><rect x="541" y="121" width="3" height="3" fill="#00abff"/><rect x="544" y="121" width="3" height="3" fill="#00a8ff"/><rect x="547" y="121" width="3" height="3" fill="#00a6ff"/><rect x="550" y="121" width="3" height="3" fill="#00a3ff"/><rect x="553" y="121" width="3" height="3" fill="#00a0ff"/><rect x="556" y="121" width="3" height="3" fill="#009cff"/><rect x="559" y="121" width="3" height="3" fill="#4699ff"/><rect x="562" y="121" width="3" height="3" fill="#6e95ff"/><rect x="565" y="121" width="3" height="3" fill="#8b91ff"/><rect x="568" y="121" width="3" height="3" fill="#a28cff"/><rect x="571" y="121" width="3" height="3" fill="#b787ff"/><rect x="574" y="121" width="3" height="3" fill="#ca82ff"/><rect x="577" y="121" width="3" height="3" fill="#dc7bff"/><rect x="580" y="121" width="3" height="3" fill="#ed74ff"/><rect x="583" y="121" width="3" height="3" fill="#fe6cff"/><rect x="586" y="121" width="3" height="3" fill="#ff5cf1"/><rect x="589" y="121" width="3" height="3" fill="#ff4ce4"/><rect x="592" y="121" width="3" height="3" fill="#ff3ad8"/><rect x="595" y="121" width="3" height="3" fill="#ff25cd"/><rect x="598" y="121" width="3" height="3" fill="#ff00c3"/><rect x="601" y="121" width="3" height="3" fill="#ff00ba"/><rect x="604" y="121" width="3" height="3" fill="#ff00b1"/><rect x="607" y="121" width="3" height="3" fill="#ff00a9"/><rect x="610" y="121" width="3" height="3" fill="#ff00a2"/><rect x="613" y="121" width="3" height="3" fill="#ff009b"/><rect x="616" y="121" width="3" height="3" fill="#ff0094"/><rect x="619" y="121" width="3" height="3" fill="#ff008e"/><rect x="622" y="121" width="3" height="3" fill="#ff0088"/><rect x="625" y="121" width="3" height="3" fill="#ff0082"/><rect x="628" y="121" width="3" height="3" fill="#ff007c"/><rect x="631" y="121" width="3" height="3" fill="#ff0076"/><rect x="634" y="121" width="3" height="3" fill="#ff0071"/><rect x="637" y="121" width="3" height="3" fill="#ff006b"/><rect x="535" y="124" width="3" height="3" fill="#00a6ff"/><rect x="538" y="124" width="3" height="3" fill="#00a3ff"/><rect x="541" y="124" width="3" height="3" fill="#00a0ff"/><rect x="544" y="124" width="3" height="3" fill="#009dff"/><rect x="547" y="124" width="3" height="3" fill="#009aff"/><rect x="550" y="124" width="3" height="3" fill="#0097ff"/><rect x="553" y="124" width="3" height="3" fill="#0093ff"/><rect x="556" y="124" width="3" height="3" fill="#0090ff"/><rect x="559" y="124" width="3" height="3" fill="#538bff"/><rect x="562" y="124" width="3" height="3" fill="#7587ff"/><rect x="565" y="124" width="3" height="3" fill="#8f82ff"/><rect x="568" y="124" width="3" height="3" fill="#a57cff"/><rect x="571" y="124" width="3" height="3" fill="#b976ff"/><rect x="574" y="124" width="3" height="3" fill="#cb6fff"/><rect x="577" y="124" width="3" height="3" fill="#dd67ff"/><rect x="580" y="124" width="3" height="3" fill="#ed5dff"/><rect x="583" y="124" width="3" height="3" fill="#fd52ff"/><rect x="586" y="124" width="3" height="3" fill="#ff3ff2"/><rect x="589" y="124" width="3" height="3" fill="#ff28e5"/><rect x="592" y="124" width="3" height="3" fill="#ff00d9"/><rect x="595" y="124" width="3" height="3" fill="#ff00cf"/><rect x="598" y="124" width="3" height="3" fill="#ff00c5"/><rect x="601" y="124" width="3" height="3" fill="#ff00bc"/><rect x="604" y="124" width="3" height="3" fill="#ff00b4"/><rect x="607" y="124" width="3" height="3" fill="#ff00ac"/><rect x="610" y="124" width="3" height="3" fill="#ff00a5"/><rect x="613" y="124" width="3" height="3" fill="#ff009e"/><rect x="616" y="124" width="3" height="3" fill="#ff0097"/><rect x="619" y="124" width="3" height="3" fill="#ff0091"/><rect x="622" y="124" width="3" height="3" fill="#ff008b"/><rect x="625" y="124" width="3" height="3" fill="#ff0085"/><rect x="628" y="124" width="3" height="3" fill="#ff0080"/><rect x="631" y="124" width="3" height="3" fill="#ff007a"/><rect x="535" y="127" width="3" height="3" fill="#009bff"/><rect x="538" y="127" width="3" height="3" fill="#0098ff"/><rect x="541" y="127" width="3" height="3" fill="#0095ff"/><rect x="544" y="127" width="3" height="3" fill="#0092ff"/><rect x="547" y="127" width="3" height="3" fill="#008eff"/><rect x="550" y="127" width="3" height="3" fill="#008bff"/><rect x="553" y="127" width="3" height="3" fill="#0086ff"/><rect x="556" y="127" width="3" height="3" fill="#2a82ff"/><rect x="559" y="127" width="3" height="3" fill="#5d7dff"/><rect x="562" y="127" width="3" height="3" fill="#7b77ff"/><rect x="565" y="127" width="3" height="3" fill="#9471ff"/><rect x="568" y="127" width="3" height="3" fill="#a86aff"/><rect x="571" y="127" width="3" height="3" fill="#bb62ff"/><rect x="574" y="127" width="3" height="3" fill="#cd59ff"/><rect x="577" y="127" width="3" height="3" fill="#dd4eff"/><rect x="580" y="127" width="3" height="3" fill="#ed40ff"/><rect x="583" y="127" width="3" height="3" fill="#fc2bff"/><rect x="586" y="127" width="3" height="3" fill="#ff00f4"/><rect x="589" y="127" width="3" height="3" fill="#ff00e7"/><rect x="592" y="127" width="3" height="3" fill="#ff00db"/><rect x="595" y="127" width="3" height="3" fill="#ff00d1"/><rect x="598" y="127" width="3" height="3" fill="#ff00c7"/><rect x="601" y="127" width="3" height="3" fill="#ff00bf"/><rect x="604" y="127" width="3" height="3" fill="#ff00b6"/><rect x="607" y="127" width="3" height="3" fill="#ff00af"/><rect x="610" y="127" width="3" height="3" fill="#ff00a8"/><rect x="613" y="127" width="3" height="3" fill="#ff00a1"/><rect x="616" y="127" width="3" height="3" fill="#ff009a"/><rect x="619" y="127" width="3" height="3" fill="#ff0094"/><rect x="622" y="127" width="3" height="3" fill="#ff008e"/><rect x="625" y="127" width="3" height="3" fill="#ff0088"/><rect x="538" y="130" width="3" height="3" fill="#008eff"/><rect x="541" y="130" width="3" height="3" fill="#008aff"/><rect x="544" y="130" width="3" height="3" fill="#0086ff"/><rect x="547" y="130" width="3" height="3" fill="#0082ff"/><rect x="550" y="130" width="3" height="3" fill="#007dff"/><rect x="553" y="130" width="3" height="3" fill="#0079ff"/><rect x="556" y="130" width="3" height="3" fill="#3d73ff"/><rect x="559" y="130" width="3" height="3" fill="#666dff"/><rect x="562" y="130" width="3" height="3" fill="#8166ff"/><rect x="565" y="130" width="3" height="3" fill="#975fff"/><rect x="568" y="130" width="3" height="3" fill="#ab56ff"/><rect x="571" y="130" width="3" height="3" fill="#bd4bff"/><rect x="574" y="130" width="3" height="3" fill="#ce3dff"/><rect x="577" y="130" width="3" height="3" fill="#de28ff"/><rect x="580" y="130" width="3" height="3" fill="#ed00ff"/><rect x="583" y="130" width="3" height="3" fill="#fb00ff"/><rect x="586" y="130" width="3" height="3" fill="#ff00f5"/><rect x="589" y="130" width="3" height="3" fill="#ff00e8"/><rect x="592" y="130" width="3" height="3" fill="#ff00dd"/><rect x="595" y="130" width="3" height="3" fill="#ff00d3"/><rect x="598" y="130" width="3" height="3" fill="#ff00c9"/><rect x="601" y="130" width="3" height="3" fill="#ff00c1"/><rect x="604" y="130" width="3" height="3" fill="#ff00b9"/><rect x="607" y="130" width="3" height="3" fill="#ff00b1"/><rect x="610" y="130" width="3" height="3" fill="#ff00aa"/><rect x="613" y="130" width="3" height="3" fill="#ff00a3"/><rect x="616" y="130" width="3" height="3" fill="#ff009d"/><rect x="538" y="133" width="3" height="3" fill="#0082ff"/><rect x="541" y="133" width="3" height="3" fill="#007eff"/><rect x="544" y="133" width="3" height="3" fill="#007aff"/><rect x="547" y="133" width="3" height="3" fill="#0075ff"/><rect x="550" y="133" width="3" height="3" fill="#006fff"/><rect x="553" y="133" width="3" height="3" fill="#0069ff"/><rect x="556" y="133" width="3" height="3" fill="#4b63ff"/><rect x="559" y="133" width="3" height="3" fill="#6d5bff"/><rect x="562" y="133" width="3" height="3" fill="#8652ff"/><rect x="565" y="133" width="3" height="3" fill="#9b48ff"/><rect x="568" y="133" width="3" height="3" fill="#ae3aff"/><rect x="571" y="133" width="3" height="3" fill="#bf26ff"/><rect x="574" y="133" width="3" height="3" fill="#cf00ff"/><rect x="577" y="133" width="3" height="3" fill="#de00ff"/><rect x="580" y="133" width="3" height="3" fill="#ed00ff"/><rect x="583" y="133" width="3" height="3" fill="#fb00ff"/><rect x="586" y="133" width="3" height="3" fill="#ff00f6"/><rect x="589" y="133" width="3" height="3" fill="#ff00e9"/><rect x="592" y="133" width="3" height="3" fill="#ff00df"/><rect x="595" y="133" width="3" height="3" fill="#ff00d5"/><rect x="598" y="133" width="3" height="3" fill="#ff00cb"/><rect x="601" y="133" width="3" height="3" fill="#ff00c3"/><rect x="604" y="133" width="3" height="3" fill="#ff00bb"/><rect x="607" y="133" width="3" height="3" fill="#ff00b4"/><rect x="610" y="133" width="3" height="3" fill="#ff00ad"/><rect x="538" y="136" width="3" height="3" fill="#0076ff"/><rect x="541" y="136" width="3" height="3" fill="#0071ff"/><rect x="544" y="136" width="3" height="3" fill="#006cff"/><rect x="547" y="136" width="3" height="3" fill="#0066ff"/><rect x="550" y="136" width="3" height="3" fill="#005fff"/><rect x="553" y="136" width="3" height="3" fill="#2158ff"/><rect x="556" y="136" width="3" height="3" fill="#554fff"/><rect x="559" y="136" width="3" height="3" fill="#7345ff"/><rect x="562" y="136" width="3" height="3" fill="#8a38ff"/><rect x="565" y="136" width="3" height="3" fill="#9e24ff"/><rect x="568" y="136" width="3" height="3" fill="#b000ff"/><rect x="571" y="136" width="3" height="3" fill="#c000ff"/><rect x="574" y="136" width="3" height="3" fill="#d000ff"/><rect x="577" y="136" width="3" height="3" fill="#de00ff"/><rect x="580" y="136" width="3" height="3" fill="#ed00ff"/><rect x="583" y="136" width="3" height="3" fill="#fa00ff"/><rect x="586" y="136" width="3" height="3" fill="#ff00f7"/><rect x="589" y="136" width="3" height="3" fill="#ff00eb"/><rect x="592" y="136" width="3" height="3" fill="#ff00e0"/><rect x="595" y="136" width="3" height="3" fill="#ff00d6"/><rect x="598" y="136" width="3" height="3" fill="#ff00cd"/><rect x="601" y="136" width="3" height="3" fill="#ff00c5"/><rect x="604" y="136" width="3" height="3" fill="#ff00bd"/><rect x="541" y="139" width="3" height="3" fill="#0063ff"/><rect x="544" y="139" width="3" height="3" fill="#005cff"/><rect x="547" y="139" width="3" height="3" fill="#0055ff"/><rect x="550" y="139" width="3" height="3" fill="#004dff"/><rect x="553" y="139" width="3" height="3" fill="#3642ff"/><rect x="556" y="139" width="3" height="3" fill="#5e35ff"/><rect x="559" y="139" width="3" height="3" fill="#7923ff"/><rect x="562" y="139" width="3" height="3" fill="#8e00ff"/><rect x="565" y="139" width="3" height="3" fill="#a100ff"/><rect x="568" y="139" width="3" height="3" fill="#b200ff"/><rect x="571" y="139" width="3" height="3" fill="#c200ff"/><rect x="574" y="139" width="3" height="3" fill="#d100ff"/><rect x="577" y="139" width="3" height="3" fill="#df00ff"/><rect x="580" y="139" width="3" height="3" fill="#ec00ff"/><rect x="583" y="139" width="3" height="3" fill="#fa00ff"/><rect x="586" y="139" width="3" height="3" fill="#ff00f7"/><rect x="589" y="139" width="3" height="3" fill="#ff00ec"/><rect x="592" y="139" width="3" height="3" fill="#ff00e1"/><rect x="595" y="139" width="3" height="3" fill="#ff00d8"/><rect x="541" y="142" width="3" height="3" fill="#0053ff"/><rect x="544" y="142" width="3" height="3" fill="#004aff"/><rect x="547" y="142" width="3" height="3" fill="#0040ff"/><rect x="550" y="142" width="3" height="3" fill="#0034ff"/><rect x="553" y="142" width="3" height="3" fill="#4421ff"/><rect x="556" y="142" width="3" height="3" fill="#6500ff"/><rect x="559" y="142" width="3" height="3" fill="#7e00ff"/><rect x="562" y="142" width="3" height="3" fill="#9200ff"/><rect x="565" y="142" width="3" height="3" fill="#a400ff"/><rect x="568" y="142" width="3" height="3" fill="#b400ff"/><rect x="571" y="142" width="3" height="3" fill="#c300ff"/><rect x="574" y="142" width="3" height="3" fill="#d100ff"/><rect x="577" y="142" width="3" height="3" fill="#df00ff"/><rect x="580" y="142" width="3" height="3" fill="#ec00ff"/><rect x="583" y="142" width="3" height="3" fill="#f900ff"/><rect x="586" y="142" width="3" height="3" fill="#ff00f8"/><rect x="589" y="142" width="3" height="3" fill="#ff00ed"/><rect x="544" y="145" width="3" height="3" fill="#0032ff"/><rect x="547" y="145" width="3" height="3" fill="#0020ff"/><rect x="550" y="145" width="3" height="3" fill="#1600ff"/><rect x="553" y="145" width="3" height="3" fill="#4f00ff"/><rect x="556" y="145" width="3" height="3" fill="#6c00ff"/><rect x="559" y="145" width="3" height="3" fill="#8200ff"/><rect x="562" y="145" width="3" height="3" fill="#9500ff"/><rect x="565" y="145" width="3" height="3" fill="#a600ff"/><rect x="568" y="145" width="3" height="3" fill="#b600ff"/><rect x="571" y="145" width="3" height="3" fill="#c400ff"/><rect x="574" y="145" width="3" height="3" fill="#d200ff"/><rect x="577" y="145" width="3" height="3" fill="#df00ff"/><rect x="580" y="145" width="3" height="3" fill="#ec00ff"/><rect x="544" y="148" width="3" height="3" fill="#0000ff"/><rect x="547" y="148" width="3" height="3" fill="#0000ff"/><rect x="550" y="148" width="3" height="3" fill="#2f00ff"/><rect x="553" y="148" width="3" height="3" fill="#5700ff"/><rect x="556" y="148" width="3" height="3" fill="#7200ff"/><rect x="559" y="148" width="3" height="3" fill="#8600ff"/><rect x="562" y="148" width="3" height="3" fill="#9800ff"/><rect x="565" y="148" width="3" height="3" fill="#a900ff"/><rect x="568" y="148" width="3" height="3" fill="#b800ff"/><rect x="571" y="148" width="3" height="3" fill="#c600ff"/><rect x="574" y="148" width="3" height="3" fill="#d300ff"/><rect x="547" y="151" width="3" height="3" fill="#0000ff"/><rect x="550" y="151" width="3" height="3" fill="#3e00ff"/><rect x="553" y="151" width="3" height="3" fill="#5f00ff"/><rect x="556" y="151" width="3" height="3" fill="#7700ff"/><rect x="559" y="151" width="3" height="3" fill="#8a00ff"/><rect x="562" y="151" width="3" height="3" fill="#9b00ff"/><rect x="565" y="151" width="3" height="3" fill="#ab00ff"/><rect x="568" y="151" width="3" height="3" fill="#b900ff"/><rect x="550" y="154" width="3" height="3" fill="#4900ff"/><rect x="553" y="154" width="3" height="3" fill="#6500ff"/><rect x="556" y="154" width="3" height="3" fill="#7b00ff"/><rect x="559" y="154" width="3" height="3" fill="#8e00ff"/></g></g>
<path d="M555.98,156.20 L555.97,156.20 L555.96,156.20 L555.95,156.21 L555.93,156.22 L555.92,156.22 L555.90,156.22 L555.89,156.22 L555.87,156.22 L555.84,156.23 L555.82,156.24 L555.79,156.24 L555.77,156.24 L555.74,156.24 L555.71,156.24 L555.68,156.24 L555.64,156.24 L555.60,156.24 L555.56,156.23 L555.50,156.22 L555.44,156.18 L555.36,156.14 L555.27,156.09 L555.17,156.03 L555.07,155.95 L554.94,155.86 L554.80,155.75 L554.63,155.63 L554.45,155.48 L554.26,155.32 L554.05,155.14 L553.81,154.95 L553.54,154.74 L553.24,154.50 L552.88,154.22 L552.50,153.92 L552.09,153.60 L551.63,153.23 L551.13,152.81 L550.59,152.32 L550.00,151.77 L549.37,151.15 L548.69,150.39 L547.91,149.43 L547.03,148.21 L546.05,146.72 L544.97,144.93 L543.79,142.77 L542.51,140.15 L541.10,137.00 L539.53,133.28 L537.80,128.93 L535.98,123.88 L534.11,118.07 L532.26,111.49 L530.42,104.15 L528.60,96.08 L526.87,87.47 L525.32,78.51 L524.03,69.44 L523.03,60.46 L522.38,51.77 L522.13,43.51 L522.33,35.77 L523.00,28.69 L524.16,22.44 L525.82,17.17 L527.93,12.99 L530.41,10.01 L533.18,8.21 L536.16,7.43 L539.27,7.52 L542.46,8.26 L545.70,9.42 L548.94,10.85 L552.12,12.44 L555.22,14.12 L558.23,15.89 L561.18,17.74 L564.10,19.68 L567.00,21.70 L569.88,23.81 L572.76,25.98 L575.62,28.21 L578.46,30.50 L581.30,32.83 L584.13,35.21 L586.97,37.61 L589.81,40.05 L592.66,42.52 L595.50,45.00 L598.33,47.50 L601.16,50.01 L603.98,52.52 L606.80,55.03 L609.60,57.53 L612.38,60.02 L615.13,62.50 L617.85,64.95 L620.53,67.37 L623.18,69.76 L625.79,72.10 L628.34,74.41 L630.84,76.65 L633.27,78.83 L635.63,80.96 L637.91,83.01 L640.09,84.98 L642.15,86.84 L644.08,88.58 L645.92,90.24 L647.68,91.82 L649.34,93.32 L650.89,94.70 L652.32,95.97 L653.63,97.15 L654.84,98.24 L655.95,99.24 L656.96,100.16 L657.89,101.00 L658.73,101.76 L659.50,102.45 L660.21,103.08 L660.85,103.66 L661.44,104.19 L661.99,104.69 L662.50,105.15 L662.98,105.58 L663.42,105.98 L663.82,106.34 L664.19,106.68 L664.53,106.98 L664.84,107.25 L665.12,107.50 L665.37,107.72 L665.58,107.92 L665.78,108.09 L665.96,108.26 L666.12,108.40 L666.26,108.53 L666.38,108.63 L666.48,108.72 L666.56,108.80 L666.63,108.87 L666.71,108.93 L666.78,108.99 L666.83,109.05 L666.89,109.09 L666.94,109.14 L667.00,109.20 L667.05,109.25 L667.10,109.29 L667.15,109.33 L667.19,109.37 L667.22,109.40 L667.25,109.42 L667.28,109.45 L667.29,109.46 L667.31,109.47 L667.31,109.48 L667.31,109.48Z" fill="none" stroke="#4a66cc" stroke-width="0.9"/>
<circle cx="545.23" cy="135.56" r="2.7" fill="none" stroke="#fff" stroke-width="1.2"/>
</svg>
<svg width="685" height="380" viewBox="0 0 685 380">
<defs>
<radialGradient id="insetg" cx="0.45" cy="0.45" r="0.65">
<stop offset="0" stop-color="#1a38ea"/><stop offset="0.55" stop-color="#1026d0"/><stop offset="0.85" stop-color="#0a1aac"/><stop offset="1" stop-color="#06108c"/>
</radialGradient>
<radialGradient id="spotg"><stop offset="0" stop-color="#ffffff"/><stop offset="0.4" stop-color="#a0c0ff"/><stop offset="1" stop-color="#2040ff" stop-opacity="0"/></radialGradient>
</defs>
<text x="6.80" y="9.36" font-size="10.5" text-anchor="middle" fill="#111" stroke="#111" font-weight="normal" >(a)</text>
<line x1="0.00" y1="104.10" x2="17.80" y2="104.10" stroke="#111" stroke-width="1.3" />
<text x="10.20" y="99.64" font-size="8.5" text-anchor="middle" fill="#111" stroke="#111" font-weight="normal" >4.8</text>
<text x="10.20" y="116.74" font-size="8.5" text-anchor="middle" fill="#111" stroke="#111" font-weight="normal" >ITO</text>
<rect x="19.30" y="116.60" width="14.30" height="57.90" stroke="#4e4e4e" stroke-width="0.9" fill="none"/>
<text x="26.50" y="115.74" font-size="8.5" text-anchor="middle" fill="#111" stroke="#111" font-weight="normal" >5.4</text>
<text transform="translate(24.00,152.50) rotate(-90)" x="0" y="3.04" font-size="8.5" text-anchor="middle" fill="#111" stroke="#111" font-weight="normal" >HATCN</text>
<text x="26.40" y="181.84" font-size="8.5" text-anchor="middle" fill="#111" stroke="#111" font-weight="normal" >10 nm</text>
<rect x="35.50" y="10.40" width="67.00" height="99.10" stroke="#4e4e4e" stroke-width="0.9" fill="none"/>
<text x="73.30" y="8.24" font-size="8.5" text-anchor="middle" fill="#111" stroke="#111" font-weight="normal" >1.8</text>
<text transform="translate(42.00,91.00) rotate(-90)" x="0" y="3.04" font-size="8.5" text-anchor="middle" fill="#111" stroke="#111" font-weight="normal" >BCFN</text>
<text x="73.10" y="107.34" font-size="8.5" text-anchor="middle" fill="#111" stroke="#111" font-weight="normal" >5.2</text>
<text x="70.10" y="118.44" font-size="8.5" text-anchor="middle" fill="#111" stroke="#111" font-weight="normal" >60 nm</text>
<rect x="105.20" y="14.60" width="10.20" height="105.60" stroke="#4e4e4e" stroke-width="0.9" fill="none"/>
<text x="111.40" y="12.14" font-size="8.5" text-anchor="middle" fill="#111" stroke="#111" font-weight="normal" >1.9</text>
<text transform="translate(109.60,90.80) rotate(-90)" x="0" y="3.04" font-size="8.5" text-anchor="middle" fill="#111" stroke="#111" font-weight="normal" >SiCzCz</text>
<text x="110.50" y="118.44" font-size="8.5" text-anchor="middle" fill="#111" stroke="#111" font-weight="normal" >5.5</text>
<text x="111.30" y="125.44" font-size="8.5" text-anchor="middle" fill="#111" stroke="#111" font-weight="normal" >5 nm</text>
<rect x="117.60" y="14.60" width="45.70" height="129.20" stroke="#4e4e4e" stroke-width="0.9" fill="none"/>
<line x1="117.60" y1="43.50" x2="163.30" y2="43.50" stroke="#4e4e4e" stroke-width="0.9" />
<line x1="117.60" y1="120.20" x2="163.30" y2="120.20" stroke="#4e4e4e" stroke-width="0.9" />
<text x="139.80" y="11.94" font-size="8.5" text-anchor="middle" fill="#111" stroke="#111" font-weight="normal" >1.9</text>
<text x="139.80" y="26.34" font-size="8.5" text-anchor="middle" fill="#111" stroke="#111" font-weight="normal" >2.1</text>
<line x1="121.80" y1="29.50" x2="156.50" y2="29.50" stroke="#222" stroke-width="0.8" stroke-dasharray="1.3,0.9"/>
<line x1="122.00" y1="32.20" x2="156.50" y2="32.20" stroke="#4a6af0" stroke-width="0.8" stroke-dasharray="1.8,1.1"/>
<text x="139.80" y="37.24" font-size="8.5" text-anchor="middle" fill="#1a36f0" stroke="#1a36f0" font-weight="normal" >2.2</text>
<text x="139.50" y="50.54" font-size="8.5" text-anchor="middle" fill="#111" stroke="#111" font-weight="normal" >2.8</text>
<text transform="translate(122.70,90.80) rotate(-90)" x="0" y="3.04" font-size="8.5" text-anchor="middle" fill="#111" stroke="#111" font-weight="normal" >SiCzCz</text>
<text transform="translate(133.10,77.90) rotate(-90)" x="0" y="3.04" font-size="8.5" text-anchor="middle" fill="#111" stroke="#111" font-weight="normal" >PtON-TBBI</text>
<text transform="translate(149.60,74.20) rotate(-90)" x="0" y="3.04" font-size="8.5" text-anchor="middle" fill="#1a36f0" stroke="#1a36f0" font-weight="normal" ><tspan font-family="Liberation Serif">&#957;</tspan>-DABNA-M-B-Mes</text>
<text transform="translate(158.50,87.40) rotate(-90)" x="0" y="3.04" font-size="8.5" text-anchor="middle" fill="#111" stroke="#111" font-weight="normal" >SiTrzCz2</text>
<text x="140.00" y="111.24" font-size="8.5" text-anchor="middle" fill="#111" stroke="#111" font-weight="normal" >5.3</text>
<line x1="121.80" y1="113.30" x2="156.50" y2="113.30" stroke="#222" stroke-width="0.8" stroke-dasharray="1.3,0.9"/>
<line x1="122.00" y1="115.90" x2="156.50" y2="115.90" stroke="#4a6af0" stroke-width="0.8" stroke-dasharray="1.8,1.1"/>
<text x="139.80" y="121.84" font-size="8.5" text-anchor="middle" fill="#1a36f0" stroke="#1a36f0" font-weight="normal" >5.4</text>
<text x="140.30" y="142.24" font-size="8.5" text-anchor="middle" fill="#111" stroke="#111" font-weight="normal" >6.0</text>
<text x="139.30" y="150.64" font-size="8.5" text-anchor="middle" fill="#111" stroke="#111" font-weight="normal" >35 nm</text>
<rect x="165.60" y="40.40" width="11.00" height="121.80" stroke="#4e4e4e" stroke-width="0.9" fill="none"/>
<text x="172.00" y="38.14" font-size="8.5" text-anchor="middle" fill="#111" stroke="#111" font-weight="normal" >2.7</text>
<text transform="translate(170.50,118.70) rotate(-90)" x="0" y="3.04" font-size="8.5" text-anchor="middle" fill="#111" stroke="#111" font-weight="normal" >mSiTrz</text>
<text x="171.50" y="158.44" font-size="8.5" text-anchor="middle" fill="#111" stroke="#111" font-weight="normal" >6.5</text>
<text x="171.80" y="168.44" font-size="8.5" text-anchor="middle" fill="#111" stroke="#111" font-weight="normal" >5 nm</text>
<rect x="179.40" y="40.40" width="40.20" height="121.80" stroke="#4e4e4e" stroke-width="0.9" fill="none"/>
<text x="198.80" y="38.14" font-size="8.5" text-anchor="middle" fill="#111" stroke="#111" font-weight="normal" >2.7</text>
<text transform="translate(185.00,103.30) rotate(-90)" x="0" y="3.04" font-size="8.5" text-anchor="middle" fill="#111" stroke="#111" font-weight="normal" >mSiTrz:Liq</text>
<text x="197.50" y="161.24" font-size="8.5" text-anchor="middle" fill="#111" stroke="#111" font-weight="normal" >6.5</text>
<text x="198.80" y="169.04" font-size="8.5" text-anchor="middle" fill="#111" stroke="#111" font-weight="normal" >30 nm</text>
<line x1="221.80" y1="76.50" x2="239.80" y2="76.50" stroke="#111" stroke-width="1.3" />
<text x="231.10" y="73.24" font-size="8.5" text-anchor="middle" fill="#111" stroke="#111" font-weight="normal" >3.4</text>
<text x="231.40" y="90.34" font-size="8.5" text-anchor="middle" fill="#111" stroke="#111" font-weight="normal" >LiF/Al</text>
<text x="249.10" y="8.06" font-size="10.5" text-anchor="middle" fill="#111" stroke="#111" font-weight="normal" >(b)</text>
<line x1="297.40" y1="157.30" x2="297.40" y2="153.70" stroke="#3a3a3a" stroke-width="0.8" />
<text x="297.40" y="169.70" font-size="9.5" text-anchor="middle" fill="#111" stroke="#111" font-weight="normal" >400</text>
<line x1="313.61" y1="157.30" x2="313.61" y2="155.30" stroke="#3a3a3a" stroke-width="0.8" />
<line x1="329.82" y1="157.30" x2="329.82" y2="153.70" stroke="#3a3a3a" stroke-width="0.8" />
<text x="329.82" y="169.70" font-size="9.5" text-anchor="middle" fill="#111" stroke="#111" font-weight="normal" >440</text>
<line x1="346.03" y1="157.30" x2="346.03" y2="155.30" stroke="#3a3a3a" stroke-width="0.8" />
<line x1="362.24" y1="157.30" x2="362.24" y2="153.70" stroke="#3a3a3a" stroke-width="0.8" />
<text x="362.24" y="169.70" font-size="9.5" text-anchor="middle" fill="#111" stroke="#111" font-weight="normal" >480</text>
<line x1="378.45" y1="157.30" x2="378.45" y2="155.30" stroke="#3a3a3a" stroke-width="0.8" />
<line x1="394.66" y1="157.30" x2="394.66" y2="153.70" stroke="#3a3a3a" stroke-width="0.8" />
<text x="394.66" y="169.70" font-size="9.5" text-anchor="middle" fill="#111" stroke="#111" font-weight="normal" >520</text>
<line x1="410.87" y1="157.30" x2="410.87" y2="155.30" stroke="#3a3a3a" stroke-width="0.8" />
<line x1="427.08" y1="157.30" x2="427.08" y2="153.70" stroke="#3a3a3a" stroke-width="0.8" />
<text x="427.08" y="169.70" font-size="9.5" text-anchor="middle" fill="#111" stroke="#111" font-weight="normal" >560</text>
<line x1="443.29" y1="157.30" x2="443.29" y2="155.30" stroke="#3a3a3a" stroke-width="0.8" />
<line x1="459.50" y1="157.30" x2="459.50" y2="153.70" stroke="#3a3a3a" stroke-width="0.8" />
<text x="459.50" y="169.70" font-size="9.5" text-anchor="middle" fill="#111" stroke="#111" font-weight="normal" >600</text>
<line x1="297.40" y1="157.80" x2="301.00" y2="157.80" stroke="#3a3a3a" stroke-width="0.8" />
<text x="289.50" y="160.60" font-size="9.5" text-anchor="end" fill="#111" stroke="#111" font-weight="normal" >0</text>
<line x1="297.40" y1="143.97" x2="299.40" y2="143.97" stroke="#3a3a3a" stroke-width="0.8" />
<line x1="297.40" y1="130.14" x2="301.00" y2="130.14" stroke="#3a3a3a" stroke-width="0.8" />
<text x="289.50" y="132.94" font-size="9.5" text-anchor="end" fill="#111" stroke="#111" font-weight="normal" >0.2</text>
<line x1="297.40" y1="116.31" x2="299.40" y2="116.31" stroke="#3a3a3a" stroke-width="0.8" />
<line x1="297.40" y1="102.48" x2="301.00" y2="102.48" stroke="#3a3a3a" stroke-width="0.8" />
<text x="289.50" y="105.28" font-size="9.5" text-anchor="end" fill="#111" stroke="#111" font-weight="normal" >0.4</text>
<line x1="297.40" y1="88.65" x2="299.40" y2="88.65" stroke="#3a3a3a" stroke-width="0.8" />
<line x1="297.40" y1="74.82" x2="301.00" y2="74.82" stroke="#3a3a3a" stroke-width="0.8" />
<text x="289.50" y="77.62" font-size="9.5" text-anchor="end" fill="#111" stroke="#111" font-weight="normal" >0.6</text>
<line x1="297.40" y1="60.99" x2="299.40" y2="60.99" stroke="#3a3a3a" stroke-width="0.8" />
<line x1="297.40" y1="47.16" x2="301.00" y2="47.16" stroke="#3a3a3a" stroke-width="0.8" />
<text x="289.50" y="49.96" font-size="9.5" text-anchor="end" fill="#111" stroke="#111" font-weight="normal" >0.8</text>
<line x1="297.40" y1="33.33" x2="299.40" y2="33.33" stroke="#3a3a3a" stroke-width="0.8" />
<line x1="297.40" y1="19.50" x2="301.00" y2="19.50" stroke="#3a3a3a" stroke-width="0.8" />
<text x="289.50" y="22.30" font-size="9.5" text-anchor="end" fill="#111" stroke="#111" font-weight="normal" >1</text>
<rect x="297.40" y="5.60" width="162.10" height="151.70" stroke="#3a3a3a" stroke-width="1.0" fill="none"/>
<text x="378.40" y="183.00" font-size="9.5" text-anchor="middle" fill="#111" stroke="#111" font-weight="normal" >Wavelength /nm</text>
<text transform="translate(265.20,87.50) rotate(-90)" x="0" y="3.40" font-size="9.5" text-anchor="middle" fill="#111" stroke="#111" font-weight="normal" >Normalized intensity (arb. units)</text>
<path d="M297.40,157.80 L297.67,157.80 L297.94,157.80 L298.21,157.80 L298.48,157.80 L298.75,157.80 L299.02,157.80 L299.29,157.80 L299.56,157.80 L299.84,157.80 L300.11,157.80 L300.38,157.80 L300.65,157.80 L300.92,157.80 L301.19,157.80 L301.46,157.80 L301.73,157.80 L302.00,157.80 L302.27,157.80 L302.54,157.80 L302.81,157.80 L303.08,157.80 L303.35,157.80 L303.62,157.80 L303.89,157.80 L304.17,157.80 L304.44,157.80 L304.71,157.80 L304.98,157.80 L305.25,157.80 L305.52,157.80 L305.79,157.80 L306.06,157.80 L306.33,157.80 L306.60,157.80 L306.87,157.80 L307.14,157.80 L307.41,157.80 L307.68,157.80 L307.95,157.80 L308.22,157.80 L308.50,157.80 L308.77,157.80 L309.04,157.80 L309.31,157.80 L309.58,157.80 L309.85,157.80 L310.12,157.80 L310.39,157.80 L310.66,157.80 L310.93,157.80 L311.20,157.80 L311.47,157.80 L311.74,157.80 L312.01,157.80 L312.28,157.80 L312.55,157.80 L312.83,157.80 L313.10,157.80 L313.37,157.80 L313.64,157.80 L313.91,157.80 L314.18,157.80 L314.45,157.80 L314.72,157.80 L314.99,157.80 L315.26,157.80 L315.53,157.80 L315.80,157.80 L316.07,157.79 L316.34,157.79 L316.61,157.79 L316.88,157.79 L317.16,157.79 L317.43,157.79 L317.70,157.78 L317.97,157.78 L318.24,157.78 L318.51,157.78 L318.78,157.77 L319.05,157.77 L319.32,157.77 L319.59,157.77 L319.86,157.76 L320.13,157.76 L320.40,157.76 L320.67,157.75 L320.94,157.75 L321.21,157.75 L321.48,157.74 L321.76,157.74 L322.03,157.73 L322.30,157.73 L322.57,157.72 L322.84,157.72 L323.11,157.72 L323.38,157.71 L323.65,157.71 L323.92,157.70 L324.19,157.69 L324.46,157.69 L324.73,157.68 L325.00,157.68 L325.27,157.67 L325.54,157.67 L325.81,157.66 L326.09,157.65 L326.36,157.64 L326.63,157.63 L326.90,157.62 L327.17,157.60 L327.44,157.59 L327.71,157.57 L327.98,157.55 L328.25,157.53 L328.52,157.50 L328.79,157.47 L329.06,157.45 L329.33,157.42 L329.60,157.38 L329.87,157.35 L330.14,157.31 L330.42,157.27 L330.69,157.23 L330.96,157.19 L331.23,157.15 L331.50,157.10 L331.77,157.04 L332.04,156.96 L332.31,156.86 L332.58,156.75 L332.85,156.62 L333.12,156.47 L333.39,156.32 L333.66,156.15 L333.93,155.98 L334.20,155.79 L334.47,155.60 L334.75,155.40 L335.02,155.18 L335.29,154.93 L335.56,154.65 L335.83,154.34 L336.10,154.00 L336.37,153.64 L336.64,153.26 L336.91,152.85 L337.18,152.42 L337.45,151.98 L337.72,151.51 L337.99,151.02 L338.26,150.49 L338.53,149.93 L338.80,149.32 L339.08,148.66 L339.35,147.95 L339.62,147.19 L339.89,146.37 L340.16,145.48 L340.43,144.54 L340.70,143.52 L340.97,142.40 L341.24,141.07 L341.51,139.55 L341.78,137.85 L342.05,135.98 L342.32,133.95 L342.59,131.78 L342.86,129.46 L343.13,126.70 L343.41,123.50 L343.68,119.97 L343.95,116.26 L344.22,112.49 L344.49,108.79 L344.76,105.28 L345.03,101.88 L345.30,98.49 L345.57,95.01 L345.84,91.36 L346.11,87.44 L346.38,83.14 L346.65,78.53 L346.92,73.74 L347.19,68.87 L347.46,64.04 L347.73,59.37 L348.01,54.98 L348.28,50.55 L348.55,45.98 L348.82,41.52 L349.09,37.38 L349.36,33.79 L349.63,30.97 L349.90,28.77 L350.17,26.64 L350.44,24.64 L350.71,22.86 L350.98,21.37 L351.25,20.27 L351.52,19.63 L351.79,19.53 L352.06,19.95 L352.34,20.82 L352.61,22.04 L352.88,23.53 L353.15,25.23 L353.42,27.05 L353.69,28.90 L353.96,30.98 L354.23,33.65 L354.50,36.79 L354.77,40.25 L355.04,43.90 L355.31,47.62 L355.58,51.26 L355.85,54.68 L356.12,57.90 L356.39,61.15 L356.67,64.41 L356.94,67.65 L357.21,70.86 L357.48,74.00 L357.75,77.05 L358.02,79.98 L358.29,82.77 L358.56,85.48 L358.83,88.13 L359.10,90.71 L359.37,93.22 L359.64,95.66 L359.91,98.01 L360.18,100.28 L360.45,102.46 L360.72,104.62 L361.00,106.79 L361.27,108.90 L361.54,110.88 L361.81,112.67 L362.08,114.18 L362.35,115.37 L362.62,116.42 L362.89,117.38 L363.16,118.25 L363.43,119.04 L363.70,119.74 L363.97,120.38 L364.24,120.95 L364.51,121.46 L364.78,121.93 L365.05,122.38 L365.33,122.79 L365.60,123.18 L365.87,123.54 L366.14,123.87 L366.41,124.18 L366.68,124.47 L366.95,124.74 L367.22,124.99 L367.49,125.22 L367.76,125.43 L368.03,125.62 L368.30,125.81 L368.57,125.98 L368.84,126.15 L369.11,126.31 L369.38,126.48 L369.65,126.64 L369.93,126.82 L370.20,126.99 L370.47,127.18 L370.74,127.37 L371.01,127.56 L371.28,127.74 L371.55,127.93 L371.82,128.12 L372.09,128.31 L372.36,128.50 L372.63,128.70 L372.90,128.90 L373.17,129.11 L373.44,129.33 L373.71,129.56 L373.98,129.79 L374.26,130.03 L374.53,130.28 L374.80,130.54 L375.07,130.81 L375.34,131.08 L375.61,131.36 L375.88,131.65 L376.15,131.94 L376.42,132.26 L376.69,132.58 L376.96,132.91 L377.23,133.26 L377.50,133.61 L377.77,133.96 L378.04,134.32 L378.31,134.68 L378.59,135.04 L378.86,135.40 L379.13,135.75 L379.40,136.11 L379.67,136.47 L379.94,136.84 L380.21,137.20 L380.48,137.57 L380.75,137.94 L381.02,138.32 L381.29,138.69 L381.56,139.07 L381.83,139.45 L382.10,139.83 L382.37,140.22 L382.64,140.62 L382.92,141.03 L383.19,141.44 L383.46,141.86 L383.73,142.27 L384.00,142.67 L384.27,143.07 L384.54,143.45 L384.81,143.81 L385.08,144.15 L385.35,144.49 L385.62,144.82 L385.89,145.15 L386.16,145.47 L386.43,145.78 L386.70,146.08 L386.97,146.36 L387.25,146.64 L387.52,146.91 L387.79,147.16 L388.06,147.40 L388.33,147.63 L388.60,147.85 L388.87,148.06 L389.14,148.27 L389.41,148.47 L389.68,148.67 L389.95,148.86 L390.22,149.04 L390.49,149.22 L390.76,149.39 L391.03,149.55 L391.30,149.71 L391.57,149.87 L391.85,150.02 L392.12,150.16 L392.39,150.31 L392.66,150.44 L392.93,150.58 L393.20,150.71 L393.47,150.84 L393.74,150.96 L394.01,151.09 L394.28,151.21 L394.55,151.32 L394.82,151.44 L395.09,151.55 L395.36,151.66 L395.63,151.76 L395.90,151.86 L396.18,151.97 L396.45,152.06 L396.72,152.16 L396.99,152.26 L397.26,152.35 L397.53,152.44 L397.80,152.53 L398.07,152.62 L398.34,152.71 L398.61,152.79 L398.88,152.88 L399.15,152.96 L399.42,153.04 L399.69,153.12 L399.96,153.20 L400.23,153.27 L400.51,153.34 L400.78,153.42 L401.05,153.49 L401.32,153.56 L401.59,153.63 L401.86,153.69 L402.13,153.76 L402.40,153.83 L402.67,153.89 L402.94,153.95 L403.21,154.02 L403.48,154.08 L403.75,154.14 L404.02,154.20 L404.29,154.26 L404.56,154.32 L404.84,154.38 L405.11,154.43 L405.38,154.49 L405.65,154.54 L405.92,154.59 L406.19,154.64 L406.46,154.69 L406.73,154.74 L407.00,154.79 L407.27,154.84 L407.54,154.88 L407.81,154.93 L408.08,154.97 L408.35,155.01 L408.62,155.05 L408.89,155.09 L409.17,155.14 L409.44,155.18 L409.71,155.22 L409.98,155.25 L410.25,155.29 L410.52,155.33 L410.79,155.37 L411.06,155.40 L411.33,155.44 L411.60,155.48 L411.87,155.51 L412.14,155.55 L412.41,155.58 L412.68,155.62 L412.95,155.65 L413.22,155.68 L413.49,155.71 L413.77,155.75 L414.04,155.78 L414.31,155.81 L414.58,155.84 L414.85,155.87 L415.12,155.90 L415.39,155.93 L415.66,155.96 L415.93,155.99 L416.20,156.02 L416.47,156.05 L416.74,156.08 L417.01,156.11 L417.28,156.13 L417.55,156.16 L417.82,156.19 L418.10,156.22 L418.37,156.24 L418.64,156.27 L418.91,156.30 L419.18,156.33 L419.45,156.35 L419.72,156.38 L419.99,156.41 L420.26,156.43 L420.53,156.46 L420.80,156.49 L421.07,156.51 L421.34,156.54 L421.61,156.56 L421.88,156.59 L422.15,156.61 L422.43,156.64 L422.70,156.66 L422.97,156.68 L423.24,156.71 L423.51,156.73 L423.78,156.75 L424.05,156.77 L424.32,156.79 L424.59,156.81 L424.86,156.83 L425.13,156.85 L425.40,156.87 L425.67,156.89 L425.94,156.91 L426.21,156.92 L426.48,156.94 L426.76,156.95 L427.03,156.97 L427.30,156.98 L427.57,156.99 L427.84,157.01 L428.11,157.02 L428.38,157.03 L428.65,157.05 L428.92,157.06 L429.19,157.07 L429.46,157.08 L429.73,157.10 L430.00,157.11 L430.27,157.12 L430.54,157.13 L430.81,157.14 L431.09,157.16 L431.36,157.17 L431.63,157.18 L431.90,157.19 L432.17,157.20 L432.44,157.21 L432.71,157.22 L432.98,157.23 L433.25,157.24 L433.52,157.25 L433.79,157.26 L434.06,157.27 L434.33,157.28 L434.60,157.29 L434.87,157.30 L435.14,157.31 L435.42,157.32 L435.69,157.33 L435.96,157.34 L436.23,157.35 L436.50,157.35 L436.77,157.36 L437.04,157.37 L437.31,157.38 L437.58,157.39 L437.85,157.39 L438.12,157.40 L438.39,157.41 L438.66,157.42 L438.93,157.42 L439.20,157.43 L439.47,157.44 L439.74,157.45 L440.02,157.45 L440.29,157.46 L440.56,157.47 L440.83,157.47 L441.10,157.48 L441.37,157.48 L441.64,157.49 L441.91,157.50 L442.18,157.50 L442.45,157.51 L442.72,157.51 L442.99,157.52 L443.26,157.52 L443.53,157.53 L443.80,157.53 L444.07,157.54 L444.35,157.54 L444.62,157.55 L444.89,157.55 L445.16,157.56 L445.43,157.56 L445.70,157.57 L445.97,157.57 L446.24,157.58 L446.51,157.58 L446.78,157.59 L447.05,157.59 L447.32,157.60 L447.59,157.60 L447.86,157.61 L448.13,157.61 L448.40,157.61 L448.68,157.62 L448.95,157.62 L449.22,157.63 L449.49,157.63 L449.76,157.64 L450.03,157.64 L450.30,157.64 L450.57,157.65 L450.84,157.65 L451.11,157.66 L451.38,157.66 L451.65,157.66 L451.92,157.67 L452.19,157.67 L452.46,157.67 L452.73,157.68 L453.01,157.68 L453.28,157.68 L453.55,157.69 L453.82,157.69 L454.09,157.69 L454.36,157.70 L454.63,157.70 L454.90,157.70 L455.17,157.71 L455.44,157.71 L455.71,157.71 L455.98,157.71 L456.25,157.71 L456.52,157.72 L456.79,157.72 L457.06,157.72 L457.34,157.72 L457.61,157.72 L457.88,157.72 L458.15,157.73 L458.42,157.73 L458.69,157.73 L458.96,157.73 L459.23,157.73 L459.50,157.73" fill="none" stroke="#1f2cff" stroke-width="1.5" stroke-linejoin="round" />
<text x="333.50" y="25.60" font-size="9.5" text-anchor="middle" fill="#1a36f0" stroke="#1a36f0" font-weight="normal" >467 nm</text>
<line x1="346.20" y1="87.60" x2="358.30" y2="87.60" stroke="#1f2cff" stroke-width="0.8" />
<path d="M348.3,87.6 l1.6,-1.2 l1.6,1.2 l-1.6,1.2 z M353.0,87.6 l1.6,-1.2 l1.6,1.2 l-1.6,1.2 z" fill="#1f2cff"/>
<text x="381.00" y="88.00" font-size="9.5" text-anchor="middle" fill="#1a36f0" stroke="#1a36f0" font-weight="normal" >17 nm</text>
<text x="381.00" y="97.90" font-size="9.5" text-anchor="middle" fill="#1a36f0" stroke="#1a36f0" font-weight="normal" >(96 meV)</text>
<g>
<rect x="390.8" y="15" width="39.8" height="35.3" fill="url(#insetg)"/>
<rect x="390.8" y="15" width="39.8" height="35.3" fill="none" stroke="#06107a" stroke-width="1" opacity="0.6"/>
<rect x="401.2" y="24.6" width="17.9" height="16.4" fill="#0a1ab8" opacity="0.35" stroke="#3a5cff" stroke-width="1.1" stroke-opacity="0.55"/>
<rect x="419.3" y="24.6" width="4.3" height="16.4" fill="#1a36e8" opacity="0.35"/>
<line x1="399" y1="24.9" x2="413" y2="24.9" stroke="#4a6cff" stroke-width="0.9" opacity="0.6"/>
<circle cx="406.6" cy="31.2" r="2.6" fill="url(#spotg)"/>
<circle cx="398.8" cy="29.8" r="1.3" fill="#2c4cf4" opacity="0.8"/>
<circle cx="398.8" cy="37.4" r="1.3" fill="#2c4cf4" opacity="0.8"/>
<circle cx="421.6" cy="29.3" r="1.3" fill="#2c4cf4" opacity="0.8"/>
<circle cx="421.6" cy="36.8" r="1.3" fill="#2c4cf4" opacity="0.8"/>
<circle cx="392.9" cy="46.6" r="1.2" fill="#2440e8" opacity="0.6"/>
</g>
<text x="413.60" y="62.50" font-size="9.5" text-anchor="middle" fill="#1a36f0" stroke="#1a36f0" font-weight="bold" ><tspan font-family="Liberation Serif" font-weight="normal" stroke-width="0.35">&#957;</tspan>-DABNA-M-B-Mes</text>
<text x="486.30" y="8.06" font-size="10.5" text-anchor="middle" fill="#111" stroke="#111" font-weight="normal" >(c)</text>
<rect x="521.40" y="4.40" width="158.90" height="152.70" stroke="#3a3a3a" stroke-width="1.0" fill="none"/>
<line x1="521.40" y1="157.10" x2="521.40" y2="154.10" stroke="#3a3a3a" stroke-width="0.8" />
<line x1="529.34" y1="157.10" x2="529.34" y2="155.30" stroke="#3a3a3a" stroke-width="0.8" />
<line x1="537.29" y1="157.10" x2="537.29" y2="155.30" stroke="#3a3a3a" stroke-width="0.8" />
<line x1="545.23" y1="157.10" x2="545.23" y2="155.30" stroke="#3a3a3a" stroke-width="0.8" />
<line x1="553.18" y1="157.10" x2="553.18" y2="155.30" stroke="#3a3a3a" stroke-width="0.8" />
<line x1="561.12" y1="157.10" x2="561.12" y2="154.10" stroke="#3a3a3a" stroke-width="0.8" />
<line x1="569.06" y1="157.10" x2="569.06" y2="155.30" stroke="#3a3a3a" stroke-width="0.8" />
<line x1="577.01" y1="157.10" x2="577.01" y2="155.30" stroke="#3a3a3a" stroke-width="0.8" />
<line x1="584.95" y1="157.10" x2="584.95" y2="155.30" stroke="#3a3a3a" stroke-width="0.8" />
<line x1="592.90" y1="157.10" x2="592.90" y2="155.30" stroke="#3a3a3a" stroke-width="0.8" />
<line x1="600.84" y1="157.10" x2="600.84" y2="154.10" stroke="#3a3a3a" stroke-width="0.8" />
<line x1="608.78" y1="157.10" x2="608.78" y2="155.30" stroke="#3a3a3a" stroke-width="0.8" />
<line x1="616.73" y1="157.10" x2="616.73" y2="155.30" stroke="#3a3a3a" stroke-width="0.8" />
<line x1="624.67" y1="157.10" x2="624.67" y2="155.30" stroke="#3a3a3a" stroke-width="0.8" />
<line x1="632.62" y1="157.10" x2="632.62" y2="155.30" stroke="#3a3a3a" stroke-width="0.8" />
<line x1="640.56" y1="157.10" x2="640.56" y2="154.10" stroke="#3a3a3a" stroke-width="0.8" />
<line x1="648.50" y1="157.10" x2="648.50" y2="155.30" stroke="#3a3a3a" stroke-width="0.8" />
<line x1="656.45" y1="157.10" x2="656.45" y2="155.30" stroke="#3a3a3a" stroke-width="0.8" />
<line x1="664.39" y1="157.10" x2="664.39" y2="155.30" stroke="#3a3a3a" stroke-width="0.8" />
<line x1="672.34" y1="157.10" x2="672.34" y2="155.30" stroke="#3a3a3a" stroke-width="0.8" />
<line x1="680.28" y1="157.10" x2="680.28" y2="154.10" stroke="#3a3a3a" stroke-width="0.8" />
<text x="519.90" y="168.10" font-size="9.5" text-anchor="middle" fill="#111" stroke="#111" font-weight="normal" >0.0</text>
<text x="559.62" y="168.10" font-size="9.5" text-anchor="middle" fill="#111" stroke="#111" font-weight="normal" >0.2</text>
<text x="599.34" y="168.10" font-size="9.5" text-anchor="middle" fill="#111" stroke="#111" font-weight="normal" >0.4</text>
<text x="639.06" y="168.10" font-size="9.5" text-anchor="middle" fill="#111" stroke="#111" font-weight="normal" >0.6</text>
<text x="678.78" y="168.10" font-size="9.5" text-anchor="middle" fill="#111" stroke="#111" font-weight="normal" >0.8</text>
<line x1="521.40" y1="157.10" x2="524.40" y2="157.10" stroke="#3a3a3a" stroke-width="0.8" />
<line x1="521.40" y1="149.92" x2="523.20" y2="149.92" stroke="#3a3a3a" stroke-width="0.8" />
<line x1="521.40" y1="142.74" x2="523.20" y2="142.74" stroke="#3a3a3a" stroke-width="0.8" />
<line x1="521.40" y1="135.56" x2="523.20" y2="135.56" stroke="#3a3a3a" stroke-width="0.8" />
<line x1="521.40" y1="128.38" x2="523.20" y2="128.38" stroke="#3a3a3a" stroke-width="0.8" />
<line x1="521.40" y1="121.20" x2="524.40" y2="121.20" stroke="#3a3a3a" stroke-width="0.8" />
<line x1="521.40" y1="114.02" x2="523.20" y2="114.02" stroke="#3a3a3a" stroke-width="0.8" />
<line x1="521.40" y1="106.84" x2="523.20" y2="106.84" stroke="#3a3a3a" stroke-width="0.8" />
<line x1="521.40" y1="99.66" x2="523.20" y2="99.66" stroke="#3a3a3a" stroke-width="0.8" />
<line x1="521.40" y1="92.48" x2="523.20" y2="92.48" stroke="#3a3a3a" stroke-width="0.8" />
<line x1="521.40" y1="85.30" x2="524.40" y2="85.30" stroke="#3a3a3a" stroke-width="0.8" />
<line x1="521.40" y1="78.12" x2="523.20" y2="78.12" stroke="#3a3a3a" stroke-width="0.8" />
<line x1="521.40" y1="70.94" x2="523.20" y2="70.94" stroke="#3a3a3a" stroke-width="0.8" />
<line x1="521.40" y1="63.76" x2="523.20" y2="63.76" stroke="#3a3a3a" stroke-width="0.8" />
<line x1="521.40" y1="56.58" x2="523.20" y2="56.58" stroke="#3a3a3a" stroke-width="0.8" />
<line x1="521.40" y1="49.40" x2="524.40" y2="49.40" stroke="#3a3a3a" stroke-width="0.8" />
<line x1="521.40" y1="42.22" x2="523.20" y2="42.22" stroke="#3a3a3a" stroke-width="0.8" />
<line x1="521.40" y1="35.04" x2="523.20" y2="35.04" stroke="#3a3a3a" stroke-width="0.8" />
<line x1="521.40" y1="27.86" x2="523.20" y2="27.86" stroke="#3a3a3a" stroke-width="0.8" />
<line x1="521.40" y1="20.68" x2="523.20" y2="20.68" stroke="#3a3a3a" stroke-width="0.8" />
<line x1="521.40" y1="13.50" x2="524.40" y2="13.50" stroke="#3a3a3a" stroke-width="0.8" />
<line x1="521.40" y1="6.32" x2="523.20" y2="6.32" stroke="#3a3a3a" stroke-width="0.8" />
<text x="511.40" y="159.50" font-size="9.5" text-anchor="end" fill="#111" stroke="#111" font-weight="normal" >0.0</text>
<text x="511.40" y="123.60" font-size="9.5" text-anchor="end" fill="#111" stroke="#111" font-weight="normal" >0.2</text>
<text x="511.40" y="87.70" font-size="9.5" text-anchor="end" fill="#111" stroke="#111" font-weight="normal" >0.4</text>
<text x="511.40" y="51.80" font-size="9.5" text-anchor="end" fill="#111" stroke="#111" font-weight="normal" >0.6</text>
<text x="511.40" y="15.90" font-size="9.5" text-anchor="end" fill="#111" stroke="#111" font-weight="normal" >0.8</text>
<text x="599.80" y="182.40" font-size="9.5" text-anchor="middle" fill="#111" stroke="#111" font-weight="normal" >x</text>
<text x="488.70" y="86.80" font-size="9.5" text-anchor="middle" fill="#111" stroke="#111" font-weight="normal" >y</text>
<text x="595.3" y="28.70" font-size="9.5" fill="#111" stroke="#111">CIE = <tspan fill="#1a36f0" stroke="#1a36f0">(0.12, 0.12)</tspan></text>
<text x="6.80" y="199.76" font-size="10.5" text-anchor="middle" fill="#111" stroke="#111" font-weight="normal" >(d)</text>
<line x1="59.70" y1="351.80" x2="59.70" y2="348.80" stroke="#3a3a3a" stroke-width="0.8" />
<text x="59.70" y="363.40" font-size="9.5" text-anchor="middle" fill="#111" stroke="#111" font-weight="normal" >2</text>
<line x1="67.64" y1="351.80" x2="67.64" y2="350.00" stroke="#3a3a3a" stroke-width="0.8" />
<line x1="75.58" y1="351.80" x2="75.58" y2="348.80" stroke="#3a3a3a" stroke-width="0.8" />
<text x="75.58" y="363.40" font-size="9.5" text-anchor="middle" fill="#111" stroke="#111" font-weight="normal" >3</text>
<line x1="83.51" y1="351.80" x2="83.51" y2="350.00" stroke="#3a3a3a" stroke-width="0.8" />
<line x1="91.45" y1="351.80" x2="91.45" y2="348.80" stroke="#3a3a3a" stroke-width="0.8" />
<text x="91.45" y="363.40" font-size="9.5" text-anchor="middle" fill="#111" stroke="#111" font-weight="normal" >4</text>
<line x1="99.39" y1="351.80" x2="99.39" y2="350.00" stroke="#3a3a3a" stroke-width="0.8" />
<line x1="107.32" y1="351.80" x2="107.32" y2="348.80" stroke="#3a3a3a" stroke-width="0.8" />
<text x="107.32" y="363.40" font-size="9.5" text-anchor="middle" fill="#111" stroke="#111" font-weight="normal" >5</text>
<line x1="115.26" y1="351.80" x2="115.26" y2="350.00" stroke="#3a3a3a" stroke-width="0.8" />
<line x1="123.20" y1="351.80" x2="123.20" y2="348.80" stroke="#3a3a3a" stroke-width="0.8" />
<text x="123.20" y="363.40" font-size="9.5" text-anchor="middle" fill="#111" stroke="#111" font-weight="normal" >6</text>
<line x1="131.14" y1="351.80" x2="131.14" y2="350.00" stroke="#3a3a3a" stroke-width="0.8" />
<line x1="139.07" y1="351.80" x2="139.07" y2="348.80" stroke="#3a3a3a" stroke-width="0.8" />
<text x="139.07" y="363.40" font-size="9.5" text-anchor="middle" fill="#111" stroke="#111" font-weight="normal" >7</text>
<line x1="147.01" y1="351.80" x2="147.01" y2="350.00" stroke="#3a3a3a" stroke-width="0.8" />
<line x1="154.95" y1="351.80" x2="154.95" y2="348.80" stroke="#3a3a3a" stroke-width="0.8" />
<text x="154.95" y="363.40" font-size="9.5" text-anchor="middle" fill="#111" stroke="#111" font-weight="normal" >8</text>
<line x1="162.89" y1="351.80" x2="162.89" y2="350.00" stroke="#3a3a3a" stroke-width="0.8" />
<line x1="170.82" y1="351.80" x2="170.82" y2="348.80" stroke="#3a3a3a" stroke-width="0.8" />
<text x="170.82" y="363.40" font-size="9.5" text-anchor="middle" fill="#111" stroke="#111" font-weight="normal" >9</text>
<line x1="178.76" y1="351.80" x2="178.76" y2="350.00" stroke="#3a3a3a" stroke-width="0.8" />
<line x1="186.70" y1="351.80" x2="186.70" y2="348.80" stroke="#3a3a3a" stroke-width="0.8" />
<text x="186.70" y="363.40" font-size="9.5" text-anchor="middle" fill="#111" stroke="#111" font-weight="normal" >10</text>
<line x1="59.70" y1="351.80" x2="62.70" y2="351.80" stroke="#3a3a3a" stroke-width="0.7" />
<line x1="186.70" y1="351.80" x2="183.70" y2="351.80" stroke="#3a3a3a" stroke-width="0.7" />
<line x1="59.70" y1="341.87" x2="61.50" y2="341.87" stroke="#3a3a3a" stroke-width="0.7" />
<line x1="186.70" y1="341.87" x2="184.90" y2="341.87" stroke="#3a3a3a" stroke-width="0.7" />
<line x1="59.70" y1="336.05" x2="61.50" y2="336.05" stroke="#3a3a3a" stroke-width="0.7" />
<line x1="186.70" y1="336.05" x2="184.90" y2="336.05" stroke="#3a3a3a" stroke-width="0.7" />
<line x1="59.70" y1="331.93" x2="61.50" y2="331.93" stroke="#3a3a3a" stroke-width="0.7" />
<line x1="186.70" y1="331.93" x2="184.90" y2="331.93" stroke="#3a3a3a" stroke-width="0.7" />
<line x1="59.70" y1="328.73" x2="61.50" y2="328.73" stroke="#3a3a3a" stroke-width="0.7" />
<line x1="186.70" y1="328.73" x2="184.90" y2="328.73" stroke="#3a3a3a" stroke-width="0.7" />
<line x1="59.70" y1="326.12" x2="61.50" y2="326.12" stroke="#3a3a3a" stroke-width="0.7" />
<line x1="186.70" y1="326.12" x2="184.90" y2="326.12" stroke="#3a3a3a" stroke-width="0.7" />
<line x1="59.70" y1="323.91" x2="61.50" y2="323.91" stroke="#3a3a3a" stroke-width="0.7" />
<line x1="186.70" y1="323.91" x2="184.90" y2="323.91" stroke="#3a3a3a" stroke-width="0.7" />
<line x1="59.70" y1="322.00" x2="61.50" y2="322.00" stroke="#3a3a3a" stroke-width="0.7" />
<line x1="186.70" y1="322.00" x2="184.90" y2="322.00" stroke="#3a3a3a" stroke-width="0.7" />
<line x1="59.70" y1="320.31" x2="61.50" y2="320.31" stroke="#3a3a3a" stroke-width="0.7" />
<line x1="186.70" y1="320.31" x2="184.90" y2="320.31" stroke="#3a3a3a" stroke-width="0.7" />
<line x1="59.70" y1="318.80" x2="62.70" y2="318.80" stroke="#3a3a3a" stroke-width="0.7" />
<line x1="186.70" y1="318.80" x2="183.70" y2="318.80" stroke="#3a3a3a" stroke-width="0.7" />
<line x1="59.70" y1="308.87" x2="61.50" y2="308.87" stroke="#3a3a3a" stroke-width="0.7" />
<line x1="186.70" y1="308.87" x2="184.90" y2="308.87" stroke="#3a3a3a" stroke-width="0.7" />
<line x1="59.70" y1="303.05" x2="61.50" y2="303.05" stroke="#3a3a3a" stroke-width="0.7" />
<line x1="186.70" y1="303.05" x2="184.90" y2="303.05" stroke="#3a3a3a" stroke-width="0.7" />
<line x1="59.70" y1="298.93" x2="61.50" y2="298.93" stroke="#3a3a3a" stroke-width="0.7" />
<line x1="186.70" y1="298.93" x2="184.90" y2="298.93" stroke="#3a3a3a" stroke-width="0.7" />
<line x1="59.70" y1="295.73" x2="61.50" y2="295.73" stroke="#3a3a3a" stroke-width="0.7" />
<line x1="186.70" y1="295.73" x2="184.90" y2="295.73" stroke="#3a3a3a" stroke-width="0.7" />
<line x1="59.70" y1="293.12" x2="61.50" y2="293.12" stroke="#3a3a3a" stroke-width="0.7" />
<line x1="186.70" y1="293.12" x2="184.90" y2="293.12" stroke="#3a3a3a" stroke-width="0.7" />
<line x1="59.70" y1="290.91" x2="61.50" y2="290.91" stroke="#3a3a3a" stroke-width="0.7" />
<line x1="186.70" y1="290.91" x2="184.90" y2="290.91" stroke="#3a3a3a" stroke-width="0.7" />
<line x1="59.70" y1="289.00" x2="61.50" y2="289.00" stroke="#3a3a3a" stroke-width="0.7" />
<line x1="186.70" y1="289.00" x2="184.90" y2="289.00" stroke="#3a3a3a" stroke-width="0.7" />
<line x1="59.70" y1="287.31" x2="61.50" y2="287.31" stroke="#3a3a3a" stroke-width="0.7" />
<line x1="186.70" y1="287.31" x2="184.90" y2="287.31" stroke="#3a3a3a" stroke-width="0.7" />
<line x1="59.70" y1="285.80" x2="62.70" y2="285.80" stroke="#3a3a3a" stroke-width="0.7" />
<line x1="186.70" y1="285.80" x2="183.70" y2="285.80" stroke="#3a3a3a" stroke-width="0.7" />
<line x1="59.70" y1="275.87" x2="61.50" y2="275.87" stroke="#3a3a3a" stroke-width="0.7" />
<line x1="186.70" y1="275.87" x2="184.90" y2="275.87" stroke="#3a3a3a" stroke-width="0.7" />
<line x1="59.70" y1="270.05" x2="61.50" y2="270.05" stroke="#3a3a3a" stroke-width="0.7" />
<line x1="186.70" y1="270.05" x2="184.90" y2="270.05" stroke="#3a3a3a" stroke-width="0.7" />
<line x1="59.70" y1="265.93" x2="61.50" y2="265.93" stroke="#3a3a3a" stroke-width="0.7" />
<line x1="186.70" y1="265.93" x2="184.90" y2="265.93" stroke="#3a3a3a" stroke-width="0.7" />
<line x1="59.70" y1="262.73" x2="61.50" y2="262.73" stroke="#3a3a3a" stroke-width="0.7" />
<line x1="186.70" y1="262.73" x2="184.90" y2="262.73" stroke="#3a3a3a" stroke-width="0.7" />
<line x1="59.70" y1="260.12" x2="61.50" y2="260.12" stroke="#3a3a3a" stroke-width="0.7" />
<line x1="186.70" y1="260.12" x2="184.90" y2="260.12" stroke="#3a3a3a" stroke-width="0.7" />
<line x1="59.70" y1="257.91" x2="61.50" y2="257.91" stroke="#3a3a3a" stroke-width="0.7" />
<line x1="186.70" y1="257.91" x2="184.90" y2="257.91" stroke="#3a3a3a" stroke-width="0.7" />
<line x1="59.70" y1="256.00" x2="61.50" y2="256.00" stroke="#3a3a3a" stroke-width="0.7" />
<line x1="186.70" y1="256.00" x2="184.90" y2="256.00" stroke="#3a3a3a" stroke-width="0.7" />
<line x1="59.70" y1="254.31" x2="61.50" y2="254.31" stroke="#3a3a3a" stroke-width="0.7" />
<line x1="186.70" y1="254.31" x2="184.90" y2="254.31" stroke="#3a3a3a" stroke-width="0.7" />
<line x1="59.70" y1="252.80" x2="62.70" y2="252.80" stroke="#3a3a3a" stroke-width="0.7" />
<line x1="186.70" y1="252.80" x2="183.70" y2="252.80" stroke="#3a3a3a" stroke-width="0.7" />
<line x1="59.70" y1="242.87" x2="61.50" y2="242.87" stroke="#3a3a3a" stroke-width="0.7" />
<line x1="186.70" y1="242.87" x2="184.90" y2="242.87" stroke="#3a3a3a" stroke-width="0.7" />
<line x1="59.70" y1="237.05" x2="61.50" y2="237.05" stroke="#3a3a3a" stroke-width="0.7" />
<line x1="186.70" y1="237.05" x2="184.90" y2="237.05" stroke="#3a3a3a" stroke-width="0.7" />
<line x1="59.70" y1="232.93" x2="61.50" y2="232.93" stroke="#3a3a3a" stroke-width="0.7" />
<line x1="186.70" y1="232.93" x2="184.90" y2="232.93" stroke="#3a3a3a" stroke-width="0.7" />
<line x1="59.70" y1="229.73" x2="61.50" y2="229.73" stroke="#3a3a3a" stroke-width="0.7" />
<line x1="186.70" y1="229.73" x2="184.90" y2="229.73" stroke="#3a3a3a" stroke-width="0.7" />
<line x1="59.70" y1="227.12" x2="61.50" y2="227.12" stroke="#3a3a3a" stroke-width="0.7" />
<line x1="186.70" y1="227.12" x2="184.90" y2="227.12" stroke="#3a3a3a" stroke-width="0.7" />
<line x1="59.70" y1="224.91" x2="61.50" y2="224.91" stroke="#3a3a3a" stroke-width="0.7" />
<line x1="186.70" y1="224.91" x2="184.90" y2="224.91" stroke="#3a3a3a" stroke-width="0.7" />
<line x1="59.70" y1="223.00" x2="61.50" y2="223.00" stroke="#3a3a3a" stroke-width="0.7" />
<line x1="186.70" y1="223.00" x2="184.90" y2="223.00" stroke="#3a3a3a" stroke-width="0.7" />
<line x1="59.70" y1="221.31" x2="61.50" y2="221.31" stroke="#3a3a3a" stroke-width="0.7" />
<line x1="186.70" y1="221.31" x2="184.90" y2="221.31" stroke="#3a3a3a" stroke-width="0.7" />
<line x1="59.70" y1="219.80" x2="62.70" y2="219.80" stroke="#3a3a3a" stroke-width="0.7" />
<line x1="186.70" y1="219.80" x2="183.70" y2="219.80" stroke="#3a3a3a" stroke-width="0.7" />
<line x1="59.70" y1="209.87" x2="61.50" y2="209.87" stroke="#3a3a3a" stroke-width="0.7" />
<line x1="186.70" y1="209.87" x2="184.90" y2="209.87" stroke="#3a3a3a" stroke-width="0.7" />
<line x1="59.70" y1="204.05" x2="61.50" y2="204.05" stroke="#3a3a3a" stroke-width="0.7" />
<line x1="186.70" y1="204.05" x2="184.90" y2="204.05" stroke="#3a3a3a" stroke-width="0.7" />
<line x1="59.70" y1="199.93" x2="61.50" y2="199.93" stroke="#3a3a3a" stroke-width="0.7" />
<line x1="186.70" y1="199.93" x2="184.90" y2="199.93" stroke="#3a3a3a" stroke-width="0.7" />
<text x="52.60" y="354.60" font-size="9.5" text-anchor="end" fill="#111" stroke="#111" font-weight="normal" >1</text>
<text x="52.60" y="321.60" font-size="9.5" text-anchor="end" fill="#111" stroke="#111" font-weight="normal" >10</text>
<text x="52.60" y="288.60" font-size="9.5" text-anchor="end" fill="#111" stroke="#111" font-weight="normal" >100</text>
<text x="52.60" y="255.60" font-size="9.5" text-anchor="end" fill="#111" stroke="#111" font-weight="normal" >1000</text>
<text x="52.60" y="222.60" font-size="9.5" text-anchor="end" fill="#111" stroke="#111" font-weight="normal" >10000</text>
<text x="194.70" y="354.60" font-size="9.5" text-anchor="start" fill="#111" stroke="#111" font-weight="normal" >0.01</text>
<text x="194.70" y="321.60" font-size="9.5" text-anchor="start" fill="#111" stroke="#111" font-weight="normal" >0.1</text>
<text x="194.70" y="288.60" font-size="9.5" text-anchor="start" fill="#111" stroke="#111" font-weight="normal" >1</text>
<text x="194.70" y="255.60" font-size="9.5" text-anchor="start" fill="#111" stroke="#111" font-weight="normal" >10</text>
<text x="194.70" y="222.60" font-size="9.5" text-anchor="start" fill="#111" stroke="#111" font-weight="normal" >100</text>
<rect x="59.70" y="199.50" width="127.00" height="152.30" stroke="#3a3a3a" stroke-width="1.0" fill="none"/>
<text x="117.80" y="376.50" font-size="9.5" text-anchor="middle" fill="#111" stroke="#111" font-weight="normal" >Driving voltage /V</text>
<text transform="translate(23.2,280.4) rotate(-90)" x="0" y="3.40" font-size="9.5" text-anchor="middle" fill="#111" stroke="#111">Luminance /cd m<tspan dy="-3.8" font-size="7">&#8722;2</tspan></text>
<text transform="translate(218.4,281.2) rotate(90)" x="0" y="3.40" font-size="9.5" text-anchor="middle" fill="#111" stroke="#111">Current density /mA cm<tspan dy="-3.8" font-size="7">&#8722;2</tspan></text>
<path d="M70.24,351.97 L70.29,351.49 L70.34,351.00 L70.39,350.52 L70.44,350.03 L70.49,349.55 L70.54,349.06 L70.59,348.58 L70.64,348.09 L70.69,347.60 L70.74,347.11 L70.79,346.63 L70.85,346.14 L70.90,345.65 L70.95,345.16 L71.00,344.67 L71.06,344.18 L71.11,343.69 L71.16,343.20 L71.22,342.71 L71.27,342.22 L71.33,341.73 L71.38,341.24 L71.44,340.75 L71.49,340.26 L71.55,339.77 L71.61,339.28 L71.67,338.79 L71.73,338.30 L71.79,337.80 L71.85,337.31 L71.91,336.82 L71.97,336.33 L72.03,335.84 L72.09,335.35 L72.16,334.86 L72.22,334.36 L72.29,333.87 L72.35,333.38 L72.42,332.89 L72.49,332.40 L72.56,331.91 L72.63,331.42 L72.70,330.93 L72.77,330.44 L72.84,329.95 L72.92,329.46 L72.99,328.97 L73.07,328.48 L73.14,327.99 L73.22,327.50 L73.30,327.01 L73.38,326.52 L73.46,326.03 L73.55,325.54 L73.63,325.05 L73.72,324.56 L73.80,324.08 L73.89,323.59 L73.98,323.10 L74.07,322.62 L74.16,322.13 L74.25,321.64 L74.35,321.16 L74.44,320.67 L74.54,320.19 L74.64,319.70 L74.74,319.22 L74.84,318.74 L74.95,318.26 L75.05,317.77 L75.16,317.29 L75.27,316.81 L75.38,316.33 L75.49,315.85 L75.60,315.37 L75.72,314.89 L75.83,314.41 L75.95,313.94 L76.07,313.46 L76.20,312.98 L76.32,312.51 L76.45,312.03 L76.57,311.56 L76.70,311.08 L76.83,310.61 L76.97,310.14 L77.10,309.67 L77.24,309.20 L77.38,308.73 L77.52,308.26 L77.66,307.79 L77.81,307.32 L77.96,306.85 L78.11,306.39 L78.26,305.92 L78.41,305.46 L78.57,304.99 L78.73,304.53 L78.89,304.07 L79.05,303.61 L79.21,303.15 L79.38,302.69 L79.55,302.23 L79.72,301.77 L79.89,301.32 L80.06,300.86 L80.24,300.41 L80.42,299.95 L80.60,299.50 L80.78,299.05 L80.96,298.60 L81.15,298.15 L81.34,297.70 L81.53,297.25 L81.72,296.80 L81.91,296.35 L82.11,295.91 L82.31,295.46 L82.51,295.02 L82.71,294.57 L82.91,294.13 L83.12,293.69 L83.32,293.25 L83.53,292.81 L83.74,292.37 L83.95,291.93 L84.17,291.50 L84.39,291.06 L84.60,290.63 L84.82,290.19 L85.05,289.76 L85.27,289.33 L85.49,288.90 L85.72,288.47 L85.95,288.04 L86.18,287.61 L86.41,287.18 L86.65,286.76 L86.88,286.33 L87.12,285.91 L87.36,285.48 L87.60,285.06 L87.85,284.64 L88.09,284.22 L88.34,283.80 L88.59,283.38 L88.84,282.97 L89.09,282.55 L89.34,282.13 L89.60,281.72 L89.85,281.31 L90.11,280.90 L90.37,280.48 L90.63,280.07 L90.90,279.67 L91.16,279.26 L91.43,278.85 L91.70,278.45 L91.97,278.04 L92.24,277.64 L92.51,277.24 L92.78,276.83 L93.06,276.43 L93.34,276.03 L93.62,275.64 L93.90,275.24 L94.18,274.84 L94.47,274.45 L94.75,274.06 L95.04,273.66 L95.33,273.27 L95.62,272.88 L95.91,272.49 L96.20,272.10 L96.50,271.72 L96.79,271.33 L97.09,270.95 L97.39,270.56 L97.69,270.18 L97.99,269.80 L98.30,269.42 L98.60,269.04 L98.91,268.66 L99.22,268.28 L99.53,267.91 L99.84,267.53 L100.15,267.16 L100.46,266.79 L100.78,266.42 L101.09,266.05 L101.41,265.68 L101.73,265.31 L102.05,264.94 L102.37,264.58 L102.70,264.21 L103.02,263.85 L103.35,263.49 L103.67,263.12 L104.00,262.76 L104.33,262.40 L104.66,262.05 L105.00,261.69 L105.33,261.33 L105.66,260.98 L106.00,260.62 L106.34,260.27 L106.68,259.92 L107.02,259.57 L107.36,259.22 L107.70,258.87 L108.04,258.52 L108.39,258.17 L108.73,257.83 L109.08,257.48 L109.43,257.14 L109.78,256.80 L110.13,256.45 L110.48,256.11 L110.83,255.77 L111.19,255.43 L111.54,255.10 L111.90,254.76 L112.26,254.42 L112.61,254.09 L112.97,253.75 L113.33,253.42 L113.70,253.09 L114.06,252.76 L114.42,252.43 L114.79,252.10 L115.15,251.77 L115.52,251.44 L115.89,251.12 L116.25,250.79 L116.62,250.47 L117.00,250.14 L117.37,249.82 L117.74,249.50 L118.11,249.18 L118.49,248.86 L118.86,248.54 L119.24,248.22 L119.62,247.90 L120.00,247.59 L120.38,247.27 L120.76,246.96 L121.14,246.64 L121.52,246.33 L121.90,246.02 L122.28,245.71 L122.67,245.40 L123.05,245.09 L123.44,244.78 L123.83,244.47 L124.22,244.17 L124.60,243.86 L124.99,243.56 L125.38,243.25 L125.78,242.95 L126.17,242.65 L126.56,242.34 L126.95,242.04 L127.35,241.74 L127.74,241.45 L128.14,241.15 L128.53,240.85 L128.93,240.55 L129.33,240.26 L129.73,239.96 L130.13,239.67 L130.53,239.37 L130.93,239.08 L131.33,238.79 L131.73,238.50 L132.13,238.21 L132.54,237.92 L132.94,237.63 L133.34,237.34 L133.75,237.06 L134.15,236.77 L134.56,236.48 L134.97,236.20 L135.38,235.92 L135.78,235.63 L136.19,235.35 L136.60,235.07 L137.01,234.79 L137.42,234.51 L137.83,234.23 L138.24,233.95 L138.66,233.67 L139.07,233.39 L139.48,233.12 L139.89,232.84 L140.31,232.56 L140.72,232.29 L141.14,232.02 L141.55,231.74 L141.97,231.47 L142.38,231.20 L142.80,230.93 L143.22,230.66 L143.63,230.39 L144.05,230.12 L144.47,229.85 L144.89,229.58 L145.31,229.31 L145.73,229.05 L146.15,228.78 L146.57,228.52 L146.99,228.25 L147.41,227.99 L147.83,227.73 L148.25,227.46 L148.67,227.20 L149.09,226.94 L149.51,226.68 L149.94,226.42 L150.36,226.16 L150.78,225.90 L151.21,225.64 L151.63,225.39 L152.05,225.13 L152.48,224.87 L152.90,224.62 L153.33,224.36 L153.75,224.11 L154.18,223.85 L154.60,223.60 L155.03,223.35 L155.45,223.09 L155.88,222.84 L156.30,222.59 L156.73,222.34 L157.15,222.09 L157.58,221.84 L158.01,221.59 L158.43,221.34 L158.86,221.10 L159.28,220.85 L159.71,220.60 L160.14,220.36 L160.56,220.11 L160.99,219.87 L161.42,219.62 L161.85,219.38 L162.27,219.13 L162.70,218.89 L163.13,218.65 L163.55,218.41 L163.98,218.16 L164.41,217.92 L164.83,217.68 L165.26,217.44 L165.69,217.20 L166.11,216.96 L166.54,216.73 L166.97,216.49 L167.39,216.25 L167.82,216.01 L168.25,215.78 L168.67,215.54 L169.10,215.30 L169.53,215.07 L169.95,214.83 L170.38,214.60 L170.80,214.37 L171.23,214.13 L171.65,213.90 L172.08,213.67 L172.50,213.43 L172.93,213.20 L173.35,212.97 L173.78,212.74 L174.20,212.51 L174.63,212.28 L175.05,212.05 L175.47,211.82 L175.90,211.59 L176.32,211.36 L176.74,211.13 L177.17,210.91 L177.59,210.68 L178.01,210.45 L178.43,210.23 L178.85,210.00 L179.28,209.77 L179.70,209.55 L180.12,209.32 L180.54,209.10 L180.96,208.87 L181.38,208.65 L181.80,208.42 L182.21,208.20 L182.63,207.98 L183.05,207.76 L183.47,207.53 L183.89,207.31 L184.30,207.09" fill="none" stroke="#1f2cff" stroke-width="1.5" stroke-linejoin="round" />
<path d="M69.20,352.08 L69.18,351.56 L69.17,351.04 L69.16,350.52 L69.15,350.00 L69.14,349.48 L69.13,348.96 L69.13,348.44 L69.13,347.92 L69.13,347.40 L69.13,346.88 L69.13,346.36 L69.13,345.84 L69.14,345.32 L69.14,344.80 L69.15,344.28 L69.16,343.75 L69.17,343.23 L69.19,342.71 L69.20,342.19 L69.22,341.67 L69.24,341.15 L69.26,340.63 L69.28,340.11 L69.30,339.58 L69.33,339.06 L69.35,338.54 L69.38,338.02 L69.41,337.50 L69.44,336.98 L69.48,336.46 L69.51,335.94 L69.55,335.41 L69.58,334.89 L69.62,334.37 L69.67,333.85 L69.71,333.33 L69.75,332.81 L69.80,332.29 L69.85,331.77 L69.90,331.25 L69.95,330.73 L70.00,330.21 L70.06,329.69 L70.11,329.17 L70.17,328.65 L70.23,328.13 L70.29,327.61 L70.35,327.09 L70.42,326.57 L70.49,326.06 L70.55,325.54 L70.62,325.02 L70.69,324.50 L70.77,323.99 L70.84,323.47 L70.92,322.95 L71.00,322.43 L71.08,321.92 L71.16,321.40 L71.24,320.89 L71.33,320.37 L71.41,319.86 L71.50,319.34 L71.59,318.83 L71.68,318.31 L71.77,317.80 L71.87,317.29 L71.97,316.77 L72.06,316.26 L72.16,315.75 L72.26,315.24 L72.37,314.72 L72.47,314.21 L72.58,313.70 L72.69,313.19 L72.80,312.68 L72.91,312.17 L73.02,311.67 L73.14,311.16 L73.25,310.65 L73.37,310.14 L73.49,309.63 L73.62,309.13 L73.74,308.62 L73.86,308.12 L73.99,307.61 L74.12,307.11 L74.25,306.60 L74.38,306.10 L74.52,305.60 L74.65,305.10 L74.79,304.59 L74.93,304.09 L75.07,303.59 L75.21,303.09 L75.35,302.59 L75.50,302.09 L75.65,301.60 L75.80,301.10 L75.95,300.60 L76.10,300.11 L76.25,299.61 L76.41,299.12 L76.57,298.62 L76.73,298.13 L76.89,297.64 L77.05,297.14 L77.22,296.65 L77.38,296.16 L77.55,295.67 L77.72,295.18 L77.89,294.69 L78.06,294.21 L78.24,293.72 L78.42,293.23 L78.59,292.75 L78.77,292.26 L78.96,291.78 L79.14,291.29 L79.33,290.81 L79.51,290.33 L79.70,289.85 L79.89,289.37 L80.08,288.89 L80.28,288.41 L80.47,287.94 L80.67,287.46 L80.87,286.98 L81.07,286.51 L81.27,286.03 L81.48,285.56 L81.68,285.09 L81.89,284.62 L82.10,284.15 L82.31,283.68 L82.53,283.21 L82.74,282.74 L82.96,282.28 L83.18,281.81 L83.40,281.35 L83.62,280.88 L83.84,280.42 L84.07,279.96 L84.29,279.50 L84.52,279.04 L84.75,278.58 L84.99,278.12 L85.22,277.66 L85.46,277.21 L85.69,276.75 L85.93,276.30 L86.17,275.85 L86.42,275.40 L86.66,274.95 L86.91,274.50 L87.16,274.05 L87.41,273.60 L87.66,273.16 L87.91,272.71 L88.17,272.27 L88.43,271.83 L88.68,271.39 L88.94,270.95 L89.21,270.51 L89.47,270.07 L89.74,269.63 L90.00,269.20 L90.27,268.76 L90.55,268.33 L90.82,267.90 L91.09,267.47 L91.37,267.04 L91.65,266.61 L91.93,266.18 L92.21,265.76 L92.49,265.33 L92.78,264.91 L93.07,264.49 L93.36,264.07 L93.65,263.65 L93.94,263.23 L94.23,262.81 L94.53,262.40 L94.83,261.99 L95.13,261.57 L95.43,261.16 L95.73,260.75 L96.04,260.34 L96.34,259.94 L96.65,259.53 L96.96,259.12 L97.28,258.72 L97.59,258.32 L97.90,257.92 L98.22,257.52 L98.54,257.12 L98.86,256.72 L99.18,256.33 L99.51,255.93 L99.83,255.54 L100.16,255.15 L100.49,254.76 L100.82,254.37 L101.15,253.98 L101.48,253.60 L101.82,253.21 L102.16,252.83 L102.49,252.45 L102.83,252.06 L103.18,251.68 L103.52,251.31 L103.86,250.93 L104.21,250.55 L104.56,250.18 L104.91,249.80 L105.26,249.43 L105.61,249.06 L105.96,248.69 L106.32,248.32 L106.67,247.95 L107.03,247.59 L107.39,247.22 L107.75,246.86 L108.11,246.50 L108.48,246.13 L108.84,245.78 L109.21,245.42 L109.58,245.06 L109.95,244.70 L110.32,244.35 L110.69,243.99 L111.06,243.64 L111.44,243.29 L111.81,242.94 L112.19,242.59 L112.57,242.24 L112.95,241.90 L113.33,241.55 L113.71,241.21 L114.10,240.87 L114.48,240.52 L114.87,240.18 L115.26,239.85 L115.65,239.51 L116.04,239.17 L116.43,238.84 L116.82,238.50 L117.21,238.17 L117.61,237.84 L118.01,237.51 L118.40,237.18 L118.80,236.85 L119.20,236.52 L119.60,236.19 L120.00,235.87 L120.41,235.55 L120.81,235.22 L121.22,234.90 L121.63,234.58 L122.03,234.26 L122.44,233.95 L122.85,233.63 L123.26,233.32 L123.68,233.00 L124.09,232.69 L124.50,232.38 L124.92,232.07 L125.33,231.76 L125.75,231.45 L126.17,231.14 L126.59,230.83 L127.01,230.53 L127.43,230.23 L127.86,229.92 L128.28,229.62 L128.70,229.32 L129.13,229.02 L129.55,228.72 L129.98,228.43 L130.41,228.13 L130.84,227.84 L131.27,227.54 L131.70,227.25 L132.13,226.96 L132.57,226.67 L133.00,226.38 L133.43,226.09 L133.87,225.81 L134.31,225.52 L134.74,225.24 L135.18,224.95 L135.62,224.67 L136.06,224.39 L136.50,224.11 L136.94,223.83 L137.38,223.55 L137.82,223.28 L138.27,223.00 L138.71,222.73 L139.16,222.45 L139.60,222.18 L140.05,221.91 L140.50,221.64 L140.95,221.37 L141.39,221.10 L141.84,220.84 L142.29,220.57 L142.74,220.31 L143.20,220.04 L143.65,219.78 L144.10,219.52 L144.55,219.26 L145.01,219.00 L145.46,218.74 L145.92,218.48 L146.37,218.23 L146.83,217.97 L147.29,217.72 L147.75,217.46 L148.20,217.21 L148.66,216.96 L149.12,216.71 L149.58,216.46 L150.04,216.21 L150.50,215.97 L150.97,215.72 L151.43,215.48 L151.89,215.23 L152.35,214.99 L152.82,214.75 L153.28,214.51 L153.75,214.27 L154.21,214.03 L154.68,213.79 L155.14,213.56 L155.61,213.32 L156.07,213.09 L156.54,212.85 L157.01,212.62 L157.48,212.39 L157.95,212.16 L158.41,211.93 L158.88,211.70 L159.35,211.47 L159.82,211.25 L160.29,211.02 L160.76,210.80 L161.23,210.58 L161.71,210.35 L162.18,210.13 L162.65,209.91 L163.12,209.69 L163.59,209.47 L164.07,209.26 L164.54,209.04 L165.01,208.82 L165.49,208.61 L165.96,208.40 L166.43,208.18 L166.91,207.97 L167.38,207.76 L167.86,207.55 L168.33,207.34 L168.81,207.14 L169.28,206.93 L169.76,206.72 L170.23,206.52 L170.71,206.32 L171.18,206.11 L171.66,205.91 L172.13,205.71 L172.61,205.51 L173.09,205.31 L173.56,205.11 L174.04,204.92 L174.52,204.72 L174.99,204.52 L175.47,204.33 L175.95,204.14 L176.42,203.94 L176.90,203.75 L177.38,203.56 L177.85,203.37 L178.33,203.18 L178.81,203.00 L179.28,202.81 L179.76,202.62 L180.24,202.44 L180.71,202.25 L181.19,202.07 L181.67,201.89 L182.14,201.71 L182.62,201.53 L183.09,201.35 L183.57,201.17 L184.05,200.99 L184.52,200.81 L185.00,200.64 L185.47,200.46" fill="none" stroke="#1f2cff" stroke-width="1.5" stroke-linejoin="round" stroke-dasharray="3.2,1.6"/>
<ellipse cx="86.0" cy="288.3" rx="3.6" ry="6.1" fill="none" stroke="#111" stroke-width="1.3"/>
<path d="M86.3,282.2 Q88,281.6 90,281.6 L93,281.6" fill="none" stroke="#111" stroke-width="1.1"/>
<path d="M100.4,281.6 L91.8,279.5 L92.8,281.6 L91.8,283.7 z" fill="#111"/>
<ellipse cx="111.4" cy="242.3" rx="3.6" ry="6.0" fill="none" stroke="#111" stroke-width="1.3"/>
<path d="M112.2,236.5 Q110.5,236.1 108.5,236.1 L105.5,236.1" fill="none" stroke="#111" stroke-width="1.3"/>
<path d="M97.9,236.1 L106.6,234.0 L105.6,236.1 L106.6,238.2 z" fill="#111"/>
<text x="93.7" y="341.30" font-size="9.5" fill="#111" stroke="#111">V<tspan dy="2.6" font-size="7">on</tspan><tspan dy="-2.6"> = </tspan><tspan fill="#1a36f0" stroke="#1a36f0">2.5</tspan> V</text>
<text x="249.00" y="199.76" font-size="10.5" text-anchor="middle" fill="#111" stroke="#111" font-weight="normal" >(e)</text>
<line x1="325.20" y1="199.90" x2="325.20" y2="351.70" stroke="#333" stroke-width="0.7" stroke-dasharray="2,1.55"/>
<line x1="357.20" y1="199.90" x2="357.20" y2="351.70" stroke="#333" stroke-width="0.7" stroke-dasharray="2,1.55"/>
<line x1="389.20" y1="199.90" x2="389.20" y2="351.70" stroke="#333" stroke-width="0.7" stroke-dasharray="2,1.55"/>
<line x1="421.20" y1="199.90" x2="421.20" y2="351.70" stroke="#333" stroke-width="0.7" stroke-dasharray="2,1.55"/>
<line x1="293.20" y1="351.70" x2="293.20" y2="348.70" stroke="#3a3a3a" stroke-width="0.7" />
<line x1="302.83" y1="351.70" x2="302.83" y2="349.90" stroke="#3a3a3a" stroke-width="0.7" />
<line x1="308.47" y1="351.70" x2="308.47" y2="349.90" stroke="#3a3a3a" stroke-width="0.7" />
<line x1="312.47" y1="351.70" x2="312.47" y2="349.90" stroke="#3a3a3a" stroke-width="0.7" />
<line x1="315.57" y1="351.70" x2="315.57" y2="349.90" stroke="#3a3a3a" stroke-width="0.7" />
<line x1="318.10" y1="351.70" x2="318.10" y2="349.90" stroke="#3a3a3a" stroke-width="0.7" />
<line x1="320.24" y1="351.70" x2="320.24" y2="349.90" stroke="#3a3a3a" stroke-width="0.7" />
<line x1="322.10" y1="351.70" x2="322.10" y2="349.90" stroke="#3a3a3a" stroke-width="0.7" />
<line x1="323.74" y1="351.70" x2="323.74" y2="349.90" stroke="#3a3a3a" stroke-width="0.7" />
<line x1="325.20" y1="351.70" x2="325.20" y2="348.70" stroke="#3a3a3a" stroke-width="0.7" />
<line x1="334.83" y1="351.70" x2="334.83" y2="349.90" stroke="#3a3a3a" stroke-width="0.7" />
<line x1="340.47" y1="351.70" x2="340.47" y2="349.90" stroke="#3a3a3a" stroke-width="0.7" />
<line x1="344.47" y1="351.70" x2="344.47" y2="349.90" stroke="#3a3a3a" stroke-width="0.7" />
<line x1="347.57" y1="351.70" x2="347.57" y2="349.90" stroke="#3a3a3a" stroke-width="0.7" />
<line x1="350.10" y1="351.70" x2="350.10" y2="349.90" stroke="#3a3a3a" stroke-width="0.7" />
<line x1="352.24" y1="351.70" x2="352.24" y2="349.90" stroke="#3a3a3a" stroke-width="0.7" />
<line x1="354.10" y1="351.70" x2="354.10" y2="349.90" stroke="#3a3a3a" stroke-width="0.7" />
<line x1="355.74" y1="351.70" x2="355.74" y2="349.90" stroke="#3a3a3a" stroke-width="0.7" />
<line x1="357.20" y1="351.70" x2="357.20" y2="348.70" stroke="#3a3a3a" stroke-width="0.7" />
<line x1="366.83" y1="351.70" x2="366.83" y2="349.90" stroke="#3a3a3a" stroke-width="0.7" />
<line x1="372.47" y1="351.70" x2="372.47" y2="349.90" stroke="#3a3a3a" stroke-width="0.7" />
<line x1="376.47" y1="351.70" x2="376.47" y2="349.90" stroke="#3a3a3a" stroke-width="0.7" />
<line x1="379.57" y1="351.70" x2="379.57" y2="349.90" stroke="#3a3a3a" stroke-width="0.7" />
<line x1="382.10" y1="351.70" x2="382.10" y2="349.90" stroke="#3a3a3a" stroke-width="0.7" />
<line x1="384.24" y1="351.70" x2="384.24" y2="349.90" stroke="#3a3a3a" stroke-width="0.7" />
<line x1="386.10" y1="351.70" x2="386.10" y2="349.90" stroke="#3a3a3a" stroke-width="0.7" />
<line x1="387.74" y1="351.70" x2="387.74" y2="349.90" stroke="#3a3a3a" stroke-width="0.7" />
<line x1="389.20" y1="351.70" x2="389.20" y2="348.70" stroke="#3a3a3a" stroke-width="0.7" />
<line x1="398.83" y1="351.70" x2="398.83" y2="349.90" stroke="#3a3a3a" stroke-width="0.7" />
<line x1="404.47" y1="351.70" x2="404.47" y2="349.90" stroke="#3a3a3a" stroke-width="0.7" />
<line x1="408.47" y1="351.70" x2="408.47" y2="349.90" stroke="#3a3a3a" stroke-width="0.7" />
<line x1="411.57" y1="351.70" x2="411.57" y2="349.90" stroke="#3a3a3a" stroke-width="0.7" />
<line x1="414.10" y1="351.70" x2="414.10" y2="349.90" stroke="#3a3a3a" stroke-width="0.7" />
<line x1="416.24" y1="351.70" x2="416.24" y2="349.90" stroke="#3a3a3a" stroke-width="0.7" />
<line x1="418.10" y1="351.70" x2="418.10" y2="349.90" stroke="#3a3a3a" stroke-width="0.7" />
<line x1="419.74" y1="351.70" x2="419.74" y2="349.90" stroke="#3a3a3a" stroke-width="0.7" />
<line x1="421.20" y1="351.70" x2="421.20" y2="348.70" stroke="#3a3a3a" stroke-width="0.7" />
<line x1="430.83" y1="351.70" x2="430.83" y2="349.90" stroke="#3a3a3a" stroke-width="0.7" />
<line x1="436.47" y1="351.70" x2="436.47" y2="349.90" stroke="#3a3a3a" stroke-width="0.7" />
<line x1="293.20" y1="351.70" x2="296.20" y2="351.70" stroke="#3a3a3a" stroke-width="0.7" />
<line x1="439.10" y1="351.70" x2="436.10" y2="351.70" stroke="#3a3a3a" stroke-width="0.7" />
<line x1="293.20" y1="328.79" x2="295.00" y2="328.79" stroke="#3a3a3a" stroke-width="0.7" />
<line x1="439.10" y1="328.79" x2="437.30" y2="328.79" stroke="#3a3a3a" stroke-width="0.7" />
<line x1="293.20" y1="315.39" x2="295.00" y2="315.39" stroke="#3a3a3a" stroke-width="0.7" />
<line x1="439.10" y1="315.39" x2="437.30" y2="315.39" stroke="#3a3a3a" stroke-width="0.7" />
<line x1="293.20" y1="305.88" x2="295.00" y2="305.88" stroke="#3a3a3a" stroke-width="0.7" />
<line x1="439.10" y1="305.88" x2="437.30" y2="305.88" stroke="#3a3a3a" stroke-width="0.7" />
<line x1="293.20" y1="298.51" x2="295.00" y2="298.51" stroke="#3a3a3a" stroke-width="0.7" />
<line x1="439.10" y1="298.51" x2="437.30" y2="298.51" stroke="#3a3a3a" stroke-width="0.7" />
<line x1="293.20" y1="292.48" x2="295.00" y2="292.48" stroke="#3a3a3a" stroke-width="0.7" />
<line x1="439.10" y1="292.48" x2="437.30" y2="292.48" stroke="#3a3a3a" stroke-width="0.7" />
<line x1="293.20" y1="287.39" x2="295.00" y2="287.39" stroke="#3a3a3a" stroke-width="0.7" />
<line x1="439.10" y1="287.39" x2="437.30" y2="287.39" stroke="#3a3a3a" stroke-width="0.7" />
<line x1="293.20" y1="282.97" x2="295.00" y2="282.97" stroke="#3a3a3a" stroke-width="0.7" />
<line x1="439.10" y1="282.97" x2="437.30" y2="282.97" stroke="#3a3a3a" stroke-width="0.7" />
<line x1="293.20" y1="279.08" x2="295.00" y2="279.08" stroke="#3a3a3a" stroke-width="0.7" />
<line x1="439.10" y1="279.08" x2="437.30" y2="279.08" stroke="#3a3a3a" stroke-width="0.7" />
<line x1="293.20" y1="275.60" x2="296.20" y2="275.60" stroke="#3a3a3a" stroke-width="0.7" />
<line x1="439.10" y1="275.60" x2="436.10" y2="275.60" stroke="#3a3a3a" stroke-width="0.7" />
<line x1="293.20" y1="252.69" x2="295.00" y2="252.69" stroke="#3a3a3a" stroke-width="0.7" />
<line x1="439.10" y1="252.69" x2="437.30" y2="252.69" stroke="#3a3a3a" stroke-width="0.7" />
<line x1="293.20" y1="239.29" x2="295.00" y2="239.29" stroke="#3a3a3a" stroke-width="0.7" />
<line x1="439.10" y1="239.29" x2="437.30" y2="239.29" stroke="#3a3a3a" stroke-width="0.7" />
<line x1="293.20" y1="229.78" x2="295.00" y2="229.78" stroke="#3a3a3a" stroke-width="0.7" />
<line x1="439.10" y1="229.78" x2="437.30" y2="229.78" stroke="#3a3a3a" stroke-width="0.7" />
<line x1="293.20" y1="222.41" x2="295.00" y2="222.41" stroke="#3a3a3a" stroke-width="0.7" />
<line x1="439.10" y1="222.41" x2="437.30" y2="222.41" stroke="#3a3a3a" stroke-width="0.7" />
<line x1="293.20" y1="216.38" x2="295.00" y2="216.38" stroke="#3a3a3a" stroke-width="0.7" />
<line x1="439.10" y1="216.38" x2="437.30" y2="216.38" stroke="#3a3a3a" stroke-width="0.7" />
<line x1="293.20" y1="211.29" x2="295.00" y2="211.29" stroke="#3a3a3a" stroke-width="0.7" />
<line x1="439.10" y1="211.29" x2="437.30" y2="211.29" stroke="#3a3a3a" stroke-width="0.7" />
<line x1="293.20" y1="206.87" x2="295.00" y2="206.87" stroke="#3a3a3a" stroke-width="0.7" />
<line x1="439.10" y1="206.87" x2="437.30" y2="206.87" stroke="#3a3a3a" stroke-width="0.7" />
<line x1="293.20" y1="202.98" x2="295.00" y2="202.98" stroke="#3a3a3a" stroke-width="0.7" />
<line x1="439.10" y1="202.98" x2="437.30" y2="202.98" stroke="#3a3a3a" stroke-width="0.7" />
<line x1="293.20" y1="199.50" x2="296.20" y2="199.50" stroke="#3a3a3a" stroke-width="0.7" />
<line x1="439.10" y1="199.50" x2="436.10" y2="199.50" stroke="#3a3a3a" stroke-width="0.7" />
<text x="293.20" y="364.30" font-size="9.5" text-anchor="middle" fill="#111" stroke="#111" font-weight="normal" >1</text>
<text x="325.20" y="364.30" font-size="9.5" text-anchor="middle" fill="#111" stroke="#111" font-weight="normal" >10</text>
<text x="357.20" y="364.30" font-size="9.5" text-anchor="middle" fill="#111" stroke="#111" font-weight="normal" >100</text>
<text x="389.20" y="364.30" font-size="9.5" text-anchor="middle" fill="#111" stroke="#111" font-weight="normal" >1000</text>
<text x="421.20" y="364.30" font-size="9.5" text-anchor="middle" fill="#111" stroke="#111" font-weight="normal" >10000</text>
<text x="286.40" y="354.10" font-size="9.5" text-anchor="end" fill="#111" stroke="#111" font-weight="normal" >5</text>
<text x="286.40" y="278.00" font-size="9.5" text-anchor="end" fill="#111" stroke="#111" font-weight="normal" >50</text>
<text x="286.40" y="201.90" font-size="9.5" text-anchor="end" fill="#111" stroke="#111" font-weight="normal" >500</text>
<text x="446.60" y="354.50" font-size="9.5" text-anchor="start" fill="#111" stroke="#111" font-weight="normal" >1</text>
<text x="446.60" y="278.40" font-size="9.5" text-anchor="start" fill="#111" stroke="#111" font-weight="normal" >10</text>
<text x="446.60" y="202.30" font-size="9.5" text-anchor="start" fill="#111" stroke="#111" font-weight="normal" >100</text>
<rect x="293.20" y="199.90" width="145.90" height="151.80" stroke="#3a3a3a" stroke-width="1.0" fill="none"/>
<text x="372.8" y="379.00" font-size="9.5" text-anchor="middle" fill="#111" stroke="#111">Luminance /cd m<tspan dy="-3.8" font-size="7">&#8722;2</tspan></text>
<text transform="translate(262.4,278.7) rotate(-90)" x="0" y="3.40" font-size="9.5" text-anchor="middle" fill="#111" stroke="#111">Current efficiency /cd A<tspan dy="-3.8" font-size="7">&#8722;1</tspan></text>
<text transform="translate(467.4,280.2) rotate(90)" x="0" y="3.40" font-size="9.5" text-anchor="middle" fill="#111" stroke="#111">Power efficiency /lm W<tspan dy="-3.8" font-size="7">&#8722;1</tspan></text>
<path d="M294.16,298.25 L294.64,298.23 L295.13,298.22 L295.61,298.20 L296.10,298.19 L296.58,298.18 L297.07,298.16 L297.55,298.15 L298.04,298.14 L298.52,298.13 L299.01,298.11 L299.49,298.10 L299.98,298.09 L300.46,298.08 L300.95,298.07 L301.43,298.06 L301.92,298.05 L302.40,298.03 L302.89,298.02 L303.37,298.01 L303.85,298.00 L304.34,298.00 L304.82,297.99 L305.31,297.98 L305.79,297.97 L306.28,297.96 L306.76,297.95 L307.25,297.95 L307.73,297.94 L308.22,297.93 L308.70,297.92 L309.19,297.92 L309.67,297.91 L310.16,297.91 L310.64,297.90 L311.13,297.90 L311.61,297.89 L312.10,297.88 L312.58,297.88 L313.07,297.87 L313.55,297.87 L314.03,297.86 L314.52,297.86 L315.00,297.85 L315.49,297.85 L315.97,297.84 L316.46,297.84 L316.94,297.83 L317.43,297.83 L317.91,297.82 L318.40,297.82 L318.88,297.82 L319.37,297.81 L319.85,297.81 L320.34,297.81 L320.82,297.80 L321.31,297.80 L321.79,297.80 L322.28,297.80 L322.76,297.79 L323.24,297.79 L323.73,297.79 L324.21,297.79 L324.70,297.79 L325.18,297.79 L325.67,297.79 L326.15,297.79 L326.64,297.79 L327.12,297.80 L327.61,297.80 L328.09,297.80 L328.58,297.81 L329.06,297.82 L329.55,297.82 L330.03,297.83 L330.52,297.84 L331.00,297.85 L331.49,297.86 L331.97,297.87 L332.46,297.88 L332.94,297.89 L333.42,297.90 L333.91,297.91 L334.39,297.92 L334.88,297.94 L335.36,297.95 L335.85,297.96 L336.33,297.97 L336.82,297.99 L337.30,298.00 L337.79,298.02 L338.27,298.03 L338.76,298.04 L339.24,298.06 L339.73,298.07 L340.21,298.09 L340.70,298.10 L341.18,298.11 L341.67,298.13 L342.15,298.14 L342.63,298.16 L343.12,298.18 L343.60,298.20 L344.09,298.22 L344.57,298.24 L345.06,298.26 L345.54,298.28 L346.03,298.30 L346.51,298.33 L347.00,298.35 L347.48,298.38 L347.97,298.40 L348.45,298.43 L348.94,298.45 L349.42,298.48 L349.91,298.51 L350.39,298.53 L350.88,298.56 L351.36,298.59 L351.85,298.62 L352.33,298.64 L352.81,298.67 L353.30,298.70 L353.78,298.72 L354.27,298.75 L354.75,298.78 L355.24,298.80 L355.72,298.83 L356.21,298.86 L356.69,298.88 L357.18,298.91 L357.66,298.93 L358.15,298.95 L358.63,298.98 L359.12,299.00 L359.60,299.02 L360.09,299.05 L360.57,299.07 L361.06,299.09 L361.54,299.12 L362.02,299.14 L362.51,299.16 L362.99,299.19 L363.48,299.21 L363.96,299.23 L364.45,299.25 L364.93,299.28 L365.42,299.30 L365.90,299.33 L366.39,299.35 L366.87,299.37 L367.36,299.40 L367.84,299.42 L368.33,299.45 L368.81,299.47 L369.30,299.50 L369.78,299.52 L370.27,299.55 L370.75,299.58 L371.24,299.60 L371.72,299.63 L372.20,299.66 L372.69,299.69 L373.17,299.72 L373.66,299.75 L374.14,299.78 L374.63,299.81 L375.11,299.84 L375.60,299.87 L376.08,299.91 L376.57,299.94 L377.05,299.97 L377.54,300.01 L378.02,300.04 L378.51,300.08 L378.99,300.11 L379.48,300.15 L379.96,300.19 L380.45,300.22 L380.93,300.26 L381.41,300.30 L381.90,300.34 L382.38,300.38 L382.87,300.42 L383.35,300.46 L383.84,300.50 L384.32,300.54 L384.81,300.58 L385.29,300.62 L385.78,300.67 L386.26,300.71 L386.75,300.75 L387.23,300.80 L387.72,300.84 L388.20,300.88 L388.69,300.93 L389.17,300.98 L389.66,301.02 L390.14,301.07 L390.63,301.11 L391.11,301.16 L391.59,301.21 L392.08,301.26 L392.56,301.31 L393.05,301.36 L393.53,301.41 L394.02,301.46 L394.50,301.51 L394.99,301.56 L395.47,301.61 L395.96,301.67 L396.44,301.72 L396.93,301.78 L397.41,301.83 L397.90,301.89 L398.38,301.95 L398.87,302.01 L399.35,302.07 L399.84,302.13 L400.32,302.19 L400.80,302.25 L401.29,302.32 L401.77,302.38 L402.26,302.45 L402.74,302.52 L403.23,302.59 L403.71,302.66 L404.20,302.73 L404.68,302.80 L405.17,302.88 L405.65,302.96 L406.14,303.04 L406.62,303.12 L407.11,303.21 L407.59,303.30 L408.08,303.39 L408.56,303.48 L409.05,303.58 L409.53,303.68 L410.02,303.78 L410.50,303.89 L410.98,303.99 L411.47,304.10 L411.95,304.21 L412.44,304.32 L412.92,304.44 L413.41,304.55 L413.89,304.67 L414.38,304.79 L414.86,304.91 L415.35,305.03 L415.83,305.15 L416.32,305.28 L416.80,305.40 L417.29,305.53 L417.77,305.65 L418.26,305.78 L418.74,305.91 L419.23,306.03 L419.71,306.16 L420.19,306.29 L420.68,306.41 L421.16,306.54 L421.65,306.67 L422.13,306.80 L422.62,306.92 L423.10,307.05 L423.59,307.18 L424.07,307.31 L424.56,307.44 L425.04,307.57 L425.53,307.71 L426.01,307.84 L426.50,307.98 L426.98,308.12 L427.47,308.27 L427.95,308.41 L428.44,308.57 L428.92,308.72 L429.41,308.88 L429.89,309.04 L430.37,309.21 L430.86,309.39 L431.34,309.57 L431.83,309.75 L432.31,309.95 L432.80,310.14 L433.28,310.35 L433.77,310.56 L434.25,310.78 L434.74,311.00 L435.22,311.23 L435.71,311.46 L436.19,311.70 L436.68,311.95 L437.16,312.20 L437.65,312.46 L438.13,312.72 L438.62,312.98 L439.10,313.26" fill="none" stroke="#1f2cff" stroke-width="1.5" stroke-linejoin="round" />
<path d="M295.76,237.99 L296.24,238.00 L296.72,238.00 L297.20,238.00 L297.68,238.00 L298.16,238.01 L298.64,238.01 L299.12,238.02 L299.60,238.03 L300.07,238.04 L300.55,238.05 L301.03,238.06 L301.51,238.07 L301.99,238.08 L302.47,238.09 L302.95,238.10 L303.43,238.12 L303.91,238.13 L304.39,238.14 L304.87,238.16 L305.35,238.17 L305.83,238.19 L306.31,238.21 L306.79,238.22 L307.27,238.24 L307.74,238.26 L308.22,238.28 L308.70,238.30 L309.18,238.31 L309.66,238.33 L310.14,238.36 L310.62,238.39 L311.10,238.42 L311.58,238.45 L312.06,238.49 L312.54,238.53 L313.02,238.57 L313.50,238.62 L313.98,238.66 L314.46,238.71 L314.94,238.77 L315.42,238.82 L315.89,238.88 L316.37,238.94 L316.85,239.00 L317.33,239.06 L317.81,239.12 L318.29,239.19 L318.77,239.25 L319.25,239.32 L319.73,239.39 L320.21,239.46 L320.69,239.53 L321.17,239.60 L321.65,239.67 L322.13,239.74 L322.61,239.81 L323.09,239.88 L323.57,239.95 L324.04,240.02 L324.52,240.09 L325.00,240.16 L325.48,240.22 L325.96,240.29 L326.44,240.36 L326.92,240.43 L327.40,240.51 L327.88,240.58 L328.36,240.65 L328.84,240.73 L329.32,240.81 L329.80,240.88 L330.28,240.96 L330.76,241.04 L331.24,241.12 L331.71,241.21 L332.19,241.29 L332.67,241.37 L333.15,241.46 L333.63,241.54 L334.11,241.63 L334.59,241.72 L335.07,241.81 L335.55,241.90 L336.03,241.99 L336.51,242.08 L336.99,242.17 L337.47,242.26 L337.95,242.36 L338.43,242.45 L338.91,242.55 L339.39,242.65 L339.86,242.74 L340.34,242.84 L340.82,242.94 L341.30,243.04 L341.78,243.14 L342.26,243.24 L342.74,243.35 L343.22,243.45 L343.70,243.56 L344.18,243.67 L344.66,243.78 L345.14,243.89 L345.62,244.00 L346.10,244.11 L346.58,244.23 L347.06,244.34 L347.53,244.46 L348.01,244.58 L348.49,244.70 L348.97,244.82 L349.45,244.94 L349.93,245.07 L350.41,245.19 L350.89,245.32 L351.37,245.45 L351.85,245.57 L352.33,245.70 L352.81,245.83 L353.29,245.97 L353.77,246.10 L354.25,246.23 L354.73,246.37 L355.21,246.50 L355.68,246.64 L356.16,246.78 L356.64,246.92 L357.12,247.06 L357.60,247.20 L358.08,247.34 L358.56,247.49 L359.04,247.63 L359.52,247.78 L360.00,247.93 L360.48,248.08 L360.96,248.24 L361.44,248.39 L361.92,248.55 L362.40,248.71 L362.88,248.87 L363.36,249.03 L363.83,249.19 L364.31,249.35 L364.79,249.52 L365.27,249.69 L365.75,249.86 L366.23,250.03 L366.71,250.20 L367.19,250.37 L367.67,250.55 L368.15,250.73 L368.63,250.91 L369.11,251.09 L369.59,251.27 L370.07,251.45 L370.55,251.64 L371.03,251.82 L371.50,252.01 L371.98,252.20 L372.46,252.39 L372.94,252.59 L373.42,252.78 L373.90,252.98 L374.38,253.18 L374.86,253.38 L375.34,253.59 L375.82,253.80 L376.30,254.01 L376.78,254.23 L377.26,254.44 L377.74,254.66 L378.22,254.89 L378.70,255.11 L379.18,255.34 L379.65,255.57 L380.13,255.80 L380.61,256.03 L381.09,256.27 L381.57,256.50 L382.05,256.74 L382.53,256.99 L383.01,257.23 L383.49,257.47 L383.97,257.72 L384.45,257.97 L384.93,258.22 L385.41,258.47 L385.89,258.72 L386.37,258.97 L386.85,259.23 L387.33,259.48 L387.80,259.74 L388.28,259.99 L388.76,260.25 L389.24,260.51 L389.72,260.76 L390.20,261.02 L390.68,261.29 L391.16,261.55 L391.64,261.82 L392.12,262.09 L392.60,262.36 L393.08,262.63 L393.56,262.91 L394.04,263.18 L394.52,263.46 L395.00,263.75 L395.47,264.03 L395.95,264.31 L396.43,264.60 L396.91,264.89 L397.39,265.18 L397.87,265.47 L398.35,265.77 L398.83,266.06 L399.31,266.36 L399.79,266.66 L400.27,266.96 L400.75,267.26 L401.23,267.57 L401.71,267.87 L402.19,268.18 L402.67,268.49 L403.15,268.80 L403.62,269.10 L404.10,269.42 L404.58,269.73 L405.06,270.04 L405.54,270.35 L406.02,270.67 L406.50,271.00 L406.98,271.32 L407.46,271.65 L407.94,271.99 L408.42,272.32 L408.90,272.67 L409.38,273.01 L409.86,273.36 L410.34,273.71 L410.82,274.06 L411.29,274.41 L411.77,274.77 L412.25,275.13 L412.73,275.49 L413.21,275.85 L413.69,276.21 L414.17,276.58 L414.65,276.94 L415.13,277.30 L415.61,277.67 L416.09,278.03 L416.57,278.39 L417.05,278.75 L417.53,279.11 L418.01,279.47 L418.49,279.82 L418.97,280.17 L419.44,280.52 L419.92,280.86 L420.40,281.20 L420.88,281.54 L421.36,281.87 L421.84,282.19 L422.32,282.50 L422.80,282.81 L423.28,283.11 L423.76,283.40 L424.24,283.69 L424.72,283.98 L425.20,284.27 L425.68,284.55 L426.16,284.84 L426.64,285.12 L427.12,285.41 L427.59,285.70 L428.07,286.00 L428.55,286.30 L429.03,286.62 L429.51,286.94 L429.99,287.27 L430.47,287.62 L430.95,287.98 L431.43,288.35 L431.91,288.73 L432.39,289.11 L432.87,289.51 L433.35,289.91 L433.83,290.33 L434.31,290.75 L434.79,291.18 L435.26,291.63 L435.74,292.08 L436.22,292.54 L436.70,293.01 L437.18,293.49 L437.66,293.99 L438.14,294.49 L438.62,295.01 L439.10,295.54" fill="none" stroke="#1f2cff" stroke-width="1.5" stroke-linejoin="round" stroke-dasharray="5.0,3.6"/>
<text x="305.20" y="235.20" font-size="9.5" text-anchor="middle" fill="#1a36f0" stroke="#1a36f0" font-weight="normal" >31.2</text>
<text x="336.80" y="238.10" font-size="9.5" text-anchor="middle" fill="#1a36f0" stroke="#1a36f0" font-weight="normal" >29.2</text>
<text x="368.60" y="246.50" font-size="9.5" text-anchor="middle" fill="#1a36f0" stroke="#1a36f0" font-weight="normal" >23.7</text>
<text x="399.40" y="260.20" font-size="9.5" text-anchor="middle" fill="#1a36f0" stroke="#1a36f0" font-weight="normal" >15.8</text>
<text x="429.00" y="281.00" font-size="9.5" text-anchor="middle" fill="#1a36f0" stroke="#1a36f0" font-weight="normal" >8.3</text>
<text x="304.80" y="296.40" font-size="9.5" text-anchor="middle" fill="#1a36f0" stroke="#1a36f0" font-weight="normal" >25.2</text>
<text x="335.90" y="296.00" font-size="9.5" text-anchor="middle" fill="#1a36f0" stroke="#1a36f0" font-weight="normal" >25.6</text>
<text x="367.90" y="297.50" font-size="9.5" text-anchor="middle" fill="#1a36f0" stroke="#1a36f0" font-weight="normal" >24.7</text>
<text x="400.20" y="299.20" font-size="9.5" text-anchor="middle" fill="#1a36f0" stroke="#1a36f0" font-weight="normal" >23.2</text>
<text x="429.20" y="306.00" font-size="9.5" text-anchor="middle" fill="#1a36f0" stroke="#1a36f0" font-weight="normal" >19.6</text>
<ellipse cx="352.8" cy="295.4" rx="3.6" ry="9.2" fill="none" stroke="#111" stroke-width="1.4" stroke-dasharray="1.5,0.9"/>
<path d="M353.6,286.9 Q352.5,286.4 351,286.4 L346.5,286.4" fill="none" stroke="#111" stroke-width="1.3"/>
<path d="M339.3,286.4 L347.9,284.3 L346.9,286.4 L347.9,288.5 z" fill="#111"/>
<ellipse cx="411.6" cy="273.0" rx="3.5" ry="8.1" fill="none" stroke="#111" stroke-width="1.4" stroke-dasharray="1.5,0.9"/>
<path d="M410.6,264.2 Q412,262.6 415,262.6 L418.5,262.6" fill="none" stroke="#111" stroke-width="1.3"/>
<path d="M425.2,262.6 L416.6,260.5 L417.6,262.6 L416.6,264.7 z" fill="#111"/>
<text x="486.20" y="199.86" font-size="10.5" text-anchor="middle" fill="#111" stroke="#111" font-weight="normal" >(f)</text>
<line x1="557.60" y1="198.90" x2="557.60" y2="351.30" stroke="#333" stroke-width="0.7" stroke-dasharray="2,1.55"/>
<line x1="590.40" y1="198.90" x2="590.40" y2="351.30" stroke="#333" stroke-width="0.7" stroke-dasharray="2,1.55"/>
<line x1="623.20" y1="198.90" x2="623.20" y2="351.30" stroke="#333" stroke-width="0.7" stroke-dasharray="2,1.55"/>
<line x1="656.00" y1="198.90" x2="656.00" y2="351.30" stroke="#333" stroke-width="0.7" stroke-dasharray="2,1.55"/>
<line x1="524.80" y1="351.30" x2="524.80" y2="348.30" stroke="#3a3a3a" stroke-width="0.7" />
<line x1="534.67" y1="351.30" x2="534.67" y2="349.50" stroke="#3a3a3a" stroke-width="0.7" />
<line x1="540.45" y1="351.30" x2="540.45" y2="349.50" stroke="#3a3a3a" stroke-width="0.7" />
<line x1="544.55" y1="351.30" x2="544.55" y2="349.50" stroke="#3a3a3a" stroke-width="0.7" />
<line x1="547.73" y1="351.30" x2="547.73" y2="349.50" stroke="#3a3a3a" stroke-width="0.7" />
<line x1="550.32" y1="351.30" x2="550.32" y2="349.50" stroke="#3a3a3a" stroke-width="0.7" />
<line x1="552.52" y1="351.30" x2="552.52" y2="349.50" stroke="#3a3a3a" stroke-width="0.7" />
<line x1="554.42" y1="351.30" x2="554.42" y2="349.50" stroke="#3a3a3a" stroke-width="0.7" />
<line x1="556.10" y1="351.30" x2="556.10" y2="349.50" stroke="#3a3a3a" stroke-width="0.7" />
<line x1="557.60" y1="351.30" x2="557.60" y2="348.30" stroke="#3a3a3a" stroke-width="0.7" />
<line x1="567.47" y1="351.30" x2="567.47" y2="349.50" stroke="#3a3a3a" stroke-width="0.7" />
<line x1="573.25" y1="351.30" x2="573.25" y2="349.50" stroke="#3a3a3a" stroke-width="0.7" />
<line x1="577.35" y1="351.30" x2="577.35" y2="349.50" stroke="#3a3a3a" stroke-width="0.7" />
<line x1="580.53" y1="351.30" x2="580.53" y2="349.50" stroke="#3a3a3a" stroke-width="0.7" />
<line x1="583.12" y1="351.30" x2="583.12" y2="349.50" stroke="#3a3a3a" stroke-width="0.7" />
<line x1="585.32" y1="351.30" x2="585.32" y2="349.50" stroke="#3a3a3a" stroke-width="0.7" />
<line x1="587.22" y1="351.30" x2="587.22" y2="349.50" stroke="#3a3a3a" stroke-width="0.7" />
<line x1="588.90" y1="351.30" x2="588.90" y2="349.50" stroke="#3a3a3a" stroke-width="0.7" />
<line x1="590.40" y1="351.30" x2="590.40" y2="348.30" stroke="#3a3a3a" stroke-width="0.7" />
<line x1="600.27" y1="351.30" x2="600.27" y2="349.50" stroke="#3a3a3a" stroke-width="0.7" />
<line x1="606.05" y1="351.30" x2="606.05" y2="349.50" stroke="#3a3a3a" stroke-width="0.7" />
<line x1="610.15" y1="351.30" x2="610.15" y2="349.50" stroke="#3a3a3a" stroke-width="0.7" />
<line x1="613.33" y1="351.30" x2="613.33" y2="349.50" stroke="#3a3a3a" stroke-width="0.7" />
<line x1="615.92" y1="351.30" x2="615.92" y2="349.50" stroke="#3a3a3a" stroke-width="0.7" />
<line x1="618.12" y1="351.30" x2="618.12" y2="349.50" stroke="#3a3a3a" stroke-width="0.7" />
<line x1="620.02" y1="351.30" x2="620.02" y2="349.50" stroke="#3a3a3a" stroke-width="0.7" />
<line x1="621.70" y1="351.30" x2="621.70" y2="349.50" stroke="#3a3a3a" stroke-width="0.7" />
<line x1="623.20" y1="351.30" x2="623.20" y2="348.30" stroke="#3a3a3a" stroke-width="0.7" />
<line x1="633.07" y1="351.30" x2="633.07" y2="349.50" stroke="#3a3a3a" stroke-width="0.7" />
<line x1="638.85" y1="351.30" x2="638.85" y2="349.50" stroke="#3a3a3a" stroke-width="0.7" />
<line x1="642.95" y1="351.30" x2="642.95" y2="349.50" stroke="#3a3a3a" stroke-width="0.7" />
<line x1="646.13" y1="351.30" x2="646.13" y2="349.50" stroke="#3a3a3a" stroke-width="0.7" />
<line x1="648.72" y1="351.30" x2="648.72" y2="349.50" stroke="#3a3a3a" stroke-width="0.7" />
<line x1="650.92" y1="351.30" x2="650.92" y2="349.50" stroke="#3a3a3a" stroke-width="0.7" />
<line x1="652.82" y1="351.30" x2="652.82" y2="349.50" stroke="#3a3a3a" stroke-width="0.7" />
<line x1="654.50" y1="351.30" x2="654.50" y2="349.50" stroke="#3a3a3a" stroke-width="0.7" />
<line x1="656.00" y1="351.30" x2="656.00" y2="348.30" stroke="#3a3a3a" stroke-width="0.7" />
<line x1="665.87" y1="351.30" x2="665.87" y2="349.50" stroke="#3a3a3a" stroke-width="0.7" />
<line x1="671.65" y1="351.30" x2="671.65" y2="349.50" stroke="#3a3a3a" stroke-width="0.7" />
<line x1="524.10" y1="351.30" x2="527.10" y2="351.30" stroke="#3a3a3a" stroke-width="0.7" />
<line x1="524.10" y1="328.36" x2="525.90" y2="328.36" stroke="#3a3a3a" stroke-width="0.7" />
<line x1="524.10" y1="314.94" x2="525.90" y2="314.94" stroke="#3a3a3a" stroke-width="0.7" />
<line x1="524.10" y1="305.42" x2="525.90" y2="305.42" stroke="#3a3a3a" stroke-width="0.7" />
<line x1="524.10" y1="298.04" x2="525.90" y2="298.04" stroke="#3a3a3a" stroke-width="0.7" />
<line x1="524.10" y1="292.00" x2="525.90" y2="292.00" stroke="#3a3a3a" stroke-width="0.7" />
<line x1="524.10" y1="286.90" x2="525.90" y2="286.90" stroke="#3a3a3a" stroke-width="0.7" />
<line x1="524.10" y1="282.48" x2="525.90" y2="282.48" stroke="#3a3a3a" stroke-width="0.7" />
<line x1="524.10" y1="278.59" x2="525.90" y2="278.59" stroke="#3a3a3a" stroke-width="0.7" />
<line x1="524.10" y1="275.10" x2="527.10" y2="275.10" stroke="#3a3a3a" stroke-width="0.7" />
<line x1="524.10" y1="252.16" x2="525.90" y2="252.16" stroke="#3a3a3a" stroke-width="0.7" />
<line x1="524.10" y1="238.74" x2="525.90" y2="238.74" stroke="#3a3a3a" stroke-width="0.7" />
<line x1="524.10" y1="229.22" x2="525.90" y2="229.22" stroke="#3a3a3a" stroke-width="0.7" />
<line x1="524.10" y1="221.84" x2="525.90" y2="221.84" stroke="#3a3a3a" stroke-width="0.7" />
<line x1="524.10" y1="215.80" x2="525.90" y2="215.80" stroke="#3a3a3a" stroke-width="0.7" />
<line x1="524.10" y1="210.70" x2="525.90" y2="210.70" stroke="#3a3a3a" stroke-width="0.7" />
<line x1="524.10" y1="206.28" x2="525.90" y2="206.28" stroke="#3a3a3a" stroke-width="0.7" />
<line x1="524.10" y1="202.39" x2="525.90" y2="202.39" stroke="#3a3a3a" stroke-width="0.7" />
<line x1="524.10" y1="198.90" x2="527.10" y2="198.90" stroke="#3a3a3a" stroke-width="0.7" />
<text x="524.30" y="363.20" font-size="9.5" text-anchor="middle" fill="#111" stroke="#111" font-weight="normal" >1</text>
<text x="557.10" y="363.20" font-size="9.5" text-anchor="middle" fill="#111" stroke="#111" font-weight="normal" >10</text>
<text x="589.90" y="363.20" font-size="9.5" text-anchor="middle" fill="#111" stroke="#111" font-weight="normal" >100</text>
<text x="622.70" y="363.20" font-size="9.5" text-anchor="middle" fill="#111" stroke="#111" font-weight="normal" >1000</text>
<text x="655.50" y="363.20" font-size="9.5" text-anchor="middle" fill="#111" stroke="#111" font-weight="normal" >10000</text>
<text x="514.70" y="354.10" font-size="9.5" text-anchor="end" fill="#111" stroke="#111" font-weight="normal" >1</text>
<text x="514.70" y="277.90" font-size="9.5" text-anchor="end" fill="#111" stroke="#111" font-weight="normal" >10</text>
<text x="514.70" y="201.70" font-size="9.5" text-anchor="end" fill="#111" stroke="#111" font-weight="normal" >100</text>
<rect x="524.10" y="198.90" width="150.60" height="152.40" stroke="#3a3a3a" stroke-width="1.0" fill="none"/>
<text x="600.5" y="378.30" font-size="9.5" text-anchor="middle" fill="#111" stroke="#111">Luminance /cd m<tspan dy="-3.8" font-size="7">&#8722;2</tspan></text>
<text transform="translate(494.2,279.7) rotate(-90)" x="0" y="3.40" font-size="9.5" text-anchor="middle" fill="#111" stroke="#111">External quantum efficiency /%</text>
<path d="M525.78,244.91 L526.28,244.89 L526.78,244.87 L527.28,244.85 L527.78,244.83 L528.27,244.81 L528.77,244.79 L529.27,244.78 L529.77,244.76 L530.27,244.74 L530.76,244.72 L531.26,244.70 L531.76,244.68 L532.26,244.67 L532.76,244.65 L533.25,244.63 L533.75,244.62 L534.25,244.60 L534.75,244.58 L535.25,244.56 L535.74,244.55 L536.24,244.53 L536.74,244.52 L537.24,244.50 L537.74,244.48 L538.24,244.47 L538.73,244.45 L539.23,244.44 L539.73,244.42 L540.23,244.41 L540.73,244.40 L541.22,244.38 L541.72,244.37 L542.22,244.35 L542.72,244.34 L543.22,244.32 L543.71,244.31 L544.21,244.29 L544.71,244.28 L545.21,244.26 L545.71,244.24 L546.20,244.23 L546.70,244.21 L547.20,244.20 L547.70,244.18 L548.20,244.16 L548.69,244.15 L549.19,244.14 L549.69,244.12 L550.19,244.11 L550.69,244.09 L551.18,244.08 L551.68,244.07 L552.18,244.06 L552.68,244.05 L553.18,244.04 L553.67,244.03 L554.17,244.02 L554.67,244.01 L555.17,244.01 L555.67,244.00 L556.16,244.00 L556.66,243.99 L557.16,243.99 L557.66,243.99 L558.16,243.99 L558.66,243.99 L559.15,244.00 L559.65,244.00 L560.15,244.00 L560.65,244.01 L561.15,244.01 L561.64,244.02 L562.14,244.02 L562.64,244.03 L563.14,244.03 L563.64,244.04 L564.13,244.05 L564.63,244.06 L565.13,244.07 L565.63,244.08 L566.13,244.08 L566.62,244.09 L567.12,244.10 L567.62,244.11 L568.12,244.12 L568.62,244.13 L569.11,244.15 L569.61,244.16 L570.11,244.17 L570.61,244.18 L571.11,244.19 L571.60,244.20 L572.10,244.21 L572.60,244.22 L573.10,244.23 L573.60,244.24 L574.09,244.25 L574.59,244.26 L575.09,244.28 L575.59,244.29 L576.09,244.30 L576.58,244.31 L577.08,244.33 L577.58,244.34 L578.08,244.35 L578.58,244.37 L579.08,244.38 L579.57,244.40 L580.07,244.41 L580.57,244.43 L581.07,244.45 L581.57,244.46 L582.06,244.48 L582.56,244.50 L583.06,244.51 L583.56,244.53 L584.06,244.55 L584.55,244.57 L585.05,244.58 L585.55,244.60 L586.05,244.62 L586.55,244.64 L587.04,244.66 L587.54,244.67 L588.04,244.69 L588.54,244.71 L589.04,244.73 L589.53,244.75 L590.03,244.76 L590.53,244.78 L591.03,244.80 L591.53,244.82 L592.02,244.84 L592.52,244.85 L593.02,244.87 L593.52,244.89 L594.02,244.91 L594.51,244.93 L595.01,244.94 L595.51,244.96 L596.01,244.98 L596.51,245.00 L597.00,245.02 L597.50,245.04 L598.00,245.06 L598.50,245.08 L599.00,245.10 L599.49,245.12 L599.99,245.14 L600.49,245.16 L600.99,245.18 L601.49,245.20 L601.99,245.22 L602.48,245.24 L602.98,245.26 L603.48,245.29 L603.98,245.31 L604.48,245.33 L604.97,245.36 L605.47,245.38 L605.97,245.40 L606.47,245.43 L606.97,245.45 L607.46,245.48 L607.96,245.51 L608.46,245.53 L608.96,245.56 L609.46,245.59 L609.95,245.61 L610.45,245.64 L610.95,245.67 L611.45,245.70 L611.95,245.73 L612.44,245.76 L612.94,245.79 L613.44,245.82 L613.94,245.86 L614.44,245.89 L614.93,245.92 L615.43,245.96 L615.93,245.99 L616.43,246.02 L616.93,246.06 L617.42,246.09 L617.92,246.13 L618.42,246.17 L618.92,246.20 L619.42,246.24 L619.91,246.28 L620.41,246.32 L620.91,246.36 L621.41,246.40 L621.91,246.44 L622.41,246.48 L622.90,246.52 L623.40,246.56 L623.90,246.60 L624.40,246.65 L624.90,246.69 L625.39,246.74 L625.89,246.78 L626.39,246.83 L626.89,246.88 L627.39,246.93 L627.88,246.98 L628.38,247.03 L628.88,247.08 L629.38,247.13 L629.88,247.18 L630.37,247.24 L630.87,247.29 L631.37,247.35 L631.87,247.40 L632.37,247.46 L632.86,247.52 L633.36,247.58 L633.86,247.64 L634.36,247.70 L634.86,247.76 L635.35,247.83 L635.85,247.89 L636.35,247.96 L636.85,248.02 L637.35,248.09 L637.84,248.16 L638.34,248.23 L638.84,248.30 L639.34,248.37 L639.84,248.45 L640.33,248.52 L640.83,248.60 L641.33,248.68 L641.83,248.76 L642.33,248.85 L642.83,248.93 L643.32,249.02 L643.82,249.11 L644.32,249.21 L644.82,249.30 L645.32,249.40 L645.81,249.50 L646.31,249.60 L646.81,249.70 L647.31,249.80 L647.81,249.91 L648.30,250.02 L648.80,250.13 L649.30,250.24 L649.80,250.35 L650.30,250.46 L650.79,250.58 L651.29,250.69 L651.79,250.81 L652.29,250.92 L652.79,251.04 L653.28,251.16 L653.78,251.28 L654.28,251.41 L654.78,251.53 L655.28,251.65 L655.77,251.78 L656.27,251.90 L656.77,252.03 L657.27,252.15 L657.77,252.28 L658.26,252.41 L658.76,252.54 L659.26,252.67 L659.76,252.80 L660.26,252.94 L660.75,253.08 L661.25,253.22 L661.75,253.36 L662.25,253.51 L662.75,253.67 L663.24,253.83 L663.74,253.99 L664.24,254.16 L664.74,254.33 L665.24,254.51 L665.74,254.70 L666.23,254.90 L666.73,255.10 L667.23,255.31 L667.73,255.53 L668.23,255.77 L668.72,256.00 L669.22,256.25 L669.72,256.51 L670.22,256.78 L670.72,257.05 L671.21,257.33 L671.71,257.63 L672.21,257.93 L672.71,258.23 L673.21,258.55 L673.70,258.87 L674.20,259.21 L674.70,259.55" fill="none" stroke="#1f2cff" stroke-width="1.5" stroke-linejoin="round" />
<text x="540.00" y="240.80" font-size="9.5" text-anchor="middle" fill="#1a36f0" stroke="#1a36f0" font-weight="normal" >24.9</text>
<text x="567.90" y="240.40" font-size="9.5" text-anchor="middle" fill="#1a36f0" stroke="#1a36f0" font-weight="normal" >25.6</text>
<text x="601.80" y="241.50" font-size="9.5" text-anchor="middle" fill="#1a36f0" stroke="#1a36f0" font-weight="normal" >25.0</text>
<text x="634.20" y="244.10" font-size="9.5" text-anchor="middle" fill="#1a36f0" stroke="#1a36f0" font-weight="normal" >23.7</text>
<text x="664.00" y="250.30" font-size="9.5" text-anchor="middle" fill="#1a36f0" stroke="#1a36f0" font-weight="normal" >20.2</text>
</svg>
</div>
</body></html>
